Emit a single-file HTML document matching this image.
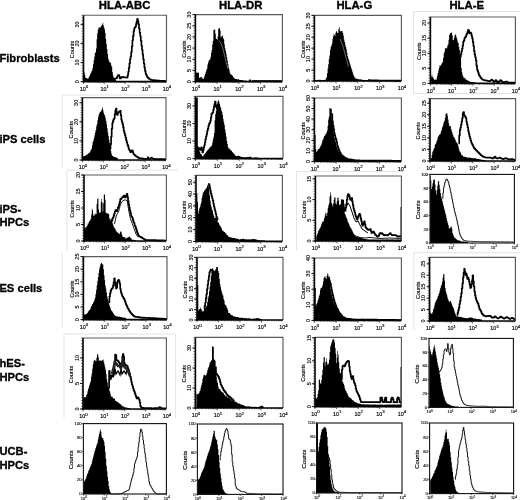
<!DOCTYPE html>
<html><head><meta charset="utf-8"><style>
html,body{margin:0;padding:0;background:#fff;}
svg{display:block;filter:blur(0.3px);font-family:"Liberation Sans",sans-serif;}
</style></head><body>
<svg width="520" height="500" viewBox="0 0 520 500">
<rect width="520" height="500" fill="#fff"/>
<path d="M84,81.6 L84,72.2 L84.6,72.2 L84.6,74.9 L85.2,74.9 L85.2,77.8 L85.8,77.8 L85.8,77.7 L86.4,77.7 L86.4,78.3 L87,78.3 L87,78.5 L87.6,78.5 L87.6,78.7 L88.2,78.7 L88.2,78.2 L88.8,78.2 L88.8,76.7 L89.4,76.7 L89.4,75.7 L90,75.7 L90,74.2 L90.6,74.2 L90.6,72.9 L91.2,72.9 L91.2,71.6 L91.8,71.6 L91.8,70.6 L92.4,70.6 L92.4,68 L93,68 L93,64.3 L93.6,64.3 L93.6,60.6 L94.2,60.6 L94.2,56.7 L94.8,56.7 L94.8,53.1 L95.4,53.1 L95.4,52.2 L96,52.2 L96,48.5 L96.6,48.5 L96.6,39.2 L97.2,39.2 L97.2,33.2 L97.8,33.2 L97.8,29.7 L98.4,29.7 L98.4,27.7 L99,27.7 L99,27.4 L99.6,27.4 L99.6,27.4 L100.2,27.4 L100.2,27.6 L100.8,27.6 L100.8,25.9 L101.4,25.9 L101.4,25.6 L102,25.6 L102,24.4 L102.6,24.4 L102.6,22.8 L103.2,22.8 L103.2,25.3 L103.8,25.3 L103.8,27.6 L104.4,27.6 L104.4,29.6 L105,29.6 L105,33 L105.6,33 L105.6,39.1 L106.2,39.1 L106.2,44 L106.8,44 L106.8,49 L107.4,49 L107.4,54 L108,54 L108,58.5 L108.6,58.5 L108.6,60.4 L109.2,60.4 L109.2,61.9 L109.8,61.9 L109.8,62.6 L110.4,62.6 L110.4,63.1 L111,63.1 L111,65.3 L111.6,65.3 L111.6,67 L112.2,67 L112.2,71.9 L112.8,71.9 L112.8,75.3 L113.4,75.3 L113.4,77.6 L114,77.6 L114,78.9 L114.6,78.9 L114.6,79 L115.2,79 L115.2,79.7 L115.8,79.7 L115.8,80.1 L116,80.1 L116,81.6 Z" fill="#000"/>
<path d="M113.2,78.8 L113.8,78.8 L113.8,78.8 L114.4,78.8 L114.4,78.5 L115,78.5 L115,78.6 L115.6,78.6 L115.6,78.5 L116.2,78.5 L116.2,78.3 L116.8,78.3 L116.8,77.4 L117.4,77.4 L117.4,75.9 L118,75.9 L118,75 L118.6,75 L118.6,75 L119.2,75 L119.2,76.3 L119.8,76.3 L119.8,78.5 L120.4,78.5 L120.4,78.1 L121,78.1 L121,77.7 L121.6,77.7 L121.6,77 L122.2,77 L122.2,77 L122.8,77 L122.8,76.8 L123.4,76.8 L123.4,77.2 L124,77.2 L124,77.3 L124.6,77.3 L124.6,77.5 L125.2,77.5 L125.2,77.5 L125.8,77.5 L125.8,77.3 L126.4,77.3 L126.4,77.4 L127,77.4 L127,77.6 L127.6,77.6 L127.6,75 L128.2,75 L128.2,71.8 L128.8,71.8 L128.8,67.8 L129.4,67.8 L129.4,63.4 L130,63.4 L130,59.1 L130.6,59.1 L130.6,56.2 L131.2,56.2 L131.2,52.1 L131.8,52.1 L131.8,46.4 L132.4,46.4 L132.4,40.3 L133,40.3 L133,35.9 L133.6,35.9 L133.6,31.1 L134.2,31.1 L134.2,28.3 L134.8,28.3 L134.8,27.3 L135.4,27.3 L135.4,26.4 L136,26.4 L136,23.8 L136.6,23.8 L136.6,21.3 L137.2,21.3 L137.2,18.9 L137.8,18.9 L137.8,20.8 L138.4,20.8 L138.4,24.2 L139,24.2 L139,28.4 L139.6,28.4 L139.6,32.6 L140.2,32.6 L140.2,36 L140.8,36 L140.8,40.7 L141.4,40.7 L141.4,45.5 L142,45.5 L142,49.9 L142.6,49.9 L142.6,54.5 L143.2,54.5 L143.2,59.2 L143.8,59.2 L143.8,63.5 L144.4,63.5 L144.4,67.5 L145,67.5 L145,70.9 L145.6,70.9 L145.6,73.6 L146.2,73.6 L146.2,74.9 L146.8,74.9 L146.8,76.3 L147.4,76.3 L147.4,77.3 L148,77.3 L148,77.9 L148.6,77.9 L148.6,78.4 L149.2,78.4 L149.2,78.9 L149.8,78.9 L149.8,79.1 L150.4,79.1 L150.4,79.8 L151,79.8 L151,79.9 L151.6,79.9 L151.6,80 L152.2,80 L152.2,80.1 L152.8,80.1 L152.8,80.1 L153.4,80.1 L153.4,80.2 L154,80.2 L154,80.2 L154.6,80.2 L154.6,80.4 L155.2,80.4 L155.2,80.3 L155.8,80.3 L155.8,80.3 L156.4,80.3 L156.4,80.4 L157,80.4 L157,80.5 L157.6,80.5 L157.6,80.6 L158.2,80.6 L158.2,80.6 L158.8,80.6 L158.8,80.7 L159.4,80.7 L159.4,80.8 L160,80.8 L160,80.8 L160.6,80.8 L160.6,80.8 L161.2,80.8 L161.2,80.8 L161.8,80.8 L161.8,80.9 L162.4,80.9 L162.4,80.9 L163,80.9 L163,80.9 L163.6,80.9 L163.6,80.9 L164.2,80.9 L164.2,80.9 L164.8,80.9 L164.8,81 L165.4,81 L165.4,81 L166,81" fill="none" stroke="#000" stroke-width="1.7" stroke-linejoin="round"/>
<polyline points="83.5,15.2 166.5,15.2 166.5,81.6" fill="none" stroke="#5a5a5a" stroke-width="1.15"/>
<line x1="83.5" y1="15.2" x2="83.5" y2="82.4" stroke="#000" stroke-width="1.6"/>
<line x1="82.7" y1="81.6" x2="166.5" y2="81.6" stroke="#000" stroke-width="1.6"/>
<line x1="81.7" y1="81.6" x2="83.5" y2="81.6" stroke="#222" stroke-width="0.7"/>
<line x1="81.7" y1="78.9" x2="83.5" y2="78.9" stroke="#222" stroke-width="0.7"/>
<line x1="81.7" y1="76.3" x2="83.5" y2="76.3" stroke="#222" stroke-width="0.7"/>
<line x1="81.7" y1="73.6" x2="83.5" y2="73.6" stroke="#222" stroke-width="0.7"/>
<line x1="81.7" y1="71" x2="83.5" y2="71" stroke="#222" stroke-width="0.7"/>
<line x1="81.7" y1="68.3" x2="83.5" y2="68.3" stroke="#222" stroke-width="0.7"/>
<line x1="81.7" y1="65.7" x2="83.5" y2="65.7" stroke="#222" stroke-width="0.7"/>
<line x1="81.7" y1="63" x2="83.5" y2="63" stroke="#222" stroke-width="0.7"/>
<line x1="81.7" y1="60.4" x2="83.5" y2="60.4" stroke="#222" stroke-width="0.7"/>
<line x1="81.7" y1="57.7" x2="83.5" y2="57.7" stroke="#222" stroke-width="0.7"/>
<line x1="81.7" y1="55" x2="83.5" y2="55" stroke="#222" stroke-width="0.7"/>
<line x1="81.7" y1="52.4" x2="83.5" y2="52.4" stroke="#222" stroke-width="0.7"/>
<line x1="81.7" y1="49.7" x2="83.5" y2="49.7" stroke="#222" stroke-width="0.7"/>
<line x1="81.7" y1="47.1" x2="83.5" y2="47.1" stroke="#222" stroke-width="0.7"/>
<line x1="81.7" y1="44.4" x2="83.5" y2="44.4" stroke="#222" stroke-width="0.7"/>
<line x1="81.7" y1="41.8" x2="83.5" y2="41.8" stroke="#222" stroke-width="0.7"/>
<line x1="81.7" y1="39.1" x2="83.5" y2="39.1" stroke="#222" stroke-width="0.7"/>
<line x1="81.7" y1="36.4" x2="83.5" y2="36.4" stroke="#222" stroke-width="0.7"/>
<line x1="81.7" y1="33.8" x2="83.5" y2="33.8" stroke="#222" stroke-width="0.7"/>
<line x1="81.7" y1="31.1" x2="83.5" y2="31.1" stroke="#222" stroke-width="0.7"/>
<line x1="81.7" y1="28.5" x2="83.5" y2="28.5" stroke="#222" stroke-width="0.7"/>
<line x1="81.7" y1="25.8" x2="83.5" y2="25.8" stroke="#222" stroke-width="0.7"/>
<line x1="81.7" y1="23.2" x2="83.5" y2="23.2" stroke="#222" stroke-width="0.7"/>
<line x1="81.7" y1="20.5" x2="83.5" y2="20.5" stroke="#222" stroke-width="0.7"/>
<line x1="81.7" y1="17.9" x2="83.5" y2="17.9" stroke="#222" stroke-width="0.7"/>
<line x1="81.7" y1="15.2" x2="83.5" y2="15.2" stroke="#222" stroke-width="0.7"/>
<line x1="80.5" y1="81.6" x2="83.5" y2="81.6" stroke="#000" stroke-width="0.9"/>
<text x="79.3" y="81.6" transform="rotate(-90 79.3 81.6)" font-size="5.5" text-anchor="middle" stroke="#000" stroke-width="0.12">0</text>
<line x1="80.5" y1="62.5" x2="83.5" y2="62.5" stroke="#000" stroke-width="0.9"/>
<text x="79.3" y="62.5" transform="rotate(-90 79.3 62.5)" font-size="5.5" text-anchor="middle" stroke="#000" stroke-width="0.12">10</text>
<line x1="80.5" y1="43.4" x2="83.5" y2="43.4" stroke="#000" stroke-width="0.9"/>
<text x="79.3" y="43.4" transform="rotate(-90 79.3 43.4)" font-size="5.5" text-anchor="middle" stroke="#000" stroke-width="0.12">20</text>
<line x1="80.5" y1="24.4" x2="83.5" y2="24.4" stroke="#000" stroke-width="0.9"/>
<text x="79.3" y="24.4" transform="rotate(-90 79.3 24.4)" font-size="5.5" text-anchor="middle" stroke="#000" stroke-width="0.12">30</text>
<text x="73.9" y="49.4" transform="rotate(-90 73.9 49.4)" font-size="5.5" text-anchor="middle" stroke="#000" stroke-width="0.12">Counts</text>
<line x1="83.5" y1="81.6" x2="83.5" y2="84" stroke="#222" stroke-width="0.7"/>
<line x1="89.7" y1="81.6" x2="89.7" y2="82.9" stroke="#222" stroke-width="0.7"/>
<line x1="93.4" y1="81.6" x2="93.4" y2="82.9" stroke="#222" stroke-width="0.7"/>
<line x1="96" y1="81.6" x2="96" y2="82.9" stroke="#222" stroke-width="0.7"/>
<line x1="98" y1="81.6" x2="98" y2="82.9" stroke="#222" stroke-width="0.7"/>
<line x1="99.6" y1="81.6" x2="99.6" y2="82.9" stroke="#222" stroke-width="0.7"/>
<line x1="101" y1="81.6" x2="101" y2="82.9" stroke="#222" stroke-width="0.7"/>
<line x1="102.2" y1="81.6" x2="102.2" y2="82.9" stroke="#222" stroke-width="0.7"/>
<line x1="103.3" y1="81.6" x2="103.3" y2="82.9" stroke="#222" stroke-width="0.7"/>
<line x1="104.2" y1="81.6" x2="104.2" y2="84" stroke="#222" stroke-width="0.7"/>
<line x1="110.5" y1="81.6" x2="110.5" y2="82.9" stroke="#222" stroke-width="0.7"/>
<line x1="114.2" y1="81.6" x2="114.2" y2="82.9" stroke="#222" stroke-width="0.7"/>
<line x1="116.7" y1="81.6" x2="116.7" y2="82.9" stroke="#222" stroke-width="0.7"/>
<line x1="118.8" y1="81.6" x2="118.8" y2="82.9" stroke="#222" stroke-width="0.7"/>
<line x1="120.4" y1="81.6" x2="120.4" y2="82.9" stroke="#222" stroke-width="0.7"/>
<line x1="121.8" y1="81.6" x2="121.8" y2="82.9" stroke="#222" stroke-width="0.7"/>
<line x1="123" y1="81.6" x2="123" y2="82.9" stroke="#222" stroke-width="0.7"/>
<line x1="124.1" y1="81.6" x2="124.1" y2="82.9" stroke="#222" stroke-width="0.7"/>
<line x1="125" y1="81.6" x2="125" y2="84" stroke="#222" stroke-width="0.7"/>
<line x1="131.2" y1="81.6" x2="131.2" y2="82.9" stroke="#222" stroke-width="0.7"/>
<line x1="134.9" y1="81.6" x2="134.9" y2="82.9" stroke="#222" stroke-width="0.7"/>
<line x1="137.5" y1="81.6" x2="137.5" y2="82.9" stroke="#222" stroke-width="0.7"/>
<line x1="139.5" y1="81.6" x2="139.5" y2="82.9" stroke="#222" stroke-width="0.7"/>
<line x1="141.1" y1="81.6" x2="141.1" y2="82.9" stroke="#222" stroke-width="0.7"/>
<line x1="142.5" y1="81.6" x2="142.5" y2="82.9" stroke="#222" stroke-width="0.7"/>
<line x1="143.7" y1="81.6" x2="143.7" y2="82.9" stroke="#222" stroke-width="0.7"/>
<line x1="144.8" y1="81.6" x2="144.8" y2="82.9" stroke="#222" stroke-width="0.7"/>
<line x1="145.8" y1="81.6" x2="145.8" y2="84" stroke="#222" stroke-width="0.7"/>
<line x1="152" y1="81.6" x2="152" y2="82.9" stroke="#222" stroke-width="0.7"/>
<line x1="155.7" y1="81.6" x2="155.7" y2="82.9" stroke="#222" stroke-width="0.7"/>
<line x1="158.2" y1="81.6" x2="158.2" y2="82.9" stroke="#222" stroke-width="0.7"/>
<line x1="160.3" y1="81.6" x2="160.3" y2="82.9" stroke="#222" stroke-width="0.7"/>
<line x1="161.9" y1="81.6" x2="161.9" y2="82.9" stroke="#222" stroke-width="0.7"/>
<line x1="163.3" y1="81.6" x2="163.3" y2="82.9" stroke="#222" stroke-width="0.7"/>
<line x1="164.5" y1="81.6" x2="164.5" y2="82.9" stroke="#222" stroke-width="0.7"/>
<line x1="165.6" y1="81.6" x2="165.6" y2="82.9" stroke="#222" stroke-width="0.7"/>
<text x="84.1" y="91" font-size="5.4" text-anchor="middle" stroke="#000" stroke-width="0.15">10<tspan font-size="4.4" dy="-2.6">0</tspan></text>
<text x="104.8" y="91" font-size="5.4" text-anchor="middle" stroke="#000" stroke-width="0.15">10<tspan font-size="4.4" dy="-2.6">1</tspan></text>
<text x="125.6" y="91" font-size="5.4" text-anchor="middle" stroke="#000" stroke-width="0.15">10<tspan font-size="4.4" dy="-2.6">2</tspan></text>
<text x="146.3" y="91" font-size="5.4" text-anchor="middle" stroke="#000" stroke-width="0.15">10<tspan font-size="4.4" dy="-2.6">3</tspan></text>
<text x="167.1" y="91" font-size="5.4" text-anchor="middle" stroke="#000" stroke-width="0.15">10<tspan font-size="4.4" dy="-2.6">4</tspan></text>
<path d="M195.4,81.6 L195.4,72.5 L196,72.5 L196,72.5 L196.6,72.5 L196.6,72.7 L197.2,72.7 L197.2,72.6 L197.8,72.6 L197.8,73 L198.4,73 L198.4,72.5 L199,72.5 L199,77.7 L199.6,77.7 L199.6,77.9 L200.2,77.9 L200.2,77.1 L200.8,77.1 L200.8,76.8 L201.4,76.8 L201.4,77.3 L202,77.3 L202,78.1 L202.6,78.1 L202.6,78.7 L203.2,78.7 L203.2,78.9 L203.8,78.9 L203.8,77.6 L204.4,77.6 L204.4,75.6 L205,75.6 L205,74.1 L205.6,74.1 L205.6,72 L206.2,72 L206.2,70.1 L206.8,70.1 L206.8,68.4 L207.4,68.4 L207.4,64.6 L208,64.6 L208,62.4 L208.6,62.4 L208.6,60.6 L209.2,60.6 L209.2,59.8 L209.8,59.8 L209.8,59.5 L210.4,59.5 L210.4,56.9 L211,56.9 L211,52.8 L211.6,52.8 L211.6,50 L212.2,50 L212.2,44.6 L212.8,44.6 L212.8,40.8 L213.4,40.8 L213.4,30 L214,30 L214,29.8 L214.6,29.8 L214.6,29.5 L215.2,29.5 L215.2,33.8 L215.8,33.8 L215.8,39 L216.4,39 L216.4,38.7 L217,38.7 L217,39.7 L217.6,39.7 L217.6,36.6 L218.2,36.6 L218.2,29 L218.8,29 L218.8,28.2 L219.4,28.2 L219.4,28 L220,28 L220,30.4 L220.6,30.4 L220.6,37.5 L221.2,37.5 L221.2,36.6 L221.8,36.6 L221.8,36 L222.4,36 L222.4,35.4 L223,35.4 L223,37.9 L223.6,37.9 L223.6,39.6 L224.2,39.6 L224.2,44.2 L224.8,44.2 L224.8,48.3 L225.4,48.3 L225.4,50.9 L226,50.9 L226,53.8 L226.6,53.8 L226.6,57.3 L227.2,57.3 L227.2,60.5 L227.8,60.5 L227.8,64.2 L228.4,64.2 L228.4,67.6 L229,67.6 L229,69.3 L229.6,69.3 L229.6,72.4 L230.2,72.4 L230.2,74.1 L230.8,74.1 L230.8,74.8 L231.4,74.8 L231.4,74.8 L232,74.8 L232,75.4 L232.6,75.4 L232.6,76.3 L233.2,76.3 L233.2,77.2 L233.8,77.2 L233.8,77.9 L234.4,77.9 L234.4,78.5 L235,78.5 L235,78.9 L235.6,78.9 L235.6,79 L236.2,79 L236.2,78.9 L236.8,78.9 L236.8,79.2 L237.4,79.2 L237.4,79.5 L238,79.5 L238,79.1 L238.6,79.1 L238.6,79.6 L239.2,79.6 L239.2,79.9 L239.8,79.9 L239.8,79.9 L240.4,79.9 L240.4,80 L241,80 L241,79.9 L241.6,79.9 L241.6,79.9 L242.2,79.9 L242.2,80.3 L242.8,80.3 L242.8,80.2 L243.4,80.2 L243.4,80.6 L244,80.6 L244,80.8 L244.6,80.8 L244.6,80.5 L245.2,80.5 L245.2,80.6 L245.8,80.6 L245.8,80.7 L246.4,80.7 L246.4,80.8 L247,80.8 L247,80.9 L247.6,80.9 L247.6,81 L248.2,81 L248.2,80.9 L248.8,80.9 L248.8,80.2 L249.4,80.2 L249.4,79.2 L250,79.2 L250,79.2 L250.6,79.2 L250.6,80 L251.2,80 L251.2,80.9 L251.8,80.9 L251.8,81.4 L252,81.4 L252,81.6 Z" fill="#000"/>
<path d="M252,81 L252.6,81 L252.6,81 L253.2,81 L253.2,81 L253.8,81 L253.8,81 L254.4,81 L254.4,81 L255,81 L255,81 L255.6,81 L255.6,81 L256.2,81 L256.2,81 L256.8,81 L256.8,81 L257.4,81 L257.4,81 L258,81 L258,81 L258.6,81 L258.6,81 L259.2,81 L259.2,81 L259.8,81 L259.8,81 L260.4,81 L260.4,81 L261,81 L261,81 L261.6,81 L261.6,81 L262.2,81 L262.2,81 L262.8,81 L262.8,81 L263.4,81 L263.4,81 L264,81 L264,81 L264.6,81 L264.6,81 L265.2,81 L265.2,81 L265.8,81 L265.8,81 L266.4,81 L266.4,81 L267,81 L267,81 L267.6,81 L267.6,81 L268.2,81 L268.2,81 L268.8,81 L268.8,81 L269.4,81 L269.4,81 L270,81 L270,81 L270.6,81 L270.6,81 L271.2,81 L271.2,81 L271.8,81 L271.8,81 L272.4,81 L272.4,81 L273,81 L273,81 L273.6,81 L273.6,81 L274.2,81 L274.2,81 L274.8,81 L274.8,81 L275.4,81 L275.4,81 L276,81 L276,81 L276.6,81 L276.6,81 L277.2,81 L277.2,81 L277.8,81 L277.8,81 L278.4,81 L278.4,81 L279,81 L279,81 L279.6,81 L279.6,81 L280.2,81 L280.2,81 L280.8,81 L280.8,81 L281.4,81 L281.4,81 L282,81" fill="none" stroke="#000" stroke-width="1.7" stroke-linejoin="round"/>
<polyline points="218.5,40.5 220.5,42.5 222.3,46.5 224,53 226,61.6 228,69" fill="none" stroke="#888" stroke-width="0.8"/>
<polyline points="195.4,14.6 282.4,14.6 282.4,81.6" fill="none" stroke="#5a5a5a" stroke-width="1.15"/>
<line x1="195.4" y1="14.6" x2="195.4" y2="82.4" stroke="#000" stroke-width="1.6"/>
<line x1="194.6" y1="81.6" x2="282.4" y2="81.6" stroke="#000" stroke-width="1.6"/>
<line x1="193.6" y1="81.6" x2="195.4" y2="81.6" stroke="#222" stroke-width="0.7"/>
<line x1="193.6" y1="78.9" x2="195.4" y2="78.9" stroke="#222" stroke-width="0.7"/>
<line x1="193.6" y1="76.2" x2="195.4" y2="76.2" stroke="#222" stroke-width="0.7"/>
<line x1="193.6" y1="73.6" x2="195.4" y2="73.6" stroke="#222" stroke-width="0.7"/>
<line x1="193.6" y1="70.9" x2="195.4" y2="70.9" stroke="#222" stroke-width="0.7"/>
<line x1="193.6" y1="68.2" x2="195.4" y2="68.2" stroke="#222" stroke-width="0.7"/>
<line x1="193.6" y1="65.5" x2="195.4" y2="65.5" stroke="#222" stroke-width="0.7"/>
<line x1="193.6" y1="62.8" x2="195.4" y2="62.8" stroke="#222" stroke-width="0.7"/>
<line x1="193.6" y1="60.2" x2="195.4" y2="60.2" stroke="#222" stroke-width="0.7"/>
<line x1="193.6" y1="57.5" x2="195.4" y2="57.5" stroke="#222" stroke-width="0.7"/>
<line x1="193.6" y1="54.8" x2="195.4" y2="54.8" stroke="#222" stroke-width="0.7"/>
<line x1="193.6" y1="52.1" x2="195.4" y2="52.1" stroke="#222" stroke-width="0.7"/>
<line x1="193.6" y1="49.4" x2="195.4" y2="49.4" stroke="#222" stroke-width="0.7"/>
<line x1="193.6" y1="46.8" x2="195.4" y2="46.8" stroke="#222" stroke-width="0.7"/>
<line x1="193.6" y1="44.1" x2="195.4" y2="44.1" stroke="#222" stroke-width="0.7"/>
<line x1="193.6" y1="41.4" x2="195.4" y2="41.4" stroke="#222" stroke-width="0.7"/>
<line x1="193.6" y1="38.7" x2="195.4" y2="38.7" stroke="#222" stroke-width="0.7"/>
<line x1="193.6" y1="36" x2="195.4" y2="36" stroke="#222" stroke-width="0.7"/>
<line x1="193.6" y1="33.4" x2="195.4" y2="33.4" stroke="#222" stroke-width="0.7"/>
<line x1="193.6" y1="30.7" x2="195.4" y2="30.7" stroke="#222" stroke-width="0.7"/>
<line x1="193.6" y1="28" x2="195.4" y2="28" stroke="#222" stroke-width="0.7"/>
<line x1="193.6" y1="25.3" x2="195.4" y2="25.3" stroke="#222" stroke-width="0.7"/>
<line x1="193.6" y1="22.6" x2="195.4" y2="22.6" stroke="#222" stroke-width="0.7"/>
<line x1="193.6" y1="20" x2="195.4" y2="20" stroke="#222" stroke-width="0.7"/>
<line x1="193.6" y1="17.3" x2="195.4" y2="17.3" stroke="#222" stroke-width="0.7"/>
<line x1="193.6" y1="14.6" x2="195.4" y2="14.6" stroke="#222" stroke-width="0.7"/>
<line x1="192.4" y1="81.6" x2="195.4" y2="81.6" stroke="#000" stroke-width="0.9"/>
<text x="191.2" y="81.6" transform="rotate(-90 191.2 81.6)" font-size="5.5" text-anchor="middle" stroke="#000" stroke-width="0.12">0</text>
<line x1="192.4" y1="70.4" x2="195.4" y2="70.4" stroke="#000" stroke-width="0.9"/>
<text x="191.2" y="70.4" transform="rotate(-90 191.2 70.4)" font-size="5.5" text-anchor="middle" stroke="#000" stroke-width="0.12">5</text>
<line x1="192.4" y1="59.3" x2="195.4" y2="59.3" stroke="#000" stroke-width="0.9"/>
<text x="191.2" y="59.3" transform="rotate(-90 191.2 59.3)" font-size="5.5" text-anchor="middle" stroke="#000" stroke-width="0.12">10</text>
<line x1="192.4" y1="48.1" x2="195.4" y2="48.1" stroke="#000" stroke-width="0.9"/>
<text x="191.2" y="48.1" transform="rotate(-90 191.2 48.1)" font-size="5.5" text-anchor="middle" stroke="#000" stroke-width="0.12">15</text>
<line x1="192.4" y1="36.9" x2="195.4" y2="36.9" stroke="#000" stroke-width="0.9"/>
<text x="191.2" y="36.9" transform="rotate(-90 191.2 36.9)" font-size="5.5" text-anchor="middle" stroke="#000" stroke-width="0.12">20</text>
<line x1="192.4" y1="25.8" x2="195.4" y2="25.8" stroke="#000" stroke-width="0.9"/>
<text x="191.2" y="25.8" transform="rotate(-90 191.2 25.8)" font-size="5.5" text-anchor="middle" stroke="#000" stroke-width="0.12">25</text>
<line x1="192.4" y1="14.6" x2="195.4" y2="14.6" stroke="#000" stroke-width="0.9"/>
<text x="191.2" y="14.6" transform="rotate(-90 191.2 14.6)" font-size="5.5" text-anchor="middle" stroke="#000" stroke-width="0.12">30</text>
<text x="185.8" y="49.1" transform="rotate(-90 185.8 49.1)" font-size="5.5" text-anchor="middle" stroke="#000" stroke-width="0.12">Counts</text>
<line x1="195.4" y1="81.6" x2="195.4" y2="84" stroke="#222" stroke-width="0.7"/>
<line x1="201.9" y1="81.6" x2="201.9" y2="82.9" stroke="#222" stroke-width="0.7"/>
<line x1="205.8" y1="81.6" x2="205.8" y2="82.9" stroke="#222" stroke-width="0.7"/>
<line x1="208.5" y1="81.6" x2="208.5" y2="82.9" stroke="#222" stroke-width="0.7"/>
<line x1="210.6" y1="81.6" x2="210.6" y2="82.9" stroke="#222" stroke-width="0.7"/>
<line x1="212.3" y1="81.6" x2="212.3" y2="82.9" stroke="#222" stroke-width="0.7"/>
<line x1="213.8" y1="81.6" x2="213.8" y2="82.9" stroke="#222" stroke-width="0.7"/>
<line x1="215" y1="81.6" x2="215" y2="82.9" stroke="#222" stroke-width="0.7"/>
<line x1="216.2" y1="81.6" x2="216.2" y2="82.9" stroke="#222" stroke-width="0.7"/>
<line x1="217.2" y1="81.6" x2="217.2" y2="84" stroke="#222" stroke-width="0.7"/>
<line x1="223.7" y1="81.6" x2="223.7" y2="82.9" stroke="#222" stroke-width="0.7"/>
<line x1="227.5" y1="81.6" x2="227.5" y2="82.9" stroke="#222" stroke-width="0.7"/>
<line x1="230.2" y1="81.6" x2="230.2" y2="82.9" stroke="#222" stroke-width="0.7"/>
<line x1="232.4" y1="81.6" x2="232.4" y2="82.9" stroke="#222" stroke-width="0.7"/>
<line x1="234.1" y1="81.6" x2="234.1" y2="82.9" stroke="#222" stroke-width="0.7"/>
<line x1="235.5" y1="81.6" x2="235.5" y2="82.9" stroke="#222" stroke-width="0.7"/>
<line x1="236.8" y1="81.6" x2="236.8" y2="82.9" stroke="#222" stroke-width="0.7"/>
<line x1="237.9" y1="81.6" x2="237.9" y2="82.9" stroke="#222" stroke-width="0.7"/>
<line x1="238.9" y1="81.6" x2="238.9" y2="84" stroke="#222" stroke-width="0.7"/>
<line x1="245.4" y1="81.6" x2="245.4" y2="82.9" stroke="#222" stroke-width="0.7"/>
<line x1="249.3" y1="81.6" x2="249.3" y2="82.9" stroke="#222" stroke-width="0.7"/>
<line x1="252" y1="81.6" x2="252" y2="82.9" stroke="#222" stroke-width="0.7"/>
<line x1="254.1" y1="81.6" x2="254.1" y2="82.9" stroke="#222" stroke-width="0.7"/>
<line x1="255.8" y1="81.6" x2="255.8" y2="82.9" stroke="#222" stroke-width="0.7"/>
<line x1="257.3" y1="81.6" x2="257.3" y2="82.9" stroke="#222" stroke-width="0.7"/>
<line x1="258.5" y1="81.6" x2="258.5" y2="82.9" stroke="#222" stroke-width="0.7"/>
<line x1="259.7" y1="81.6" x2="259.7" y2="82.9" stroke="#222" stroke-width="0.7"/>
<line x1="260.6" y1="81.6" x2="260.6" y2="84" stroke="#222" stroke-width="0.7"/>
<line x1="267.2" y1="81.6" x2="267.2" y2="82.9" stroke="#222" stroke-width="0.7"/>
<line x1="271" y1="81.6" x2="271" y2="82.9" stroke="#222" stroke-width="0.7"/>
<line x1="273.7" y1="81.6" x2="273.7" y2="82.9" stroke="#222" stroke-width="0.7"/>
<line x1="275.9" y1="81.6" x2="275.9" y2="82.9" stroke="#222" stroke-width="0.7"/>
<line x1="277.6" y1="81.6" x2="277.6" y2="82.9" stroke="#222" stroke-width="0.7"/>
<line x1="279" y1="81.6" x2="279" y2="82.9" stroke="#222" stroke-width="0.7"/>
<line x1="280.3" y1="81.6" x2="280.3" y2="82.9" stroke="#222" stroke-width="0.7"/>
<line x1="281.4" y1="81.6" x2="281.4" y2="82.9" stroke="#222" stroke-width="0.7"/>
<text x="196" y="91" font-size="5.4" text-anchor="middle" stroke="#000" stroke-width="0.15">10<tspan font-size="4.4" dy="-2.6">0</tspan></text>
<text x="217.8" y="91" font-size="5.4" text-anchor="middle" stroke="#000" stroke-width="0.15">10<tspan font-size="4.4" dy="-2.6">1</tspan></text>
<text x="239.5" y="91" font-size="5.4" text-anchor="middle" stroke="#000" stroke-width="0.15">10<tspan font-size="4.4" dy="-2.6">2</tspan></text>
<text x="261.2" y="91" font-size="5.4" text-anchor="middle" stroke="#000" stroke-width="0.15">10<tspan font-size="4.4" dy="-2.6">3</tspan></text>
<text x="283" y="91" font-size="5.4" text-anchor="middle" stroke="#000" stroke-width="0.15">10<tspan font-size="4.4" dy="-2.6">4</tspan></text>
<path d="M314.4,81 L314.4,80.1 L315,80.1 L315,80 L315.6,80 L315.6,79.7 L316.2,79.7 L316.2,80 L316.8,80 L316.8,80.1 L317.4,80.1 L317.4,80 L318,80 L318,79.8 L318.6,79.8 L318.6,79.9 L319.2,79.9 L319.2,79.7 L319.8,79.7 L319.8,79.7 L320.4,79.7 L320.4,80.1 L321,80.1 L321,80 L321.6,80 L321.6,79.9 L322.2,79.9 L322.2,80.1 L322.8,80.1 L322.8,79.9 L323.4,79.9 L323.4,80.1 L324,80.1 L324,80 L324.6,80 L324.6,79.8 L325.2,79.8 L325.2,79.8 L325.8,79.8 L325.8,78.5 L326.4,78.5 L326.4,76.9 L327,76.9 L327,73.3 L327.6,73.3 L327.6,68.6 L328.2,68.6 L328.2,64.2 L328.8,64.2 L328.8,59.1 L329.4,59.1 L329.4,55.6 L330,55.6 L330,50.1 L330.6,50.1 L330.6,47 L331.2,47 L331.2,45.5 L331.8,45.5 L331.8,43.5 L332.4,43.5 L332.4,39.1 L333,39.1 L333,36.6 L333.6,36.6 L333.6,34.1 L334.2,34.1 L334.2,34.8 L334.8,34.8 L334.8,35.9 L335.4,35.9 L335.4,32.7 L336,32.7 L336,30.9 L336.6,30.9 L336.6,31.8 L337.2,31.8 L337.2,32.9 L337.8,32.9 L337.8,33.1 L338.4,33.1 L338.4,28.8 L339,28.8 L339,27 L339.6,27 L339.6,30.2 L340.2,30.2 L340.2,31.4 L340.8,31.4 L340.8,31 L341.4,31 L341.4,31.2 L342,31.2 L342,31.1 L342.6,31.1 L342.6,33.1 L343.2,33.1 L343.2,35.6 L343.8,35.6 L343.8,39.4 L344.4,39.4 L344.4,41.9 L345,41.9 L345,44.5 L345.6,44.5 L345.6,47.1 L346.2,47.1 L346.2,49.2 L346.8,49.2 L346.8,52.7 L347.4,52.7 L347.4,56.3 L348,56.3 L348,58.5 L348.6,58.5 L348.6,59.8 L349.2,59.8 L349.2,62 L349.8,62 L349.8,63.9 L350.4,63.9 L350.4,65.9 L351,65.9 L351,68.1 L351.6,68.1 L351.6,69.8 L352.2,69.8 L352.2,71.8 L352.8,71.8 L352.8,73.7 L353.4,73.7 L353.4,75.6 L354,75.6 L354,76.5 L354.6,76.5 L354.6,77.7 L355.2,77.7 L355.2,78.4 L355.8,78.4 L355.8,78.2 L356.4,78.2 L356.4,78.7 L357,78.7 L357,79.1 L357.6,79.1 L357.6,79.3 L358.2,79.3 L358.2,79.1 L358.8,79.1 L358.8,79.2 L359.4,79.2 L359.4,79.4 L360,79.4 L360,79.3 L360.6,79.3 L360.6,79.4 L361.2,79.4 L361.2,79.4 L361.8,79.4 L361.8,79.8 L362.4,79.8 L362.4,79.9 L363,79.9 L363,80 L363.6,80 L363.6,79.7 L364.2,79.7 L364.2,80 L364.8,80 L364.8,80.1 L365.4,80.1 L365.4,79.9 L366,79.9 L366,80 L366.6,80 L366.6,80.1 L367.2,80.1 L367.2,80.1 L367.8,80.1 L367.8,80.2 L368,80.2 L368,81 Z" fill="#000"/>
<path d="M368,80.2 L368.6,80.2 L368.6,80.2 L369.2,80.2 L369.2,80.2 L369.8,80.2 L369.8,80.3 L370.4,80.3 L370.4,80.3 L371,80.3 L371,80.3 L371.6,80.3 L371.6,80.3 L372.2,80.3 L372.2,80.3 L372.8,80.3 L372.8,80.3 L373.4,80.3 L373.4,80.3 L374,80.3 L374,80.4 L374.6,80.4 L374.6,80.4 L375.2,80.4 L375.2,80.4 L375.8,80.4 L375.8,80.4 L376.4,80.4 L376.4,80.4 L377,80.4 L377,80.4 L377.6,80.4 L377.6,80.4 L378.2,80.4 L378.2,80.5 L378.8,80.5 L378.8,80.5 L379.4,80.5 L379.4,80.5 L380,80.5 L380,80.5 L380.6,80.5 L380.6,80.5 L381.2,80.5 L381.2,80.5 L381.8,80.5 L381.8,80.5 L382.4,80.5 L382.4,80.5 L383,80.5 L383,80.5 L383.6,80.5 L383.6,80.5 L384.2,80.5 L384.2,80.5 L384.8,80.5 L384.8,80.5 L385.4,80.5 L385.4,80.5 L386,80.5 L386,80.5 L386.6,80.5 L386.6,80.5 L387.2,80.5 L387.2,80.5 L387.8,80.5 L387.8,80.5 L388.4,80.5 L388.4,80.5 L389,80.5 L389,80.5 L389.6,80.5 L389.6,80.5 L390.2,80.5 L390.2,80.5 L390.8,80.5 L390.8,80.6 L391.4,80.6 L391.4,80.6 L392,80.6 L392,80.6 L392.6,80.6 L392.6,80.6 L393.2,80.6 L393.2,80.6 L393.8,80.6 L393.8,80.6 L394.4,80.6 L394.4,80.6 L395,80.6 L395,80.6 L395.6,80.6 L395.6,80.6 L396.2,80.6 L396.2,80.6 L396.8,80.6 L396.8,80.6 L397.4,80.6 L397.4,80.6 L398,80.6 L398,80.6 L398.6,80.6 L398.6,80.6 L399.2,80.6 L399.2,80.6 L399.8,80.6 L399.8,80.6 L400.4,80.6 L400.4,80.6 L401,80.6" fill="none" stroke="#000" stroke-width="1.7" stroke-linejoin="round"/>
<polyline points="340,39 342.5,44.5 344.5,52 346.5,59.5 348.5,66.5" fill="none" stroke="#888" stroke-width="0.8"/>
<polyline points="314.4,15.4 401.4,15.4 401.4,81" fill="none" stroke="#5a5a5a" stroke-width="1.15"/>
<line x1="314.4" y1="15.4" x2="314.4" y2="81.8" stroke="#000" stroke-width="1.6"/>
<line x1="313.6" y1="81" x2="401.4" y2="81" stroke="#000" stroke-width="1.6"/>
<line x1="312.6" y1="81" x2="314.4" y2="81" stroke="#222" stroke-width="0.7"/>
<line x1="312.6" y1="78.4" x2="314.4" y2="78.4" stroke="#222" stroke-width="0.7"/>
<line x1="312.6" y1="75.8" x2="314.4" y2="75.8" stroke="#222" stroke-width="0.7"/>
<line x1="312.6" y1="73.1" x2="314.4" y2="73.1" stroke="#222" stroke-width="0.7"/>
<line x1="312.6" y1="70.5" x2="314.4" y2="70.5" stroke="#222" stroke-width="0.7"/>
<line x1="312.6" y1="67.9" x2="314.4" y2="67.9" stroke="#222" stroke-width="0.7"/>
<line x1="312.6" y1="65.3" x2="314.4" y2="65.3" stroke="#222" stroke-width="0.7"/>
<line x1="312.6" y1="62.6" x2="314.4" y2="62.6" stroke="#222" stroke-width="0.7"/>
<line x1="312.6" y1="60" x2="314.4" y2="60" stroke="#222" stroke-width="0.7"/>
<line x1="312.6" y1="57.4" x2="314.4" y2="57.4" stroke="#222" stroke-width="0.7"/>
<line x1="312.6" y1="54.8" x2="314.4" y2="54.8" stroke="#222" stroke-width="0.7"/>
<line x1="312.6" y1="52.1" x2="314.4" y2="52.1" stroke="#222" stroke-width="0.7"/>
<line x1="312.6" y1="49.5" x2="314.4" y2="49.5" stroke="#222" stroke-width="0.7"/>
<line x1="312.6" y1="46.9" x2="314.4" y2="46.9" stroke="#222" stroke-width="0.7"/>
<line x1="312.6" y1="44.3" x2="314.4" y2="44.3" stroke="#222" stroke-width="0.7"/>
<line x1="312.6" y1="41.6" x2="314.4" y2="41.6" stroke="#222" stroke-width="0.7"/>
<line x1="312.6" y1="39" x2="314.4" y2="39" stroke="#222" stroke-width="0.7"/>
<line x1="312.6" y1="36.4" x2="314.4" y2="36.4" stroke="#222" stroke-width="0.7"/>
<line x1="312.6" y1="33.8" x2="314.4" y2="33.8" stroke="#222" stroke-width="0.7"/>
<line x1="312.6" y1="31.1" x2="314.4" y2="31.1" stroke="#222" stroke-width="0.7"/>
<line x1="312.6" y1="28.5" x2="314.4" y2="28.5" stroke="#222" stroke-width="0.7"/>
<line x1="312.6" y1="25.9" x2="314.4" y2="25.9" stroke="#222" stroke-width="0.7"/>
<line x1="312.6" y1="23.3" x2="314.4" y2="23.3" stroke="#222" stroke-width="0.7"/>
<line x1="312.6" y1="20.6" x2="314.4" y2="20.6" stroke="#222" stroke-width="0.7"/>
<line x1="312.6" y1="18" x2="314.4" y2="18" stroke="#222" stroke-width="0.7"/>
<line x1="312.6" y1="15.4" x2="314.4" y2="15.4" stroke="#222" stroke-width="0.7"/>
<line x1="311.4" y1="81" x2="314.4" y2="81" stroke="#000" stroke-width="0.9"/>
<text x="310.2" y="81" transform="rotate(-90 310.2 81)" font-size="5.5" text-anchor="middle" stroke="#000" stroke-width="0.12">0</text>
<line x1="311.4" y1="70.1" x2="314.4" y2="70.1" stroke="#000" stroke-width="0.9"/>
<text x="310.2" y="70.1" transform="rotate(-90 310.2 70.1)" font-size="5.5" text-anchor="middle" stroke="#000" stroke-width="0.12">5</text>
<line x1="311.4" y1="59.1" x2="314.4" y2="59.1" stroke="#000" stroke-width="0.9"/>
<text x="310.2" y="59.1" transform="rotate(-90 310.2 59.1)" font-size="5.5" text-anchor="middle" stroke="#000" stroke-width="0.12">10</text>
<line x1="311.4" y1="48.2" x2="314.4" y2="48.2" stroke="#000" stroke-width="0.9"/>
<text x="310.2" y="48.2" transform="rotate(-90 310.2 48.2)" font-size="5.5" text-anchor="middle" stroke="#000" stroke-width="0.12">15</text>
<line x1="311.4" y1="37.3" x2="314.4" y2="37.3" stroke="#000" stroke-width="0.9"/>
<text x="310.2" y="37.3" transform="rotate(-90 310.2 37.3)" font-size="5.5" text-anchor="middle" stroke="#000" stroke-width="0.12">20</text>
<line x1="311.4" y1="26.3" x2="314.4" y2="26.3" stroke="#000" stroke-width="0.9"/>
<text x="310.2" y="26.3" transform="rotate(-90 310.2 26.3)" font-size="5.5" text-anchor="middle" stroke="#000" stroke-width="0.12">25</text>
<line x1="311.4" y1="15.4" x2="314.4" y2="15.4" stroke="#000" stroke-width="0.9"/>
<text x="310.2" y="15.4" transform="rotate(-90 310.2 15.4)" font-size="5.5" text-anchor="middle" stroke="#000" stroke-width="0.12">30</text>
<text x="304.8" y="49.2" transform="rotate(-90 304.8 49.2)" font-size="5.5" text-anchor="middle" stroke="#000" stroke-width="0.12">Counts</text>
<line x1="314.4" y1="81" x2="314.4" y2="83.4" stroke="#222" stroke-width="0.7"/>
<line x1="320.9" y1="81" x2="320.9" y2="82.3" stroke="#222" stroke-width="0.7"/>
<line x1="324.8" y1="81" x2="324.8" y2="82.3" stroke="#222" stroke-width="0.7"/>
<line x1="327.5" y1="81" x2="327.5" y2="82.3" stroke="#222" stroke-width="0.7"/>
<line x1="329.6" y1="81" x2="329.6" y2="82.3" stroke="#222" stroke-width="0.7"/>
<line x1="331.3" y1="81" x2="331.3" y2="82.3" stroke="#222" stroke-width="0.7"/>
<line x1="332.8" y1="81" x2="332.8" y2="82.3" stroke="#222" stroke-width="0.7"/>
<line x1="334" y1="81" x2="334" y2="82.3" stroke="#222" stroke-width="0.7"/>
<line x1="335.2" y1="81" x2="335.2" y2="82.3" stroke="#222" stroke-width="0.7"/>
<line x1="336.1" y1="81" x2="336.1" y2="83.4" stroke="#222" stroke-width="0.7"/>
<line x1="342.7" y1="81" x2="342.7" y2="82.3" stroke="#222" stroke-width="0.7"/>
<line x1="346.5" y1="81" x2="346.5" y2="82.3" stroke="#222" stroke-width="0.7"/>
<line x1="349.2" y1="81" x2="349.2" y2="82.3" stroke="#222" stroke-width="0.7"/>
<line x1="351.4" y1="81" x2="351.4" y2="82.3" stroke="#222" stroke-width="0.7"/>
<line x1="353.1" y1="81" x2="353.1" y2="82.3" stroke="#222" stroke-width="0.7"/>
<line x1="354.5" y1="81" x2="354.5" y2="82.3" stroke="#222" stroke-width="0.7"/>
<line x1="355.8" y1="81" x2="355.8" y2="82.3" stroke="#222" stroke-width="0.7"/>
<line x1="356.9" y1="81" x2="356.9" y2="82.3" stroke="#222" stroke-width="0.7"/>
<line x1="357.9" y1="81" x2="357.9" y2="83.4" stroke="#222" stroke-width="0.7"/>
<line x1="364.4" y1="81" x2="364.4" y2="82.3" stroke="#222" stroke-width="0.7"/>
<line x1="368.3" y1="81" x2="368.3" y2="82.3" stroke="#222" stroke-width="0.7"/>
<line x1="371" y1="81" x2="371" y2="82.3" stroke="#222" stroke-width="0.7"/>
<line x1="373.1" y1="81" x2="373.1" y2="82.3" stroke="#222" stroke-width="0.7"/>
<line x1="374.8" y1="81" x2="374.8" y2="82.3" stroke="#222" stroke-width="0.7"/>
<line x1="376.3" y1="81" x2="376.3" y2="82.3" stroke="#222" stroke-width="0.7"/>
<line x1="377.5" y1="81" x2="377.5" y2="82.3" stroke="#222" stroke-width="0.7"/>
<line x1="378.7" y1="81" x2="378.7" y2="82.3" stroke="#222" stroke-width="0.7"/>
<line x1="379.6" y1="81" x2="379.6" y2="83.4" stroke="#222" stroke-width="0.7"/>
<line x1="386.2" y1="81" x2="386.2" y2="82.3" stroke="#222" stroke-width="0.7"/>
<line x1="390" y1="81" x2="390" y2="82.3" stroke="#222" stroke-width="0.7"/>
<line x1="392.7" y1="81" x2="392.7" y2="82.3" stroke="#222" stroke-width="0.7"/>
<line x1="394.9" y1="81" x2="394.9" y2="82.3" stroke="#222" stroke-width="0.7"/>
<line x1="396.6" y1="81" x2="396.6" y2="82.3" stroke="#222" stroke-width="0.7"/>
<line x1="398" y1="81" x2="398" y2="82.3" stroke="#222" stroke-width="0.7"/>
<line x1="399.3" y1="81" x2="399.3" y2="82.3" stroke="#222" stroke-width="0.7"/>
<line x1="400.4" y1="81" x2="400.4" y2="82.3" stroke="#222" stroke-width="0.7"/>
<text x="315" y="90.4" font-size="5.4" text-anchor="middle" stroke="#000" stroke-width="0.15">10<tspan font-size="4.4" dy="-2.6">0</tspan></text>
<text x="336.8" y="90.4" font-size="5.4" text-anchor="middle" stroke="#000" stroke-width="0.15">10<tspan font-size="4.4" dy="-2.6">1</tspan></text>
<text x="358.5" y="90.4" font-size="5.4" text-anchor="middle" stroke="#000" stroke-width="0.15">10<tspan font-size="4.4" dy="-2.6">2</tspan></text>
<text x="380.2" y="90.4" font-size="5.4" text-anchor="middle" stroke="#000" stroke-width="0.15">10<tspan font-size="4.4" dy="-2.6">3</tspan></text>
<text x="402" y="90.4" font-size="5.4" text-anchor="middle" stroke="#000" stroke-width="0.15">10<tspan font-size="4.4" dy="-2.6">4</tspan></text>
<path d="M430.5,83.4 L430.5,77.5 L431.1,77.5 L431.1,76.7 L431.7,76.7 L431.7,75 L432.3,75 L432.3,77.1 L432.9,77.1 L432.9,77.6 L433.5,77.6 L433.5,78.9 L434.1,78.9 L434.1,79.7 L434.7,79.7 L434.7,79.8 L435.3,79.8 L435.3,79.5 L435.9,79.5 L435.9,80 L436.5,80 L436.5,78.2 L437.1,78.2 L437.1,75.6 L437.7,75.6 L437.7,73 L438.3,73 L438.3,70.3 L438.9,70.3 L438.9,67.9 L439.5,67.9 L439.5,65.3 L440.1,65.3 L440.1,65.8 L440.7,65.8 L440.7,65.2 L441.3,65.2 L441.3,63.7 L441.9,63.7 L441.9,63.1 L442.5,63.1 L442.5,61.7 L443.1,61.7 L443.1,58 L443.7,58 L443.7,53.6 L444.3,53.6 L444.3,51.5 L444.9,51.5 L444.9,48.1 L445.5,48.1 L445.5,48.8 L446.1,48.8 L446.1,47.7 L446.7,47.7 L446.7,48.3 L447.3,48.3 L447.3,45.6 L447.9,45.6 L447.9,44.6 L448.5,44.6 L448.5,39.7 L449.1,39.7 L449.1,35 L449.7,35 L449.7,33.6 L450.3,33.6 L450.3,32.9 L450.9,32.9 L450.9,32.8 L451.5,32.8 L451.5,32.6 L452.1,32.6 L452.1,35.2 L452.7,35.2 L452.7,40.1 L453.3,40.1 L453.3,40.2 L453.9,40.2 L453.9,38.1 L454.5,38.1 L454.5,35.2 L455.1,35.2 L455.1,34.2 L455.7,34.2 L455.7,35.5 L456.3,35.5 L456.3,37.6 L456.9,37.6 L456.9,39.4 L457.5,39.4 L457.5,42.2 L458.1,42.2 L458.1,43.3 L458.7,43.3 L458.7,46.9 L459.3,46.9 L459.3,50 L459.9,50 L459.9,55.8 L460.5,55.8 L460.5,58.7 L461.1,58.7 L461.1,68.1 L461.7,68.1 L461.7,72 L462.3,72 L462.3,75.1 L462.9,75.1 L462.9,76.4 L463.5,76.4 L463.5,77.8 L464.1,77.8 L464.1,77.8 L464.7,77.8 L464.7,78.3 L465.3,78.3 L465.3,79.3 L465.9,79.3 L465.9,79.6 L466.5,79.6 L466.5,80 L467.1,80 L467.1,80.3 L467.7,80.3 L467.7,80.5 L468.3,80.5 L468.3,80.9 L468.9,80.9 L468.9,81.3 L469.5,81.3 L469.5,81.6 L470.1,81.6 L470.1,82.1 L470.7,82.1 L470.7,81.9 L471.3,81.9 L471.3,82.1 L471.9,82.1 L471.9,82 L472.5,82 L472.5,82.2 L473.1,82.2 L473.1,82.1 L473.7,82.1 L473.7,82.3 L474.3,82.3 L474.3,82.4 L474.9,82.4 L474.9,82.5 L475.5,82.5 L475.5,82.6 L476,82.6 L476,83.4 Z" fill="#000"/>
<path d="M459.6,58.4 L460.2,58.4 L460.2,56.6 L460.8,56.6 L460.8,54.1 L461.4,54.1 L461.4,51.3 L462,51.3 L462,48.7 L462.6,48.7 L462.6,45.6 L463.2,45.6 L463.2,41.7 L463.8,41.7 L463.8,40.4 L464.4,40.4 L464.4,38.3 L465,38.3 L465,37.2 L465.6,37.2 L465.6,36.4 L466.2,36.4 L466.2,34.8 L466.8,34.8 L466.8,33.7 L467.4,33.7 L467.4,31.8 L468,31.8 L468,29.9 L468.6,29.9 L468.6,30.6 L469.2,30.6 L469.2,33.1 L469.8,33.1 L469.8,33.2 L470.4,33.2 L470.4,32.6 L471,32.6 L471,33.7 L471.6,33.7 L471.6,36 L472.2,36 L472.2,38.6 L472.8,38.6 L472.8,42.2 L473.4,42.2 L473.4,46 L474,46 L474,50.9 L474.6,50.9 L474.6,54.4 L475.2,54.4 L475.2,57.2 L475.8,57.2 L475.8,60.3 L476.4,60.3 L476.4,65.4 L477,65.4 L477,69.4 L477.6,69.4 L477.6,71.2 L478.2,71.2 L478.2,72.9 L478.8,72.9 L478.8,74.9 L479.4,74.9 L479.4,75.8 L480,75.8 L480,76.8 L480.6,76.8 L480.6,77.6 L481.2,77.6 L481.2,78.6 L481.8,78.6 L481.8,78.9 L482.4,78.9 L482.4,79.5 L483,79.5 L483,79.8 L483.6,79.8 L483.6,80 L484.2,80 L484.2,80 L484.8,80 L484.8,80.5 L485.4,80.5 L485.4,80.4 L486,80.4 L486,80.5 L486.6,80.5 L486.6,80.5 L487.2,80.5 L487.2,80.8 L487.8,80.8 L487.8,80.9 L488.4,80.9 L488.4,81 L489,81 L489,81 L489.6,81 L489.6,81.2 L490.2,81.2 L490.2,80.7 L490.8,80.7 L490.8,80.2 L491.4,80.2 L491.4,79.7 L492,79.7 L492,79.9 L492.6,79.9 L492.6,80.5 L493.2,80.5 L493.2,81.3 L493.8,81.3 L493.8,81.9 L494.4,81.9 L494.4,81.3 L495,81.3 L495,80.8 L495.6,80.8 L495.6,80.2 L496.2,80.2 L496.2,80.8 L496.8,80.8 L496.8,81.4 L497.4,81.4 L497.4,82.2 L498,82.2 L498,82.3 L498.6,82.3 L498.6,81.7 L499.2,81.7 L499.2,81.2 L499.8,81.2 L499.8,81 L500.4,81 L500.4,80.2 L501,80.2 L501,80.5 L501.6,80.5 L501.6,81.2 L502.2,81.2 L502.2,81.8 L502.8,81.8 L502.8,82.5 L503.4,82.5 L503.4,82.4 L504,82.4 L504,82.2 L504.6,82.2 L504.6,82 L505.2,82 L505.2,81.8 L505.8,81.8 L505.8,81.7 L506.4,81.7 L506.4,81.6 L507,81.6 L507,81.9 L507.6,81.9 L507.6,82.1 L508.2,82.1 L508.2,82.3 L508.8,82.3 L508.8,82.5 L509.4,82.5 L509.4,82.5 L510,82.5 L510,82.6 L510.6,82.6 L510.6,82.6 L511.2,82.6 L511.2,82.6 L511.8,82.6 L511.8,82.6 L512.4,82.6 L512.4,82.7 L513,82.7 L513,82.7 L513.6,82.7 L513.6,82.7 L514.2,82.7 L514.2,82.7 L514.8,82.7 L514.8,82.7 L515,82.7" fill="none" stroke="#000" stroke-width="1.7" stroke-linejoin="round"/>
<polyline points="430.4,17 515.4,17 515.4,83.4" fill="none" stroke="#5a5a5a" stroke-width="1.15"/>
<line x1="430.4" y1="17" x2="430.4" y2="84.2" stroke="#000" stroke-width="1.6"/>
<line x1="429.6" y1="83.4" x2="515.4" y2="83.4" stroke="#000" stroke-width="1.6"/>
<line x1="428.6" y1="83.4" x2="430.4" y2="83.4" stroke="#222" stroke-width="0.7"/>
<line x1="428.6" y1="80.7" x2="430.4" y2="80.7" stroke="#222" stroke-width="0.7"/>
<line x1="428.6" y1="78.1" x2="430.4" y2="78.1" stroke="#222" stroke-width="0.7"/>
<line x1="428.6" y1="75.4" x2="430.4" y2="75.4" stroke="#222" stroke-width="0.7"/>
<line x1="428.6" y1="72.8" x2="430.4" y2="72.8" stroke="#222" stroke-width="0.7"/>
<line x1="428.6" y1="70.1" x2="430.4" y2="70.1" stroke="#222" stroke-width="0.7"/>
<line x1="428.6" y1="67.5" x2="430.4" y2="67.5" stroke="#222" stroke-width="0.7"/>
<line x1="428.6" y1="64.8" x2="430.4" y2="64.8" stroke="#222" stroke-width="0.7"/>
<line x1="428.6" y1="62.2" x2="430.4" y2="62.2" stroke="#222" stroke-width="0.7"/>
<line x1="428.6" y1="59.5" x2="430.4" y2="59.5" stroke="#222" stroke-width="0.7"/>
<line x1="428.6" y1="56.8" x2="430.4" y2="56.8" stroke="#222" stroke-width="0.7"/>
<line x1="428.6" y1="54.2" x2="430.4" y2="54.2" stroke="#222" stroke-width="0.7"/>
<line x1="428.6" y1="51.5" x2="430.4" y2="51.5" stroke="#222" stroke-width="0.7"/>
<line x1="428.6" y1="48.9" x2="430.4" y2="48.9" stroke="#222" stroke-width="0.7"/>
<line x1="428.6" y1="46.2" x2="430.4" y2="46.2" stroke="#222" stroke-width="0.7"/>
<line x1="428.6" y1="43.6" x2="430.4" y2="43.6" stroke="#222" stroke-width="0.7"/>
<line x1="428.6" y1="40.9" x2="430.4" y2="40.9" stroke="#222" stroke-width="0.7"/>
<line x1="428.6" y1="38.2" x2="430.4" y2="38.2" stroke="#222" stroke-width="0.7"/>
<line x1="428.6" y1="35.6" x2="430.4" y2="35.6" stroke="#222" stroke-width="0.7"/>
<line x1="428.6" y1="32.9" x2="430.4" y2="32.9" stroke="#222" stroke-width="0.7"/>
<line x1="428.6" y1="30.3" x2="430.4" y2="30.3" stroke="#222" stroke-width="0.7"/>
<line x1="428.6" y1="27.6" x2="430.4" y2="27.6" stroke="#222" stroke-width="0.7"/>
<line x1="428.6" y1="25" x2="430.4" y2="25" stroke="#222" stroke-width="0.7"/>
<line x1="428.6" y1="22.3" x2="430.4" y2="22.3" stroke="#222" stroke-width="0.7"/>
<line x1="428.6" y1="19.7" x2="430.4" y2="19.7" stroke="#222" stroke-width="0.7"/>
<line x1="428.6" y1="17" x2="430.4" y2="17" stroke="#222" stroke-width="0.7"/>
<line x1="427.4" y1="83.4" x2="430.4" y2="83.4" stroke="#000" stroke-width="0.9"/>
<text x="426.2" y="83.4" transform="rotate(-90 426.2 83.4)" font-size="5.5" text-anchor="middle" stroke="#000" stroke-width="0.12">0</text>
<line x1="427.4" y1="68.3" x2="430.4" y2="68.3" stroke="#000" stroke-width="0.9"/>
<text x="426.2" y="68.3" transform="rotate(-90 426.2 68.3)" font-size="5.5" text-anchor="middle" stroke="#000" stroke-width="0.12">5</text>
<line x1="427.4" y1="53.2" x2="430.4" y2="53.2" stroke="#000" stroke-width="0.9"/>
<text x="426.2" y="53.2" transform="rotate(-90 426.2 53.2)" font-size="5.5" text-anchor="middle" stroke="#000" stroke-width="0.12">10</text>
<line x1="427.4" y1="38.1" x2="430.4" y2="38.1" stroke="#000" stroke-width="0.9"/>
<text x="426.2" y="38.1" transform="rotate(-90 426.2 38.1)" font-size="5.5" text-anchor="middle" stroke="#000" stroke-width="0.12">15</text>
<line x1="427.4" y1="23" x2="430.4" y2="23" stroke="#000" stroke-width="0.9"/>
<text x="426.2" y="23" transform="rotate(-90 426.2 23)" font-size="5.5" text-anchor="middle" stroke="#000" stroke-width="0.12">20</text>
<text x="420.8" y="51.2" transform="rotate(-90 420.8 51.2)" font-size="5.5" text-anchor="middle" stroke="#000" stroke-width="0.12">Counts</text>
<line x1="430.4" y1="83.4" x2="430.4" y2="85.8" stroke="#222" stroke-width="0.7"/>
<line x1="436.8" y1="83.4" x2="436.8" y2="84.7" stroke="#222" stroke-width="0.7"/>
<line x1="440.5" y1="83.4" x2="440.5" y2="84.7" stroke="#222" stroke-width="0.7"/>
<line x1="443.2" y1="83.4" x2="443.2" y2="84.7" stroke="#222" stroke-width="0.7"/>
<line x1="445.3" y1="83.4" x2="445.3" y2="84.7" stroke="#222" stroke-width="0.7"/>
<line x1="446.9" y1="83.4" x2="446.9" y2="84.7" stroke="#222" stroke-width="0.7"/>
<line x1="448.4" y1="83.4" x2="448.4" y2="84.7" stroke="#222" stroke-width="0.7"/>
<line x1="449.6" y1="83.4" x2="449.6" y2="84.7" stroke="#222" stroke-width="0.7"/>
<line x1="450.7" y1="83.4" x2="450.7" y2="84.7" stroke="#222" stroke-width="0.7"/>
<line x1="451.6" y1="83.4" x2="451.6" y2="85.8" stroke="#222" stroke-width="0.7"/>
<line x1="458" y1="83.4" x2="458" y2="84.7" stroke="#222" stroke-width="0.7"/>
<line x1="461.8" y1="83.4" x2="461.8" y2="84.7" stroke="#222" stroke-width="0.7"/>
<line x1="464.4" y1="83.4" x2="464.4" y2="84.7" stroke="#222" stroke-width="0.7"/>
<line x1="466.5" y1="83.4" x2="466.5" y2="84.7" stroke="#222" stroke-width="0.7"/>
<line x1="468.2" y1="83.4" x2="468.2" y2="84.7" stroke="#222" stroke-width="0.7"/>
<line x1="469.6" y1="83.4" x2="469.6" y2="84.7" stroke="#222" stroke-width="0.7"/>
<line x1="470.8" y1="83.4" x2="470.8" y2="84.7" stroke="#222" stroke-width="0.7"/>
<line x1="471.9" y1="83.4" x2="471.9" y2="84.7" stroke="#222" stroke-width="0.7"/>
<line x1="472.9" y1="83.4" x2="472.9" y2="85.8" stroke="#222" stroke-width="0.7"/>
<line x1="479.3" y1="83.4" x2="479.3" y2="84.7" stroke="#222" stroke-width="0.7"/>
<line x1="483" y1="83.4" x2="483" y2="84.7" stroke="#222" stroke-width="0.7"/>
<line x1="485.7" y1="83.4" x2="485.7" y2="84.7" stroke="#222" stroke-width="0.7"/>
<line x1="487.8" y1="83.4" x2="487.8" y2="84.7" stroke="#222" stroke-width="0.7"/>
<line x1="489.4" y1="83.4" x2="489.4" y2="84.7" stroke="#222" stroke-width="0.7"/>
<line x1="490.9" y1="83.4" x2="490.9" y2="84.7" stroke="#222" stroke-width="0.7"/>
<line x1="492.1" y1="83.4" x2="492.1" y2="84.7" stroke="#222" stroke-width="0.7"/>
<line x1="493.2" y1="83.4" x2="493.2" y2="84.7" stroke="#222" stroke-width="0.7"/>
<line x1="494.1" y1="83.4" x2="494.1" y2="85.8" stroke="#222" stroke-width="0.7"/>
<line x1="500.5" y1="83.4" x2="500.5" y2="84.7" stroke="#222" stroke-width="0.7"/>
<line x1="504.3" y1="83.4" x2="504.3" y2="84.7" stroke="#222" stroke-width="0.7"/>
<line x1="506.9" y1="83.4" x2="506.9" y2="84.7" stroke="#222" stroke-width="0.7"/>
<line x1="509" y1="83.4" x2="509" y2="84.7" stroke="#222" stroke-width="0.7"/>
<line x1="510.7" y1="83.4" x2="510.7" y2="84.7" stroke="#222" stroke-width="0.7"/>
<line x1="512.1" y1="83.4" x2="512.1" y2="84.7" stroke="#222" stroke-width="0.7"/>
<line x1="513.3" y1="83.4" x2="513.3" y2="84.7" stroke="#222" stroke-width="0.7"/>
<line x1="514.4" y1="83.4" x2="514.4" y2="84.7" stroke="#222" stroke-width="0.7"/>
<text x="431" y="92.8" font-size="5.4" text-anchor="middle" stroke="#000" stroke-width="0.15">10<tspan font-size="4.4" dy="-2.6">0</tspan></text>
<text x="452.2" y="92.8" font-size="5.4" text-anchor="middle" stroke="#000" stroke-width="0.15">10<tspan font-size="4.4" dy="-2.6">1</tspan></text>
<text x="473.5" y="92.8" font-size="5.4" text-anchor="middle" stroke="#000" stroke-width="0.15">10<tspan font-size="4.4" dy="-2.6">2</tspan></text>
<text x="494.8" y="92.8" font-size="5.4" text-anchor="middle" stroke="#000" stroke-width="0.15">10<tspan font-size="4.4" dy="-2.6">3</tspan></text>
<text x="516" y="92.8" font-size="5.4" text-anchor="middle" stroke="#000" stroke-width="0.15">10<tspan font-size="4.4" dy="-2.6">4</tspan></text>
<path d="M83,160 L83,156.4 L83.6,156.4 L83.6,156.1 L84.2,156.1 L84.2,156.1 L84.8,156.1 L84.8,155.8 L85.4,155.8 L85.4,155.6 L86,155.6 L86,155.1 L86.6,155.1 L86.6,154.7 L87.2,154.7 L87.2,154.3 L87.8,154.3 L87.8,153.8 L88.4,153.8 L88.4,153 L89,153 L89,153.1 L89.6,153.1 L89.6,152 L90.2,152 L90.2,150.9 L90.8,150.9 L90.8,149.7 L91.4,149.7 L91.4,148.6 L92,148.6 L92,145.5 L92.6,145.5 L92.6,142 L93.2,142 L93.2,140.4 L93.8,140.4 L93.8,137.9 L94.4,137.9 L94.4,135.2 L95,135.2 L95,132.6 L95.6,132.6 L95.6,129.9 L96.2,129.9 L96.2,126.3 L96.8,126.3 L96.8,124.1 L97.4,124.1 L97.4,120.3 L98,120.3 L98,117.2 L98.6,117.2 L98.6,114.6 L99.2,114.6 L99.2,113.3 L99.8,113.3 L99.8,111.8 L100.4,111.8 L100.4,111.7 L101,111.7 L101,111.1 L101.6,111.1 L101.6,108.9 L102.2,108.9 L102.2,107.2 L102.8,107.2 L102.8,109.9 L103.4,109.9 L103.4,112.8 L104,112.8 L104,114.6 L104.6,114.6 L104.6,115.6 L105.2,115.6 L105.2,118 L105.8,118 L105.8,120.7 L106.4,120.7 L106.4,124.3 L107,124.3 L107,128.2 L107.6,128.2 L107.6,132.6 L108.2,132.6 L108.2,135.7 L108.8,135.7 L108.8,139.8 L109.4,139.8 L109.4,143.1 L110,143.1 L110,147.2 L110.6,147.2 L110.6,150.7 L111.2,150.7 L111.2,153.6 L111.8,153.6 L111.8,155.4 L112.4,155.4 L112.4,155.9 L113,155.9 L113,156.2 L113.6,156.2 L113.6,156.9 L114.2,156.9 L114.2,157.1 L114.8,157.1 L114.8,157.3 L115.4,157.3 L115.4,157.3 L116,157.3 L116,157.8 L116.6,157.8 L116.6,157.6 L117.2,157.6 L117.2,158.2 L117.8,158.2 L117.8,158.3 L118,158.3 L118,160 Z" fill="#000"/>
<path d="M109.9,148.8 L110.5,148.8 L110.5,144.2 L111.1,144.2 L111.1,136.5 L111.7,136.5 L111.7,128.5 L112.3,128.5 L112.3,123 L112.9,123 L112.9,120.9 L113.5,120.9 L113.5,119.2 L114.1,119.2 L114.1,118.3 L114.7,118.3 L114.7,114.4 L115.3,114.4 L115.3,110.7 L115.9,110.7 L115.9,108.7 L116.5,108.7 L116.5,112.1 L117.1,112.1 L117.1,114.9 L117.7,114.9 L117.7,113 L118.3,113 L118.3,112.4 L118.9,112.4 L118.9,111.6 L119.5,111.6 L119.5,111.5 L120.1,111.5 L120.1,110.8 L120.7,110.8 L120.7,115.2 L121.3,115.2 L121.3,119.8 L121.9,119.8 L121.9,122 L122.5,122 L122.5,124.2 L123.1,124.2 L123.1,127.2 L123.7,127.2 L123.7,130.8 L124.3,130.8 L124.3,133 L124.9,133 L124.9,135.2 L125.5,135.2 L125.5,137.5 L126.1,137.5 L126.1,140.2 L126.7,140.2 L126.7,142.4 L127.3,142.4 L127.3,144.7 L127.9,144.7 L127.9,145.9 L128.5,145.9 L128.5,148.5 L129.1,148.5 L129.1,149.8 L129.7,149.8 L129.7,150.4 L130.3,150.4 L130.3,152.2 L130.9,152.2 L130.9,151.7 L131.5,151.7 L131.5,150.6 L132.1,150.6 L132.1,150.3 L132.7,150.3 L132.7,152.1 L133.3,152.1 L133.3,153.6 L133.9,153.6 L133.9,154.6 L134.5,154.6 L134.5,154.9 L135.1,154.9 L135.1,155.4 L135.7,155.4 L135.7,156.1 L136.3,156.1 L136.3,156.4 L136.9,156.4 L136.9,156.7 L137.5,156.7 L137.5,157.1 L138.1,157.1 L138.1,157.7 L138.7,157.7 L138.7,157.9 L139.3,157.9 L139.3,158.4 L139.9,158.4 L139.9,158.2 L140.5,158.2 L140.5,158.3 L141.1,158.3 L141.1,158.4 L141.7,158.4 L141.7,158.4 L142.3,158.4 L142.3,158.5 L142.9,158.5 L142.9,158.7 L143.5,158.7 L143.5,158.8 L144.1,158.8 L144.1,158.8 L144.7,158.8 L144.7,158.8 L145.3,158.8 L145.3,158.9 L145.9,158.9 L145.9,159 L146.5,159 L146.5,158.9 L147.1,158.9 L147.1,158.5 L147.7,158.5 L147.7,157.4 L148.3,157.4 L148.3,158.5 L148.9,158.5 L148.9,158.8 L149.5,158.8 L149.5,158.7 L150.1,158.7 L150.1,158.4 L150.7,158.4 L150.7,158 L151.3,158 L151.3,157.6 L151.9,157.6 L151.9,158 L152.5,158 L152.5,158.6 L153.1,158.6 L153.1,159 L153.7,159 L153.7,158.9 L154.3,158.9 L154.3,158.9 L154.9,158.9 L154.9,159.1 L155.5,159.1 L155.5,159.2 L156.1,159.2 L156.1,159 L156.7,159 L156.7,159 L157.3,159 L157.3,159 L157.9,159 L157.9,159.1 L158.5,159.1 L158.5,159.1 L159.1,159.1 L159.1,159.1 L159.7,159.1 L159.7,159.1 L160.3,159.1 L160.3,159.1 L160.9,159.1 L160.9,159.2 L161.5,159.2 L161.5,159.2 L162.1,159.2 L162.1,159.2 L162.7,159.2 L162.7,159.2 L163.3,159.2 L163.3,159.2 L163.9,159.2 L163.9,159.2 L164.5,159.2 L164.5,159.3 L165.1,159.3 L165.1,159.3 L165.7,159.3 L165.7,159.3 L166,159.3" fill="none" stroke="#000" stroke-width="1.7" stroke-linejoin="round"/>
<polyline points="82.4,97.6 166,97.6 166,160" fill="none" stroke="#5a5a5a" stroke-width="1.15"/>
<line x1="82.4" y1="97.6" x2="82.4" y2="160.8" stroke="#000" stroke-width="1.6"/>
<line x1="81.6" y1="160" x2="166" y2="160" stroke="#000" stroke-width="1.6"/>
<line x1="80.6" y1="160" x2="82.4" y2="160" stroke="#222" stroke-width="0.7"/>
<line x1="80.6" y1="157.5" x2="82.4" y2="157.5" stroke="#222" stroke-width="0.7"/>
<line x1="80.6" y1="155" x2="82.4" y2="155" stroke="#222" stroke-width="0.7"/>
<line x1="80.6" y1="152.5" x2="82.4" y2="152.5" stroke="#222" stroke-width="0.7"/>
<line x1="80.6" y1="150" x2="82.4" y2="150" stroke="#222" stroke-width="0.7"/>
<line x1="80.6" y1="147.5" x2="82.4" y2="147.5" stroke="#222" stroke-width="0.7"/>
<line x1="80.6" y1="145" x2="82.4" y2="145" stroke="#222" stroke-width="0.7"/>
<line x1="80.6" y1="142.5" x2="82.4" y2="142.5" stroke="#222" stroke-width="0.7"/>
<line x1="80.6" y1="140" x2="82.4" y2="140" stroke="#222" stroke-width="0.7"/>
<line x1="80.6" y1="137.5" x2="82.4" y2="137.5" stroke="#222" stroke-width="0.7"/>
<line x1="80.6" y1="135" x2="82.4" y2="135" stroke="#222" stroke-width="0.7"/>
<line x1="80.6" y1="132.5" x2="82.4" y2="132.5" stroke="#222" stroke-width="0.7"/>
<line x1="80.6" y1="130" x2="82.4" y2="130" stroke="#222" stroke-width="0.7"/>
<line x1="80.6" y1="127.6" x2="82.4" y2="127.6" stroke="#222" stroke-width="0.7"/>
<line x1="80.6" y1="125.1" x2="82.4" y2="125.1" stroke="#222" stroke-width="0.7"/>
<line x1="80.6" y1="122.6" x2="82.4" y2="122.6" stroke="#222" stroke-width="0.7"/>
<line x1="80.6" y1="120.1" x2="82.4" y2="120.1" stroke="#222" stroke-width="0.7"/>
<line x1="80.6" y1="117.6" x2="82.4" y2="117.6" stroke="#222" stroke-width="0.7"/>
<line x1="80.6" y1="115.1" x2="82.4" y2="115.1" stroke="#222" stroke-width="0.7"/>
<line x1="80.6" y1="112.6" x2="82.4" y2="112.6" stroke="#222" stroke-width="0.7"/>
<line x1="80.6" y1="110.1" x2="82.4" y2="110.1" stroke="#222" stroke-width="0.7"/>
<line x1="80.6" y1="107.6" x2="82.4" y2="107.6" stroke="#222" stroke-width="0.7"/>
<line x1="80.6" y1="105.1" x2="82.4" y2="105.1" stroke="#222" stroke-width="0.7"/>
<line x1="80.6" y1="102.6" x2="82.4" y2="102.6" stroke="#222" stroke-width="0.7"/>
<line x1="80.6" y1="100.1" x2="82.4" y2="100.1" stroke="#222" stroke-width="0.7"/>
<line x1="80.6" y1="97.6" x2="82.4" y2="97.6" stroke="#222" stroke-width="0.7"/>
<line x1="79.4" y1="160" x2="82.4" y2="160" stroke="#000" stroke-width="0.9"/>
<text x="78.2" y="160" transform="rotate(-90 78.2 160)" font-size="5.5" text-anchor="middle" stroke="#000" stroke-width="0.12">0</text>
<line x1="79.4" y1="140.9" x2="82.4" y2="140.9" stroke="#000" stroke-width="0.9"/>
<text x="78.2" y="140.9" transform="rotate(-90 78.2 140.9)" font-size="5.5" text-anchor="middle" stroke="#000" stroke-width="0.12">10</text>
<line x1="79.4" y1="121.8" x2="82.4" y2="121.8" stroke="#000" stroke-width="0.9"/>
<text x="78.2" y="121.8" transform="rotate(-90 78.2 121.8)" font-size="5.5" text-anchor="middle" stroke="#000" stroke-width="0.12">20</text>
<line x1="79.4" y1="102.8" x2="82.4" y2="102.8" stroke="#000" stroke-width="0.9"/>
<text x="78.2" y="102.8" transform="rotate(-90 78.2 102.8)" font-size="5.5" text-anchor="middle" stroke="#000" stroke-width="0.12">30</text>
<text x="72.8" y="129.8" transform="rotate(-90 72.8 129.8)" font-size="5.5" text-anchor="middle" stroke="#000" stroke-width="0.12">Counts</text>
<line x1="82.4" y1="160" x2="82.4" y2="162.4" stroke="#222" stroke-width="0.7"/>
<line x1="88.7" y1="160" x2="88.7" y2="161.3" stroke="#222" stroke-width="0.7"/>
<line x1="92.4" y1="160" x2="92.4" y2="161.3" stroke="#222" stroke-width="0.7"/>
<line x1="95" y1="160" x2="95" y2="161.3" stroke="#222" stroke-width="0.7"/>
<line x1="97" y1="160" x2="97" y2="161.3" stroke="#222" stroke-width="0.7"/>
<line x1="98.7" y1="160" x2="98.7" y2="161.3" stroke="#222" stroke-width="0.7"/>
<line x1="100.1" y1="160" x2="100.1" y2="161.3" stroke="#222" stroke-width="0.7"/>
<line x1="101.3" y1="160" x2="101.3" y2="161.3" stroke="#222" stroke-width="0.7"/>
<line x1="102.3" y1="160" x2="102.3" y2="161.3" stroke="#222" stroke-width="0.7"/>
<line x1="103.3" y1="160" x2="103.3" y2="162.4" stroke="#222" stroke-width="0.7"/>
<line x1="109.6" y1="160" x2="109.6" y2="161.3" stroke="#222" stroke-width="0.7"/>
<line x1="113.3" y1="160" x2="113.3" y2="161.3" stroke="#222" stroke-width="0.7"/>
<line x1="115.9" y1="160" x2="115.9" y2="161.3" stroke="#222" stroke-width="0.7"/>
<line x1="117.9" y1="160" x2="117.9" y2="161.3" stroke="#222" stroke-width="0.7"/>
<line x1="119.6" y1="160" x2="119.6" y2="161.3" stroke="#222" stroke-width="0.7"/>
<line x1="121" y1="160" x2="121" y2="161.3" stroke="#222" stroke-width="0.7"/>
<line x1="122.2" y1="160" x2="122.2" y2="161.3" stroke="#222" stroke-width="0.7"/>
<line x1="123.2" y1="160" x2="123.2" y2="161.3" stroke="#222" stroke-width="0.7"/>
<line x1="124.2" y1="160" x2="124.2" y2="162.4" stroke="#222" stroke-width="0.7"/>
<line x1="130.5" y1="160" x2="130.5" y2="161.3" stroke="#222" stroke-width="0.7"/>
<line x1="134.2" y1="160" x2="134.2" y2="161.3" stroke="#222" stroke-width="0.7"/>
<line x1="136.8" y1="160" x2="136.8" y2="161.3" stroke="#222" stroke-width="0.7"/>
<line x1="138.8" y1="160" x2="138.8" y2="161.3" stroke="#222" stroke-width="0.7"/>
<line x1="140.5" y1="160" x2="140.5" y2="161.3" stroke="#222" stroke-width="0.7"/>
<line x1="141.9" y1="160" x2="141.9" y2="161.3" stroke="#222" stroke-width="0.7"/>
<line x1="143.1" y1="160" x2="143.1" y2="161.3" stroke="#222" stroke-width="0.7"/>
<line x1="144.1" y1="160" x2="144.1" y2="161.3" stroke="#222" stroke-width="0.7"/>
<line x1="145.1" y1="160" x2="145.1" y2="162.4" stroke="#222" stroke-width="0.7"/>
<line x1="151.4" y1="160" x2="151.4" y2="161.3" stroke="#222" stroke-width="0.7"/>
<line x1="155.1" y1="160" x2="155.1" y2="161.3" stroke="#222" stroke-width="0.7"/>
<line x1="157.7" y1="160" x2="157.7" y2="161.3" stroke="#222" stroke-width="0.7"/>
<line x1="159.7" y1="160" x2="159.7" y2="161.3" stroke="#222" stroke-width="0.7"/>
<line x1="161.4" y1="160" x2="161.4" y2="161.3" stroke="#222" stroke-width="0.7"/>
<line x1="162.8" y1="160" x2="162.8" y2="161.3" stroke="#222" stroke-width="0.7"/>
<line x1="164" y1="160" x2="164" y2="161.3" stroke="#222" stroke-width="0.7"/>
<line x1="165" y1="160" x2="165" y2="161.3" stroke="#222" stroke-width="0.7"/>
<text x="83" y="169.4" font-size="5.4" text-anchor="middle" stroke="#000" stroke-width="0.15">10<tspan font-size="4.4" dy="-2.6">0</tspan></text>
<text x="103.9" y="169.4" font-size="5.4" text-anchor="middle" stroke="#000" stroke-width="0.15">10<tspan font-size="4.4" dy="-2.6">1</tspan></text>
<text x="124.8" y="169.4" font-size="5.4" text-anchor="middle" stroke="#000" stroke-width="0.15">10<tspan font-size="4.4" dy="-2.6">2</tspan></text>
<text x="145.7" y="169.4" font-size="5.4" text-anchor="middle" stroke="#000" stroke-width="0.15">10<tspan font-size="4.4" dy="-2.6">3</tspan></text>
<text x="166.6" y="169.4" font-size="5.4" text-anchor="middle" stroke="#000" stroke-width="0.15">10<tspan font-size="4.4" dy="-2.6">4</tspan></text>
<path d="M195.4,158.6 L195.4,97.2 L196,97.2 L196,97.8 L196.6,97.8 L196.6,97.3 L197.2,97.3 L197.2,97.6 L197.8,97.6 L197.8,146.3 L198.4,146.3 L198.4,149.1 L199,149.1 L199,150.6 L199.6,150.6 L199.6,151.8 L200.2,151.8 L200.2,153.5 L200.8,153.5 L200.8,154.1 L201.4,154.1 L201.4,154.8 L202,154.8 L202,156 L202.6,156 L202.6,156.4 L203.2,156.4 L203.2,155.5 L203.8,155.5 L203.8,154.6 L204.4,154.6 L204.4,154 L205,154 L205,153.3 L205.6,153.3 L205.6,152.6 L206.2,152.6 L206.2,151.5 L206.8,151.5 L206.8,150.8 L207.4,150.8 L207.4,149.9 L208,149.9 L208,149.4 L208.6,149.4 L208.6,149 L209.2,149 L209.2,148 L209.8,148 L209.8,147.1 L210.4,147.1 L210.4,146.7 L211,146.7 L211,146.5 L211.6,146.5 L211.6,144.9 L212.2,144.9 L212.2,142.4 L212.8,142.4 L212.8,139.5 L213.4,139.5 L213.4,136.8 L214,136.8 L214,133.1 L214.6,133.1 L214.6,120.3 L215.2,120.3 L215.2,114.2 L215.8,114.2 L215.8,110.8 L216.4,110.8 L216.4,107.5 L217,107.5 L217,103.5 L217.6,103.5 L217.6,100.9 L218.2,100.9 L218.2,100 L218.8,100 L218.8,101.7 L219.4,101.7 L219.4,104.1 L220,104.1 L220,106.3 L220.6,106.3 L220.6,108.1 L221.2,108.1 L221.2,110.5 L221.8,110.5 L221.8,112 L222.4,112 L222.4,115 L223,115 L223,118.9 L223.6,118.9 L223.6,122.3 L224.2,122.3 L224.2,125.1 L224.8,125.1 L224.8,129.4 L225.4,129.4 L225.4,132.7 L226,132.7 L226,136.8 L226.6,136.8 L226.6,141 L227.2,141 L227.2,143.9 L227.8,143.9 L227.8,146.9 L228.4,146.9 L228.4,148.6 L229,148.6 L229,148.5 L229.6,148.5 L229.6,149.2 L230.2,149.2 L230.2,149.8 L230.8,149.8 L230.8,150.6 L231.4,150.6 L231.4,151.1 L232,151.1 L232,151.9 L232.6,151.9 L232.6,152.5 L233.2,152.5 L233.2,153.2 L233.8,153.2 L233.8,154.1 L234.4,154.1 L234.4,154.6 L235,154.6 L235,155.4 L235.6,155.4 L235.6,155.9 L236.2,155.9 L236.2,156.3 L236.8,156.3 L236.8,155.8 L237.4,155.8 L237.4,156.1 L238,156.1 L238,155.8 L238.6,155.8 L238.6,155.7 L239.2,155.7 L239.2,155.9 L239.8,155.9 L239.8,156.3 L240.4,156.3 L240.4,156.8 L241,156.8 L241,157 L241.6,157 L241.6,156.8 L242.2,156.8 L242.2,156.9 L242.8,156.9 L242.8,157.2 L243.4,157.2 L243.4,157.3 L244,157.3 L244,157.3 L244.6,157.3 L244.6,157.3 L245.2,157.3 L245.2,157.4 L245.8,157.4 L245.8,157.1 L246.4,157.1 L246.4,157.1 L247,157.1 L247,157.1 L247.6,157.1 L247.6,157.2 L248.2,157.2 L248.2,156.9 L248.8,156.9 L248.8,156.9 L249.4,156.9 L249.4,156.6 L250,156.6 L250,156.6 L250.6,156.6 L250.6,156.9 L251.2,156.9 L251.2,157.5 L251.8,157.5 L251.8,157.7 L252.4,157.7 L252.4,157.8 L253,157.8 L253,157.9 L253.6,157.9 L253.6,157.8 L254.2,157.8 L254.2,157.6 L254.8,157.6 L254.8,157.4 L255.4,157.4 L255.4,157.2 L256,157.2 L256,157.4 L256.6,157.4 L256.6,157.6 L257.2,157.6 L257.2,157.6 L257.8,157.6 L257.8,157.8 L258.4,157.8 L258.4,157.9 L259,157.9 L259,158.1 L259.6,158.1 L259.6,158.2 L260,158.2 L260,158.6 Z" fill="#000"/>
<path d="M198.2,147.7 L198.8,147.7 L198.8,148.4 L199.4,148.4 L199.4,149.5 L200,149.5 L200,149.8 L200.6,149.8 L200.6,148.1 L201.2,148.1 L201.2,147.4 L201.8,147.4 L201.8,150 L202.4,150 L202.4,152.4 L203,152.4 L203,150.2 L203.6,150.2 L203.6,147.5 L204.2,147.5 L204.2,145.2 L204.8,145.2 L204.8,142.3 L205.4,142.3 L205.4,139.3 L206,139.3 L206,136.3 L206.6,136.3 L206.6,134 L207.2,134 L207.2,130.7 L207.8,130.7 L207.8,128.5 L208.4,128.5 L208.4,125.7 L209,125.7 L209,123.7 L209.6,123.7 L209.6,122.9 L210.2,122.9 L210.2,120.9 L210.8,120.9 L210.8,117.6 L211.4,117.6 L211.4,113.9 L212,113.9 L212,113.1 L212.6,113.1 L212.6,112.5 L213.2,112.5 L213.2,109.7 L213.8,109.7 L213.8,106.9 L214.4,106.9 L214.4,104.1 L215,104.1 L215,101.5 L215.6,101.5 L215.6,105.1 L216.2,105.1 L216.2,106.9 L216.8,106.9 L216.8,108.3 L217,108.3" fill="none" stroke="#000" stroke-width="1.7" stroke-linejoin="round"/>
<polyline points="195.4,96.4 283,96.4 283,158.6" fill="none" stroke="#5a5a5a" stroke-width="1.15"/>
<line x1="195.4" y1="96.4" x2="195.4" y2="159.4" stroke="#000" stroke-width="1.6"/>
<line x1="194.6" y1="158.6" x2="283" y2="158.6" stroke="#000" stroke-width="1.6"/>
<line x1="193.6" y1="158.6" x2="195.4" y2="158.6" stroke="#222" stroke-width="0.7"/>
<line x1="193.6" y1="156.1" x2="195.4" y2="156.1" stroke="#222" stroke-width="0.7"/>
<line x1="193.6" y1="153.6" x2="195.4" y2="153.6" stroke="#222" stroke-width="0.7"/>
<line x1="193.6" y1="151.1" x2="195.4" y2="151.1" stroke="#222" stroke-width="0.7"/>
<line x1="193.6" y1="148.6" x2="195.4" y2="148.6" stroke="#222" stroke-width="0.7"/>
<line x1="193.6" y1="146.2" x2="195.4" y2="146.2" stroke="#222" stroke-width="0.7"/>
<line x1="193.6" y1="143.7" x2="195.4" y2="143.7" stroke="#222" stroke-width="0.7"/>
<line x1="193.6" y1="141.2" x2="195.4" y2="141.2" stroke="#222" stroke-width="0.7"/>
<line x1="193.6" y1="138.7" x2="195.4" y2="138.7" stroke="#222" stroke-width="0.7"/>
<line x1="193.6" y1="136.2" x2="195.4" y2="136.2" stroke="#222" stroke-width="0.7"/>
<line x1="193.6" y1="133.7" x2="195.4" y2="133.7" stroke="#222" stroke-width="0.7"/>
<line x1="193.6" y1="131.2" x2="195.4" y2="131.2" stroke="#222" stroke-width="0.7"/>
<line x1="193.6" y1="128.7" x2="195.4" y2="128.7" stroke="#222" stroke-width="0.7"/>
<line x1="193.6" y1="126.3" x2="195.4" y2="126.3" stroke="#222" stroke-width="0.7"/>
<line x1="193.6" y1="123.8" x2="195.4" y2="123.8" stroke="#222" stroke-width="0.7"/>
<line x1="193.6" y1="121.3" x2="195.4" y2="121.3" stroke="#222" stroke-width="0.7"/>
<line x1="193.6" y1="118.8" x2="195.4" y2="118.8" stroke="#222" stroke-width="0.7"/>
<line x1="193.6" y1="116.3" x2="195.4" y2="116.3" stroke="#222" stroke-width="0.7"/>
<line x1="193.6" y1="113.8" x2="195.4" y2="113.8" stroke="#222" stroke-width="0.7"/>
<line x1="193.6" y1="111.3" x2="195.4" y2="111.3" stroke="#222" stroke-width="0.7"/>
<line x1="193.6" y1="108.8" x2="195.4" y2="108.8" stroke="#222" stroke-width="0.7"/>
<line x1="193.6" y1="106.4" x2="195.4" y2="106.4" stroke="#222" stroke-width="0.7"/>
<line x1="193.6" y1="103.9" x2="195.4" y2="103.9" stroke="#222" stroke-width="0.7"/>
<line x1="193.6" y1="101.4" x2="195.4" y2="101.4" stroke="#222" stroke-width="0.7"/>
<line x1="193.6" y1="98.9" x2="195.4" y2="98.9" stroke="#222" stroke-width="0.7"/>
<line x1="193.6" y1="96.4" x2="195.4" y2="96.4" stroke="#222" stroke-width="0.7"/>
<line x1="192.4" y1="158.6" x2="195.4" y2="158.6" stroke="#000" stroke-width="0.9"/>
<text x="191.2" y="158.6" transform="rotate(-90 191.2 158.6)" font-size="5.5" text-anchor="middle" stroke="#000" stroke-width="0.12">0</text>
<line x1="192.4" y1="141" x2="195.4" y2="141" stroke="#000" stroke-width="0.9"/>
<text x="191.2" y="141" transform="rotate(-90 191.2 141)" font-size="5.5" text-anchor="middle" stroke="#000" stroke-width="0.12">10</text>
<line x1="192.4" y1="123.5" x2="195.4" y2="123.5" stroke="#000" stroke-width="0.9"/>
<text x="191.2" y="123.5" transform="rotate(-90 191.2 123.5)" font-size="5.5" text-anchor="middle" stroke="#000" stroke-width="0.12">20</text>
<line x1="192.4" y1="105.9" x2="195.4" y2="105.9" stroke="#000" stroke-width="0.9"/>
<text x="191.2" y="105.9" transform="rotate(-90 191.2 105.9)" font-size="5.5" text-anchor="middle" stroke="#000" stroke-width="0.12">30</text>
<text x="185.8" y="128.5" transform="rotate(-90 185.8 128.5)" font-size="5.5" text-anchor="middle" stroke="#000" stroke-width="0.12">Counts</text>
<line x1="195.4" y1="158.6" x2="195.4" y2="161" stroke="#222" stroke-width="0.7"/>
<line x1="202" y1="158.6" x2="202" y2="159.9" stroke="#222" stroke-width="0.7"/>
<line x1="205.8" y1="158.6" x2="205.8" y2="159.9" stroke="#222" stroke-width="0.7"/>
<line x1="208.6" y1="158.6" x2="208.6" y2="159.9" stroke="#222" stroke-width="0.7"/>
<line x1="210.7" y1="158.6" x2="210.7" y2="159.9" stroke="#222" stroke-width="0.7"/>
<line x1="212.4" y1="158.6" x2="212.4" y2="159.9" stroke="#222" stroke-width="0.7"/>
<line x1="213.9" y1="158.6" x2="213.9" y2="159.9" stroke="#222" stroke-width="0.7"/>
<line x1="215.2" y1="158.6" x2="215.2" y2="159.9" stroke="#222" stroke-width="0.7"/>
<line x1="216.3" y1="158.6" x2="216.3" y2="159.9" stroke="#222" stroke-width="0.7"/>
<line x1="217.3" y1="158.6" x2="217.3" y2="161" stroke="#222" stroke-width="0.7"/>
<line x1="223.9" y1="158.6" x2="223.9" y2="159.9" stroke="#222" stroke-width="0.7"/>
<line x1="227.7" y1="158.6" x2="227.7" y2="159.9" stroke="#222" stroke-width="0.7"/>
<line x1="230.5" y1="158.6" x2="230.5" y2="159.9" stroke="#222" stroke-width="0.7"/>
<line x1="232.6" y1="158.6" x2="232.6" y2="159.9" stroke="#222" stroke-width="0.7"/>
<line x1="234.3" y1="158.6" x2="234.3" y2="159.9" stroke="#222" stroke-width="0.7"/>
<line x1="235.8" y1="158.6" x2="235.8" y2="159.9" stroke="#222" stroke-width="0.7"/>
<line x1="237.1" y1="158.6" x2="237.1" y2="159.9" stroke="#222" stroke-width="0.7"/>
<line x1="238.2" y1="158.6" x2="238.2" y2="159.9" stroke="#222" stroke-width="0.7"/>
<line x1="239.2" y1="158.6" x2="239.2" y2="161" stroke="#222" stroke-width="0.7"/>
<line x1="245.8" y1="158.6" x2="245.8" y2="159.9" stroke="#222" stroke-width="0.7"/>
<line x1="249.6" y1="158.6" x2="249.6" y2="159.9" stroke="#222" stroke-width="0.7"/>
<line x1="252.4" y1="158.6" x2="252.4" y2="159.9" stroke="#222" stroke-width="0.7"/>
<line x1="254.5" y1="158.6" x2="254.5" y2="159.9" stroke="#222" stroke-width="0.7"/>
<line x1="256.2" y1="158.6" x2="256.2" y2="159.9" stroke="#222" stroke-width="0.7"/>
<line x1="257.7" y1="158.6" x2="257.7" y2="159.9" stroke="#222" stroke-width="0.7"/>
<line x1="259" y1="158.6" x2="259" y2="159.9" stroke="#222" stroke-width="0.7"/>
<line x1="260.1" y1="158.6" x2="260.1" y2="159.9" stroke="#222" stroke-width="0.7"/>
<line x1="261.1" y1="158.6" x2="261.1" y2="161" stroke="#222" stroke-width="0.7"/>
<line x1="267.7" y1="158.6" x2="267.7" y2="159.9" stroke="#222" stroke-width="0.7"/>
<line x1="271.5" y1="158.6" x2="271.5" y2="159.9" stroke="#222" stroke-width="0.7"/>
<line x1="274.3" y1="158.6" x2="274.3" y2="159.9" stroke="#222" stroke-width="0.7"/>
<line x1="276.4" y1="158.6" x2="276.4" y2="159.9" stroke="#222" stroke-width="0.7"/>
<line x1="278.1" y1="158.6" x2="278.1" y2="159.9" stroke="#222" stroke-width="0.7"/>
<line x1="279.6" y1="158.6" x2="279.6" y2="159.9" stroke="#222" stroke-width="0.7"/>
<line x1="280.9" y1="158.6" x2="280.9" y2="159.9" stroke="#222" stroke-width="0.7"/>
<line x1="282" y1="158.6" x2="282" y2="159.9" stroke="#222" stroke-width="0.7"/>
<text x="196" y="168" font-size="5.4" text-anchor="middle" stroke="#000" stroke-width="0.15">10<tspan font-size="4.4" dy="-2.6">0</tspan></text>
<text x="217.9" y="168" font-size="5.4" text-anchor="middle" stroke="#000" stroke-width="0.15">10<tspan font-size="4.4" dy="-2.6">1</tspan></text>
<text x="239.8" y="168" font-size="5.4" text-anchor="middle" stroke="#000" stroke-width="0.15">10<tspan font-size="4.4" dy="-2.6">2</tspan></text>
<text x="261.7" y="168" font-size="5.4" text-anchor="middle" stroke="#000" stroke-width="0.15">10<tspan font-size="4.4" dy="-2.6">3</tspan></text>
<text x="283.6" y="168" font-size="5.4" text-anchor="middle" stroke="#000" stroke-width="0.15">10<tspan font-size="4.4" dy="-2.6">4</tspan></text>
<path d="M314.4,161.4 L314.4,134.8 L315,134.8 L315,134.7 L315.6,134.7 L315.6,149.1 L316.2,149.1 L316.2,152 L316.8,152 L316.8,151.3 L317.4,151.3 L317.4,150.1 L318,150.1 L318,149.2 L318.6,149.2 L318.6,148.9 L319.2,148.9 L319.2,148.3 L319.8,148.3 L319.8,147 L320.4,147 L320.4,145.7 L321,145.7 L321,145 L321.6,145 L321.6,143.1 L322.2,143.1 L322.2,140.6 L322.8,140.6 L322.8,139.8 L323.4,139.8 L323.4,137.8 L324,137.8 L324,136.3 L324.6,136.3 L324.6,135.5 L325.2,135.5 L325.2,134.6 L325.8,134.6 L325.8,133.7 L326.4,133.7 L326.4,132.2 L327,132.2 L327,130.4 L327.6,130.4 L327.6,125.7 L328.2,125.7 L328.2,119.5 L328.8,119.5 L328.8,116.7 L329.4,116.7 L329.4,108.1 L330,108.1 L330,108.3 L330.6,108.3 L330.6,108.8 L331.2,108.8 L331.2,108.8 L331.8,108.8 L331.8,119.2 L332.4,119.2 L332.4,124 L333,124 L333,128.8 L333.6,128.8 L333.6,133.3 L334.2,133.3 L334.2,137.9 L334.8,137.9 L334.8,139.4 L335.4,139.4 L335.4,142 L336,142 L336,145.4 L336.6,145.4 L336.6,147.1 L337.2,147.1 L337.2,149 L337.8,149 L337.8,150.6 L338.4,150.6 L338.4,151.7 L339,151.7 L339,151.9 L339.6,151.9 L339.6,152.7 L340.2,152.7 L340.2,153.6 L340.8,153.6 L340.8,155 L341.4,155 L341.4,155.1 L342,155.1 L342,156.1 L342.6,156.1 L342.6,156.8 L343.2,156.8 L343.2,157 L343.8,157 L343.8,157.2 L344.4,157.2 L344.4,157.9 L345,157.9 L345,158 L345.6,158 L345.6,158.1 L346.2,158.1 L346.2,158.6 L346.8,158.6 L346.8,158.7 L347.4,158.7 L347.4,158.9 L348,158.9 L348,158.9 L348.6,158.9 L348.6,159.3 L349.2,159.3 L349.2,159.5 L349.8,159.5 L349.8,159.5 L350.4,159.5 L350.4,159.8 L351,159.8 L351,159.5 L351.6,159.5 L351.6,159.7 L352.2,159.7 L352.2,159.9 L352.8,159.9 L352.8,160.2 L353.4,160.2 L353.4,160.2 L354,160.2 L354,160 L354.6,160 L354.6,160 L355.2,160 L355.2,160.2 L355.8,160.2 L355.8,160.2 L356.4,160.2 L356.4,160.4 L357,160.4 L357,160.2 L357.6,160.2 L357.6,160.5 L358.2,160.5 L358.2,160.5 L358.8,160.5 L358.8,160.4 L359.4,160.4 L359.4,160.5 L360,160.5 L360,161.4 Z" fill="#000"/>
<path d="M331.7,114 L332.3,114 L332.3,121.3 L332.9,121.3 L332.9,125.4 L333.5,125.4 L333.5,129.2 L334.1,129.2 L334.1,132.8 L334.7,132.8 L334.7,135.4 L335.3,135.4 L335.3,137.8 L335.9,137.8 L335.9,139.4 L336.5,139.4 L336.5,142.1 L337.1,142.1 L337.1,145.4 L337.7,145.4 L337.7,147.1 L338.3,147.1 L338.3,148.7 L338.9,148.7 L338.9,150.4 L339.5,150.4 L339.5,152.1 L340.1,152.1 L340.1,152.9 L340.7,152.9 L340.7,154.1 L341.3,154.1 L341.3,154.9 L341.9,154.9 L341.9,155.5 L342.5,155.5 L342.5,155.8 L343.1,155.8 L343.1,156.3 L343.7,156.3 L343.7,156.9 L344.3,156.9 L344.3,157.4 L344.9,157.4 L344.9,157.7 L345.5,157.7 L345.5,157.9 L346.1,157.9 L346.1,158.2 L346.7,158.2 L346.7,158.5 L347.3,158.5 L347.3,158.9 L347.9,158.9 L347.9,159.1 L348.5,159.1 L348.5,159.3 L349.1,159.3 L349.1,159.4 L349.7,159.4 L349.7,159.5 L350.3,159.5 L350.3,159.4 L350.9,159.4 L350.9,159.7 L351.5,159.7 L351.5,159.7 L352.1,159.7 L352.1,159.9 L352.7,159.9 L352.7,159.9 L353.3,159.9 L353.3,160.1 L353.9,160.1 L353.9,160.1 L354.5,160.1 L354.5,160.2 L355.1,160.2 L355.1,160.3 L355.7,160.3 L355.7,160.3 L356.3,160.3 L356.3,160.5 L356.9,160.5 L356.9,160.4 L357.5,160.4 L357.5,160.4 L358.1,160.4 L358.1,160.4 L358.7,160.4 L358.7,160.4 L359.3,160.4 L359.3,160.4 L359.9,160.4 L359.9,160.5 L360.5,160.5 L360.5,160.5 L361.1,160.5 L361.1,160.5 L361.7,160.5 L361.7,160.5 L362.3,160.5 L362.3,160.5 L362.9,160.5 L362.9,160.5 L363.5,160.5 L363.5,160.6 L364.1,160.6 L364.1,160.6 L364.7,160.6 L364.7,160.6 L365.3,160.6 L365.3,160.6 L365.9,160.6 L365.9,160.6 L366.5,160.6 L366.5,160.6 L367.1,160.6 L367.1,160.6 L367.7,160.6 L367.7,160.6 L368.3,160.6 L368.3,160.6 L368.9,160.6 L368.9,160.6 L369.5,160.6 L369.5,160.6 L370.1,160.6 L370.1,160.6 L370.7,160.6 L370.7,160.6 L371.3,160.6 L371.3,160.6 L371.9,160.6 L371.9,160.6 L372.5,160.6 L372.5,160.6 L373.1,160.6 L373.1,160.6 L373.7,160.6 L373.7,160.7 L374.3,160.7 L374.3,160.7 L374.9,160.7 L374.9,160.7 L375.5,160.7 L375.5,160.7 L376.1,160.7 L376.1,160.7 L376.7,160.7 L376.7,160.7 L377.3,160.7 L377.3,160.7 L377.9,160.7 L377.9,160.7 L378.5,160.7 L378.5,160.7 L379.1,160.7 L379.1,160.7 L379.7,160.7 L379.7,160.7 L380.3,160.7 L380.3,160.7 L380.9,160.7 L380.9,160.7 L381.5,160.7 L381.5,160.7 L382.1,160.7 L382.1,160.7 L382.7,160.7 L382.7,160.7 L383.3,160.7 L383.3,160.7 L383.9,160.7 L383.9,160.7 L384.5,160.7 L384.5,160.7 L385.1,160.7 L385.1,160.7 L385.7,160.7 L385.7,160.7 L386.3,160.7 L386.3,160.7 L386.9,160.7 L386.9,160.7 L387.5,160.7 L387.5,160.7 L388.1,160.7 L388.1,160.7 L388.7,160.7 L388.7,160.7 L389.3,160.7 L389.3,160.7 L389.9,160.7 L389.9,160.7 L390.5,160.7 L390.5,160.7 L391.1,160.7 L391.1,160.7 L391.7,160.7 L391.7,160.8 L392.3,160.8 L392.3,160.8 L392.9,160.8 L392.9,160.8 L393.5,160.8 L393.5,160.8 L394.1,160.8 L394.1,160.8 L394.7,160.8 L394.7,160.8 L395.3,160.8 L395.3,160.8 L395.9,160.8 L395.9,160.8 L396.5,160.8 L396.5,160.8 L397.1,160.8 L397.1,160.8 L397.7,160.8 L397.7,160.8 L398.3,160.8 L398.3,160.8 L398.9,160.8 L398.9,160.8 L399.5,160.8 L399.5,160.8 L400.1,160.8 L400.1,160.8 L400.7,160.8 L400.7,160.8 L401,160.8" fill="none" stroke="#000" stroke-width="1.7" stroke-linejoin="round"/>
<polyline points="314.4,98 401.4,98 401.4,161.4" fill="none" stroke="#5a5a5a" stroke-width="1.15"/>
<line x1="314.4" y1="98" x2="314.4" y2="162.2" stroke="#000" stroke-width="1.6"/>
<line x1="313.6" y1="161.4" x2="401.4" y2="161.4" stroke="#000" stroke-width="1.6"/>
<line x1="312.6" y1="161.4" x2="314.4" y2="161.4" stroke="#222" stroke-width="0.7"/>
<line x1="312.6" y1="158.9" x2="314.4" y2="158.9" stroke="#222" stroke-width="0.7"/>
<line x1="312.6" y1="156.3" x2="314.4" y2="156.3" stroke="#222" stroke-width="0.7"/>
<line x1="312.6" y1="153.8" x2="314.4" y2="153.8" stroke="#222" stroke-width="0.7"/>
<line x1="312.6" y1="151.3" x2="314.4" y2="151.3" stroke="#222" stroke-width="0.7"/>
<line x1="312.6" y1="148.7" x2="314.4" y2="148.7" stroke="#222" stroke-width="0.7"/>
<line x1="312.6" y1="146.2" x2="314.4" y2="146.2" stroke="#222" stroke-width="0.7"/>
<line x1="312.6" y1="143.6" x2="314.4" y2="143.6" stroke="#222" stroke-width="0.7"/>
<line x1="312.6" y1="141.1" x2="314.4" y2="141.1" stroke="#222" stroke-width="0.7"/>
<line x1="312.6" y1="138.6" x2="314.4" y2="138.6" stroke="#222" stroke-width="0.7"/>
<line x1="312.6" y1="136" x2="314.4" y2="136" stroke="#222" stroke-width="0.7"/>
<line x1="312.6" y1="133.5" x2="314.4" y2="133.5" stroke="#222" stroke-width="0.7"/>
<line x1="312.6" y1="131" x2="314.4" y2="131" stroke="#222" stroke-width="0.7"/>
<line x1="312.6" y1="128.4" x2="314.4" y2="128.4" stroke="#222" stroke-width="0.7"/>
<line x1="312.6" y1="125.9" x2="314.4" y2="125.9" stroke="#222" stroke-width="0.7"/>
<line x1="312.6" y1="123.4" x2="314.4" y2="123.4" stroke="#222" stroke-width="0.7"/>
<line x1="312.6" y1="120.8" x2="314.4" y2="120.8" stroke="#222" stroke-width="0.7"/>
<line x1="312.6" y1="118.3" x2="314.4" y2="118.3" stroke="#222" stroke-width="0.7"/>
<line x1="312.6" y1="115.8" x2="314.4" y2="115.8" stroke="#222" stroke-width="0.7"/>
<line x1="312.6" y1="113.2" x2="314.4" y2="113.2" stroke="#222" stroke-width="0.7"/>
<line x1="312.6" y1="110.7" x2="314.4" y2="110.7" stroke="#222" stroke-width="0.7"/>
<line x1="312.6" y1="108.1" x2="314.4" y2="108.1" stroke="#222" stroke-width="0.7"/>
<line x1="312.6" y1="105.6" x2="314.4" y2="105.6" stroke="#222" stroke-width="0.7"/>
<line x1="312.6" y1="103.1" x2="314.4" y2="103.1" stroke="#222" stroke-width="0.7"/>
<line x1="312.6" y1="100.5" x2="314.4" y2="100.5" stroke="#222" stroke-width="0.7"/>
<line x1="312.6" y1="98" x2="314.4" y2="98" stroke="#222" stroke-width="0.7"/>
<line x1="311.4" y1="161.4" x2="314.4" y2="161.4" stroke="#000" stroke-width="0.9"/>
<text x="310.2" y="161.4" transform="rotate(-90 310.2 161.4)" font-size="5.5" text-anchor="middle" stroke="#000" stroke-width="0.12">0</text>
<line x1="311.4" y1="150.8" x2="314.4" y2="150.8" stroke="#000" stroke-width="0.9"/>
<text x="310.2" y="150.8" transform="rotate(-90 310.2 150.8)" font-size="5.5" text-anchor="middle" stroke="#000" stroke-width="0.12">10</text>
<line x1="311.4" y1="140.3" x2="314.4" y2="140.3" stroke="#000" stroke-width="0.9"/>
<text x="310.2" y="140.3" transform="rotate(-90 310.2 140.3)" font-size="5.5" text-anchor="middle" stroke="#000" stroke-width="0.12">20</text>
<line x1="311.4" y1="129.7" x2="314.4" y2="129.7" stroke="#000" stroke-width="0.9"/>
<text x="310.2" y="129.7" transform="rotate(-90 310.2 129.7)" font-size="5.5" text-anchor="middle" stroke="#000" stroke-width="0.12">30</text>
<line x1="311.4" y1="119.1" x2="314.4" y2="119.1" stroke="#000" stroke-width="0.9"/>
<text x="310.2" y="119.1" transform="rotate(-90 310.2 119.1)" font-size="5.5" text-anchor="middle" stroke="#000" stroke-width="0.12">40</text>
<line x1="311.4" y1="108.6" x2="314.4" y2="108.6" stroke="#000" stroke-width="0.9"/>
<text x="310.2" y="108.6" transform="rotate(-90 310.2 108.6)" font-size="5.5" text-anchor="middle" stroke="#000" stroke-width="0.12">50</text>
<line x1="311.4" y1="98" x2="314.4" y2="98" stroke="#000" stroke-width="0.9"/>
<text x="310.2" y="98" transform="rotate(-90 310.2 98)" font-size="5.5" text-anchor="middle" stroke="#000" stroke-width="0.12">60</text>
<text x="304.8" y="130.7" transform="rotate(-90 304.8 130.7)" font-size="5.5" text-anchor="middle" stroke="#000" stroke-width="0.12">Counts</text>
<line x1="314.4" y1="161.4" x2="314.4" y2="163.8" stroke="#222" stroke-width="0.7"/>
<line x1="320.9" y1="161.4" x2="320.9" y2="162.7" stroke="#222" stroke-width="0.7"/>
<line x1="324.8" y1="161.4" x2="324.8" y2="162.7" stroke="#222" stroke-width="0.7"/>
<line x1="327.5" y1="161.4" x2="327.5" y2="162.7" stroke="#222" stroke-width="0.7"/>
<line x1="329.6" y1="161.4" x2="329.6" y2="162.7" stroke="#222" stroke-width="0.7"/>
<line x1="331.3" y1="161.4" x2="331.3" y2="162.7" stroke="#222" stroke-width="0.7"/>
<line x1="332.8" y1="161.4" x2="332.8" y2="162.7" stroke="#222" stroke-width="0.7"/>
<line x1="334" y1="161.4" x2="334" y2="162.7" stroke="#222" stroke-width="0.7"/>
<line x1="335.2" y1="161.4" x2="335.2" y2="162.7" stroke="#222" stroke-width="0.7"/>
<line x1="336.1" y1="161.4" x2="336.1" y2="163.8" stroke="#222" stroke-width="0.7"/>
<line x1="342.7" y1="161.4" x2="342.7" y2="162.7" stroke="#222" stroke-width="0.7"/>
<line x1="346.5" y1="161.4" x2="346.5" y2="162.7" stroke="#222" stroke-width="0.7"/>
<line x1="349.2" y1="161.4" x2="349.2" y2="162.7" stroke="#222" stroke-width="0.7"/>
<line x1="351.4" y1="161.4" x2="351.4" y2="162.7" stroke="#222" stroke-width="0.7"/>
<line x1="353.1" y1="161.4" x2="353.1" y2="162.7" stroke="#222" stroke-width="0.7"/>
<line x1="354.5" y1="161.4" x2="354.5" y2="162.7" stroke="#222" stroke-width="0.7"/>
<line x1="355.8" y1="161.4" x2="355.8" y2="162.7" stroke="#222" stroke-width="0.7"/>
<line x1="356.9" y1="161.4" x2="356.9" y2="162.7" stroke="#222" stroke-width="0.7"/>
<line x1="357.9" y1="161.4" x2="357.9" y2="163.8" stroke="#222" stroke-width="0.7"/>
<line x1="364.4" y1="161.4" x2="364.4" y2="162.7" stroke="#222" stroke-width="0.7"/>
<line x1="368.3" y1="161.4" x2="368.3" y2="162.7" stroke="#222" stroke-width="0.7"/>
<line x1="371" y1="161.4" x2="371" y2="162.7" stroke="#222" stroke-width="0.7"/>
<line x1="373.1" y1="161.4" x2="373.1" y2="162.7" stroke="#222" stroke-width="0.7"/>
<line x1="374.8" y1="161.4" x2="374.8" y2="162.7" stroke="#222" stroke-width="0.7"/>
<line x1="376.3" y1="161.4" x2="376.3" y2="162.7" stroke="#222" stroke-width="0.7"/>
<line x1="377.5" y1="161.4" x2="377.5" y2="162.7" stroke="#222" stroke-width="0.7"/>
<line x1="378.7" y1="161.4" x2="378.7" y2="162.7" stroke="#222" stroke-width="0.7"/>
<line x1="379.6" y1="161.4" x2="379.6" y2="163.8" stroke="#222" stroke-width="0.7"/>
<line x1="386.2" y1="161.4" x2="386.2" y2="162.7" stroke="#222" stroke-width="0.7"/>
<line x1="390" y1="161.4" x2="390" y2="162.7" stroke="#222" stroke-width="0.7"/>
<line x1="392.7" y1="161.4" x2="392.7" y2="162.7" stroke="#222" stroke-width="0.7"/>
<line x1="394.9" y1="161.4" x2="394.9" y2="162.7" stroke="#222" stroke-width="0.7"/>
<line x1="396.6" y1="161.4" x2="396.6" y2="162.7" stroke="#222" stroke-width="0.7"/>
<line x1="398" y1="161.4" x2="398" y2="162.7" stroke="#222" stroke-width="0.7"/>
<line x1="399.3" y1="161.4" x2="399.3" y2="162.7" stroke="#222" stroke-width="0.7"/>
<line x1="400.4" y1="161.4" x2="400.4" y2="162.7" stroke="#222" stroke-width="0.7"/>
<text x="315" y="170.8" font-size="5.4" text-anchor="middle" stroke="#000" stroke-width="0.15">10<tspan font-size="4.4" dy="-2.6">0</tspan></text>
<text x="336.8" y="170.8" font-size="5.4" text-anchor="middle" stroke="#000" stroke-width="0.15">10<tspan font-size="4.4" dy="-2.6">1</tspan></text>
<text x="358.5" y="170.8" font-size="5.4" text-anchor="middle" stroke="#000" stroke-width="0.15">10<tspan font-size="4.4" dy="-2.6">2</tspan></text>
<text x="380.2" y="170.8" font-size="5.4" text-anchor="middle" stroke="#000" stroke-width="0.15">10<tspan font-size="4.4" dy="-2.6">3</tspan></text>
<text x="402" y="170.8" font-size="5.4" text-anchor="middle" stroke="#000" stroke-width="0.15">10<tspan font-size="4.4" dy="-2.6">4</tspan></text>
<path d="M430.5,161 L430.5,158.7 L431.1,158.7 L431.1,158.1 L431.7,158.1 L431.7,154.9 L432.3,154.9 L432.3,151.7 L432.9,151.7 L432.9,150.8 L433.5,150.8 L433.5,149 L434.1,149 L434.1,147.9 L434.7,147.9 L434.7,145.1 L435.3,145.1 L435.3,143.9 L435.9,143.9 L435.9,142.7 L436.5,142.7 L436.5,141.1 L437.1,141.1 L437.1,139.6 L437.7,139.6 L437.7,136.9 L438.3,136.9 L438.3,136 L438.9,136 L438.9,135 L439.5,135 L439.5,134.3 L440.1,134.3 L440.1,134.1 L440.7,134.1 L440.7,131.7 L441.3,131.7 L441.3,130.2 L441.9,130.2 L441.9,127.5 L442.5,127.5 L442.5,126.2 L443.1,126.2 L443.1,123.8 L443.7,123.8 L443.7,121.8 L444.3,121.8 L444.3,120.7 L444.9,120.7 L444.9,117.7 L445.5,117.7 L445.5,113.9 L446.1,113.9 L446.1,113.4 L446.7,113.4 L446.7,113 L447.3,113 L447.3,115.5 L447.9,115.5 L447.9,119.4 L448.5,119.4 L448.5,123.2 L449.1,123.2 L449.1,126 L449.7,126 L449.7,125.7 L450.3,125.7 L450.3,126.3 L450.9,126.3 L450.9,129.1 L451.5,129.1 L451.5,131.2 L452.1,131.2 L452.1,132.8 L452.7,132.8 L452.7,135.1 L453.3,135.1 L453.3,136.8 L453.9,136.8 L453.9,137.3 L454.5,137.3 L454.5,138.6 L455.1,138.6 L455.1,139.7 L455.7,139.7 L455.7,141.6 L456.3,141.6 L456.3,142.5 L456.9,142.5 L456.9,143.1 L457.5,143.1 L457.5,144.3 L458.1,144.3 L458.1,146.4 L458.7,146.4 L458.7,149.1 L459.3,149.1 L459.3,151.3 L459.9,151.3 L459.9,151.8 L460.5,151.8 L460.5,153 L461.1,153 L461.1,154.7 L461.7,154.7 L461.7,155 L462.3,155 L462.3,155.5 L462.9,155.5 L462.9,156.2 L463.5,156.2 L463.5,156.9 L464.1,156.9 L464.1,156.6 L464.7,156.6 L464.7,156.9 L465.3,156.9 L465.3,156.9 L465.9,156.9 L465.9,157.1 L466.5,157.1 L466.5,157.5 L467.1,157.5 L467.1,157.7 L467.7,157.7 L467.7,157.4 L468.3,157.4 L468.3,157.5 L468.9,157.5 L468.9,157.8 L469.5,157.8 L469.5,157.6 L470.1,157.6 L470.1,157.5 L470.7,157.5 L470.7,158.1 L471.3,158.1 L471.3,157.9 L471.9,157.9 L471.9,158.2 L472.5,158.2 L472.5,158 L473.1,158 L473.1,158.4 L473.7,158.4 L473.7,158.2 L474.3,158.2 L474.3,158.1 L474.9,158.1 L474.9,158.1 L475.5,158.1 L475.5,158.5 L476.1,158.5 L476.1,158.7 L476.7,158.7 L476.7,159 L477.3,159 L477.3,158.7 L477.9,158.7 L477.9,159 L478.5,159 L478.5,159 L479.1,159 L479.1,159.2 L479.7,159.2 L479.7,159.2 L480.3,159.2 L480.3,159.4 L480.9,159.4 L480.9,159.6 L481.5,159.6 L481.5,159.9 L482.1,159.9 L482.1,159.6 L482.7,159.6 L482.7,159.9 L483.3,159.9 L483.3,160.1 L483.9,160.1 L483.9,160 L484.5,160 L484.5,160.1 L485.1,160.1 L485.1,160.2 L485.7,160.2 L485.7,160.3 L486,160.3 L486,161 Z" fill="#000"/>
<path d="M458.6,143.3 L459.2,143.3 L459.2,135.4 L459.8,135.4 L459.8,129.9 L460.4,129.9 L460.4,127.5 L461,127.5 L461,124.6 L461.6,124.6 L461.6,121.3 L462.2,121.3 L462.2,118 L462.8,118 L462.8,113 L463.4,113 L463.4,112 L464,112 L464,115 L464.6,115 L464.6,115.8 L465.2,115.8 L465.2,116.9 L465.8,116.9 L465.8,118.2 L466.4,118.2 L466.4,121.8 L467,121.8 L467,124.5 L467.6,124.5 L467.6,127.6 L468.2,127.6 L468.2,130.9 L468.8,130.9 L468.8,133.8 L469.4,133.8 L469.4,136.3 L470,136.3 L470,138.4 L470.6,138.4 L470.6,140.5 L471.2,140.5 L471.2,142.6 L471.8,142.6 L471.8,143.8 L472.4,143.8 L472.4,144.8 L473,144.8 L473,146.1 L473.6,146.1 L473.6,147.6 L474.2,147.6 L474.2,148.6 L474.8,148.6 L474.8,148.6 L475.4,148.6 L475.4,149.6 L476,149.6 L476,150.4 L476.6,150.4 L476.6,150.5 L477.2,150.5 L477.2,151.6 L477.8,151.6 L477.8,151.8 L478.4,151.8 L478.4,152.7 L479,152.7 L479,153.2 L479.6,153.2 L479.6,153.9 L480.2,153.9 L480.2,154.3 L480.8,154.3 L480.8,155 L481.4,155 L481.4,155.5 L482,155.5 L482,155.9 L482.6,155.9 L482.6,156.4 L483.2,156.4 L483.2,156.7 L483.8,156.7 L483.8,157 L484.4,157 L484.4,157 L485,157 L485,157.4 L485.6,157.4 L485.6,157.5 L486.2,157.5 L486.2,157.5 L486.8,157.5 L486.8,157.7 L487.4,157.7 L487.4,157.7 L488,157.7 L488,157.6 L488.6,157.6 L488.6,157.5 L489.2,157.5 L489.2,157.6 L489.8,157.6 L489.8,157.5 L490.4,157.5 L490.4,157.7 L491,157.7 L491,158 L491.6,158 L491.6,158.1 L492.2,158.1 L492.2,158.4 L492.8,158.4 L492.8,158.5 L493.4,158.5 L493.4,157.7 L494,157.7 L494,157.3 L494.6,157.3 L494.6,156.5 L495.2,156.5 L495.2,157.2 L495.8,157.2 L495.8,157.8 L496.4,157.8 L496.4,158.3 L497,158.3 L497,158.3 L497.6,158.3 L497.6,158.3 L498.2,158.3 L498.2,158 L498.8,158 L498.8,158 L499.4,158 L499.4,157.5 L500,157.5 L500,157.8 L500.6,157.8 L500.6,158.2 L501.2,158.2 L501.2,158.4 L501.8,158.4 L501.8,158.7 L502.4,158.7 L502.4,158.8 L503,158.8 L503,159.1 L503.6,159.1 L503.6,158.8 L504.2,158.8 L504.2,158.7 L504.8,158.7 L504.8,158.5 L505.4,158.5 L505.4,158.1 L506,158.1 L506,158.3 L506.6,158.3 L506.6,158.6 L507.2,158.6 L507.2,158.7 L507.8,158.7 L507.8,159.1 L508.4,159.1 L508.4,159.5 L509,159.5 L509,159.4 L509.6,159.4 L509.6,159.5 L510.2,159.5 L510.2,159.2 L510.8,159.2 L510.8,159.3 L511.4,159.3 L511.4,159 L512,159 L512,159.1 L512.6,159.1 L512.6,159.4 L513.2,159.4 L513.2,159.4 L513.8,159.4 L513.8,159.6 L514.4,159.6 L514.4,159.8 L515,159.8 L515,159.9 L515.5,159.9" fill="none" stroke="#000" stroke-width="1.7" stroke-linejoin="round"/>
<polyline points="430,98.6 515.6,98.6 515.6,161" fill="none" stroke="#5a5a5a" stroke-width="1.15"/>
<line x1="430" y1="98.6" x2="430" y2="161.8" stroke="#000" stroke-width="1.6"/>
<line x1="429.2" y1="161" x2="515.6" y2="161" stroke="#000" stroke-width="1.6"/>
<line x1="428.2" y1="161" x2="430" y2="161" stroke="#222" stroke-width="0.7"/>
<line x1="428.2" y1="158.5" x2="430" y2="158.5" stroke="#222" stroke-width="0.7"/>
<line x1="428.2" y1="156" x2="430" y2="156" stroke="#222" stroke-width="0.7"/>
<line x1="428.2" y1="153.5" x2="430" y2="153.5" stroke="#222" stroke-width="0.7"/>
<line x1="428.2" y1="151" x2="430" y2="151" stroke="#222" stroke-width="0.7"/>
<line x1="428.2" y1="148.5" x2="430" y2="148.5" stroke="#222" stroke-width="0.7"/>
<line x1="428.2" y1="146" x2="430" y2="146" stroke="#222" stroke-width="0.7"/>
<line x1="428.2" y1="143.5" x2="430" y2="143.5" stroke="#222" stroke-width="0.7"/>
<line x1="428.2" y1="141" x2="430" y2="141" stroke="#222" stroke-width="0.7"/>
<line x1="428.2" y1="138.5" x2="430" y2="138.5" stroke="#222" stroke-width="0.7"/>
<line x1="428.2" y1="136" x2="430" y2="136" stroke="#222" stroke-width="0.7"/>
<line x1="428.2" y1="133.5" x2="430" y2="133.5" stroke="#222" stroke-width="0.7"/>
<line x1="428.2" y1="131" x2="430" y2="131" stroke="#222" stroke-width="0.7"/>
<line x1="428.2" y1="128.6" x2="430" y2="128.6" stroke="#222" stroke-width="0.7"/>
<line x1="428.2" y1="126.1" x2="430" y2="126.1" stroke="#222" stroke-width="0.7"/>
<line x1="428.2" y1="123.6" x2="430" y2="123.6" stroke="#222" stroke-width="0.7"/>
<line x1="428.2" y1="121.1" x2="430" y2="121.1" stroke="#222" stroke-width="0.7"/>
<line x1="428.2" y1="118.6" x2="430" y2="118.6" stroke="#222" stroke-width="0.7"/>
<line x1="428.2" y1="116.1" x2="430" y2="116.1" stroke="#222" stroke-width="0.7"/>
<line x1="428.2" y1="113.6" x2="430" y2="113.6" stroke="#222" stroke-width="0.7"/>
<line x1="428.2" y1="111.1" x2="430" y2="111.1" stroke="#222" stroke-width="0.7"/>
<line x1="428.2" y1="108.6" x2="430" y2="108.6" stroke="#222" stroke-width="0.7"/>
<line x1="428.2" y1="106.1" x2="430" y2="106.1" stroke="#222" stroke-width="0.7"/>
<line x1="428.2" y1="103.6" x2="430" y2="103.6" stroke="#222" stroke-width="0.7"/>
<line x1="428.2" y1="101.1" x2="430" y2="101.1" stroke="#222" stroke-width="0.7"/>
<line x1="428.2" y1="98.6" x2="430" y2="98.6" stroke="#222" stroke-width="0.7"/>
<line x1="427" y1="161" x2="430" y2="161" stroke="#000" stroke-width="0.9"/>
<text x="425.8" y="161" transform="rotate(-90 425.8 161)" font-size="5.5" text-anchor="middle" stroke="#000" stroke-width="0.12">0</text>
<line x1="427" y1="149.4" x2="430" y2="149.4" stroke="#000" stroke-width="0.9"/>
<text x="425.8" y="149.4" transform="rotate(-90 425.8 149.4)" font-size="5.5" text-anchor="middle" stroke="#000" stroke-width="0.12">5</text>
<line x1="427" y1="137.9" x2="430" y2="137.9" stroke="#000" stroke-width="0.9"/>
<text x="425.8" y="137.9" transform="rotate(-90 425.8 137.9)" font-size="5.5" text-anchor="middle" stroke="#000" stroke-width="0.12">10</text>
<line x1="427" y1="126.3" x2="430" y2="126.3" stroke="#000" stroke-width="0.9"/>
<text x="425.8" y="126.3" transform="rotate(-90 425.8 126.3)" font-size="5.5" text-anchor="middle" stroke="#000" stroke-width="0.12">15</text>
<line x1="427" y1="114.8" x2="430" y2="114.8" stroke="#000" stroke-width="0.9"/>
<text x="425.8" y="114.8" transform="rotate(-90 425.8 114.8)" font-size="5.5" text-anchor="middle" stroke="#000" stroke-width="0.12">20</text>
<line x1="427" y1="103.2" x2="430" y2="103.2" stroke="#000" stroke-width="0.9"/>
<text x="425.8" y="103.2" transform="rotate(-90 425.8 103.2)" font-size="5.5" text-anchor="middle" stroke="#000" stroke-width="0.12">25</text>
<text x="420.4" y="130.8" transform="rotate(-90 420.4 130.8)" font-size="5.5" text-anchor="middle" stroke="#000" stroke-width="0.12">Counts</text>
<line x1="430" y1="161" x2="430" y2="163.4" stroke="#222" stroke-width="0.7"/>
<line x1="436.4" y1="161" x2="436.4" y2="162.3" stroke="#222" stroke-width="0.7"/>
<line x1="440.2" y1="161" x2="440.2" y2="162.3" stroke="#222" stroke-width="0.7"/>
<line x1="442.9" y1="161" x2="442.9" y2="162.3" stroke="#222" stroke-width="0.7"/>
<line x1="445" y1="161" x2="445" y2="162.3" stroke="#222" stroke-width="0.7"/>
<line x1="446.7" y1="161" x2="446.7" y2="162.3" stroke="#222" stroke-width="0.7"/>
<line x1="448.1" y1="161" x2="448.1" y2="162.3" stroke="#222" stroke-width="0.7"/>
<line x1="449.3" y1="161" x2="449.3" y2="162.3" stroke="#222" stroke-width="0.7"/>
<line x1="450.4" y1="161" x2="450.4" y2="162.3" stroke="#222" stroke-width="0.7"/>
<line x1="451.4" y1="161" x2="451.4" y2="163.4" stroke="#222" stroke-width="0.7"/>
<line x1="457.8" y1="161" x2="457.8" y2="162.3" stroke="#222" stroke-width="0.7"/>
<line x1="461.6" y1="161" x2="461.6" y2="162.3" stroke="#222" stroke-width="0.7"/>
<line x1="464.3" y1="161" x2="464.3" y2="162.3" stroke="#222" stroke-width="0.7"/>
<line x1="466.4" y1="161" x2="466.4" y2="162.3" stroke="#222" stroke-width="0.7"/>
<line x1="468.1" y1="161" x2="468.1" y2="162.3" stroke="#222" stroke-width="0.7"/>
<line x1="469.5" y1="161" x2="469.5" y2="162.3" stroke="#222" stroke-width="0.7"/>
<line x1="470.7" y1="161" x2="470.7" y2="162.3" stroke="#222" stroke-width="0.7"/>
<line x1="471.8" y1="161" x2="471.8" y2="162.3" stroke="#222" stroke-width="0.7"/>
<line x1="472.8" y1="161" x2="472.8" y2="163.4" stroke="#222" stroke-width="0.7"/>
<line x1="479.2" y1="161" x2="479.2" y2="162.3" stroke="#222" stroke-width="0.7"/>
<line x1="483" y1="161" x2="483" y2="162.3" stroke="#222" stroke-width="0.7"/>
<line x1="485.7" y1="161" x2="485.7" y2="162.3" stroke="#222" stroke-width="0.7"/>
<line x1="487.8" y1="161" x2="487.8" y2="162.3" stroke="#222" stroke-width="0.7"/>
<line x1="489.5" y1="161" x2="489.5" y2="162.3" stroke="#222" stroke-width="0.7"/>
<line x1="490.9" y1="161" x2="490.9" y2="162.3" stroke="#222" stroke-width="0.7"/>
<line x1="492.1" y1="161" x2="492.1" y2="162.3" stroke="#222" stroke-width="0.7"/>
<line x1="493.2" y1="161" x2="493.2" y2="162.3" stroke="#222" stroke-width="0.7"/>
<line x1="494.2" y1="161" x2="494.2" y2="163.4" stroke="#222" stroke-width="0.7"/>
<line x1="500.6" y1="161" x2="500.6" y2="162.3" stroke="#222" stroke-width="0.7"/>
<line x1="504.4" y1="161" x2="504.4" y2="162.3" stroke="#222" stroke-width="0.7"/>
<line x1="507.1" y1="161" x2="507.1" y2="162.3" stroke="#222" stroke-width="0.7"/>
<line x1="509.2" y1="161" x2="509.2" y2="162.3" stroke="#222" stroke-width="0.7"/>
<line x1="510.9" y1="161" x2="510.9" y2="162.3" stroke="#222" stroke-width="0.7"/>
<line x1="512.3" y1="161" x2="512.3" y2="162.3" stroke="#222" stroke-width="0.7"/>
<line x1="513.5" y1="161" x2="513.5" y2="162.3" stroke="#222" stroke-width="0.7"/>
<line x1="514.6" y1="161" x2="514.6" y2="162.3" stroke="#222" stroke-width="0.7"/>
<text x="430.6" y="170.4" font-size="5.4" text-anchor="middle" stroke="#000" stroke-width="0.15">10<tspan font-size="4.4" dy="-2.6">0</tspan></text>
<text x="452" y="170.4" font-size="5.4" text-anchor="middle" stroke="#000" stroke-width="0.15">10<tspan font-size="4.4" dy="-2.6">1</tspan></text>
<text x="473.4" y="170.4" font-size="5.4" text-anchor="middle" stroke="#000" stroke-width="0.15">10<tspan font-size="4.4" dy="-2.6">2</tspan></text>
<text x="494.8" y="170.4" font-size="5.4" text-anchor="middle" stroke="#000" stroke-width="0.15">10<tspan font-size="4.4" dy="-2.6">3</tspan></text>
<text x="516.2" y="170.4" font-size="5.4" text-anchor="middle" stroke="#000" stroke-width="0.15">10<tspan font-size="4.4" dy="-2.6">4</tspan></text>
<path d="M84,241 L84,229.2 L84.6,229.2 L84.6,228.4 L85.2,228.4 L85.2,227.3 L85.8,227.3 L85.8,227.7 L86.4,227.7 L86.4,226.1 L87,226.1 L87,225.7 L87.6,225.7 L87.6,223.4 L88.2,223.4 L88.2,223.6 L88.8,223.6 L88.8,221.4 L89.4,221.4 L89.4,221 L90,221 L90,220.1 L90.6,220.1 L90.6,218.4 L91.2,218.4 L91.2,214.8 L91.8,214.8 L91.8,208.7 L92.4,208.7 L92.4,210.4 L93,210.4 L93,215.9 L93.6,215.9 L93.6,214.1 L94.2,214.1 L94.2,215.5 L94.8,215.5 L94.8,214.4 L95.4,214.4 L95.4,213.5 L96,213.5 L96,213.9 L96.6,213.9 L96.6,204.1 L97.2,204.1 L97.2,199.1 L97.8,199.1 L97.8,198.3 L98.4,198.3 L98.4,209.5 L99,209.5 L99,212.8 L99.6,212.8 L99.6,212.5 L100.2,212.5 L100.2,212.2 L100.8,212.2 L100.8,202.2 L101.4,202.2 L101.4,199 L102,199 L102,202.2 L102.6,202.2 L102.6,211.6 L103.2,211.6 L103.2,203.3 L103.8,203.3 L103.8,195 L104.4,195 L104.4,194.2 L105,194.2 L105,199.8 L105.6,199.8 L105.6,212.9 L106.2,212.9 L106.2,212.7 L106.8,212.7 L106.8,213.2 L107.4,213.2 L107.4,213.5 L108,213.5 L108,213.8 L108.6,213.8 L108.6,214.3 L109.2,214.3 L109.2,218.3 L109.8,218.3 L109.8,220.7 L110.4,220.7 L110.4,218.9 L111,218.9 L111,218.6 L111.6,218.6 L111.6,220.8 L112.2,220.8 L112.2,222.8 L112.8,222.8 L112.8,224.6 L113.4,224.6 L113.4,226.5 L114,226.5 L114,227.2 L114.6,227.2 L114.6,228.7 L115.2,228.7 L115.2,229.3 L115.8,229.3 L115.8,230.9 L116.4,230.9 L116.4,231.7 L117,231.7 L117,231.7 L117.6,231.7 L117.6,233 L118.2,233 L118.2,233.3 L118.8,233.3 L118.8,233.5 L119.4,233.5 L119.4,233.9 L120,233.9 L120,232.1 L120.6,232.1 L120.6,231.1 L121.2,231.1 L121.2,232.7 L121.8,232.7 L121.8,235.1 L122.4,235.1 L122.4,236.7 L123,236.7 L123,237 L123.6,237 L123.6,237 L124.2,237 L124.2,237.3 L124.8,237.3 L124.8,237.5 L125.4,237.5 L125.4,238.5 L126,238.5 L126,238.4 L126.6,238.4 L126.6,237.8 L127.2,237.8 L127.2,237.7 L127.8,237.7 L127.8,237.1 L128.4,237.1 L128.4,237.2 L129,237.2 L129,236.7 L129.6,236.7 L129.6,236.4 L130.2,236.4 L130.2,237.9 L130.8,237.9 L130.8,238.1 L131.4,238.1 L131.4,239.4 L132,239.4 L132,239.7 L132.6,239.7 L132.6,239.7 L133.2,239.7 L133.2,239.7 L133.8,239.7 L133.8,240 L134.4,240 L134.4,240.2 L135,240.2 L135,240.3 L135.6,240.3 L135.6,240.5 L136,240.5 L136,241 Z" fill="#000"/>
<path d="M110,225.3 L110.6,225.3 L110.6,222.1 L111.2,222.1 L111.2,221.3 L111.8,221.3 L111.8,220.6 L112.4,220.6 L112.4,218.5 L113,218.5 L113,217.4 L113.6,217.4 L113.6,215.7 L114.2,215.7 L114.2,213.5 L114.8,213.5 L114.8,211.5 L115.4,211.5 L115.4,210.2 L116,210.2 L116,210.5 L116.6,210.5 L116.6,211.2 L117.2,211.2 L117.2,209.6 L117.8,209.6 L117.8,207.5 L118.4,207.5 L118.4,206.4 L119,206.4 L119,204.1 L119.6,204.1 L119.6,201.9 L120.2,201.9 L120.2,199.2 L120.8,199.2 L120.8,199 L121.4,199 L121.4,198.1 L122,198.1 L122,197.4 L122.6,197.4 L122.6,197.3 L123.2,197.3 L123.2,196.4 L123.8,196.4 L123.8,195.5 L124.4,195.5 L124.4,196 L125,196 L125,197.5 L125.6,197.5 L125.6,196.5 L126.2,196.5 L126.2,195.1 L126.8,195.1 L126.8,193.9 L127.4,193.9 L127.4,196.9 L128,196.9 L128,201.1 L128.6,201.1 L128.6,204.6 L129.2,204.6 L129.2,207.6 L129.8,207.6 L129.8,210.5 L130.4,210.5 L130.4,212.9 L131,212.9 L131,215.8 L131.6,215.8 L131.6,216.7 L132.2,216.7 L132.2,217.7 L132.8,217.7 L132.8,219.9 L133.4,219.9 L133.4,222.1 L134,222.1 L134,223 L134.6,223 L134.6,225.6 L135.2,225.6 L135.2,226.4 L135.8,226.4 L135.8,228.4 L136.4,228.4 L136.4,230.2 L137,230.2 L137,232.2 L137.6,232.2 L137.6,233.8 L138.2,233.8 L138.2,235.1 L138.8,235.1 L138.8,236.1 L139.4,236.1 L139.4,236.7 L140,236.7 L140,236.7 L140.6,236.7 L140.6,236.9 L141.2,236.9 L141.2,237.6 L141.8,237.6 L141.8,237.7 L142.4,237.7 L142.4,238.1 L143,238.1 L143,238.5 L143.6,238.5 L143.6,239 L144.2,239 L144.2,239.1 L144.8,239.1 L144.8,239.7 L145.4,239.7 L145.4,240 L146,240 L146,240 L146.6,240 L146.6,240 L147.2,240 L147.2,240 L147.8,240 L147.8,240.1 L148.4,240.1 L148.4,240.1 L149,240.1 L149,240.1 L149.6,240.1 L149.6,240.1 L150.2,240.1 L150.2,240.1 L150.8,240.1 L150.8,240.1 L151.4,240.1 L151.4,240.1 L152,240.1 L152,240.2 L152.6,240.2 L152.6,240.2 L153.2,240.2 L153.2,240.2 L153.8,240.2 L153.8,240.2 L154.4,240.2 L154.4,240.2 L155,240.2 L155,240.2 L155.6,240.2 L155.6,240.2 L156.2,240.2 L156.2,240.3 L156.8,240.3 L156.8,240.3 L157.4,240.3 L157.4,240.3 L158,240.3 L158,240.3 L158.6,240.3 L158.6,240.3 L159.2,240.3 L159.2,240.3 L159.8,240.3 L159.8,240.4 L160.4,240.4 L160.4,240.4 L161,240.4 L161,240.4 L161.6,240.4 L161.6,240.4 L162.2,240.4 L162.2,240.4 L162.8,240.4 L162.8,240.4 L163.4,240.4 L163.4,240.4 L164,240.4 L164,240.5 L164.6,240.5 L164.6,240.5 L165.2,240.5 L165.2,240.5 L165.8,240.5 L165.8,240.5 L166,240.5" fill="none" stroke="#000" stroke-width="1.7" stroke-linejoin="round"/>
<polyline points="114.5,224 116.5,215 118.5,212 120.5,204 122,201.5 124,200 126,200 127.3,201 128,206 129,212 130.5,219 132.3,223.5 134,228.5 136,234 138,237" fill="none" stroke="#000" stroke-width="0.9"/>
<polyline points="84,175 166.4,175 166.4,241" fill="none" stroke="#5a5a5a" stroke-width="1.15"/>
<line x1="84" y1="175" x2="84" y2="241.8" stroke="#000" stroke-width="1.6"/>
<line x1="83.2" y1="241" x2="166.4" y2="241" stroke="#000" stroke-width="1.6"/>
<line x1="82.2" y1="241" x2="84" y2="241" stroke="#222" stroke-width="0.7"/>
<line x1="82.2" y1="238.4" x2="84" y2="238.4" stroke="#222" stroke-width="0.7"/>
<line x1="82.2" y1="235.7" x2="84" y2="235.7" stroke="#222" stroke-width="0.7"/>
<line x1="82.2" y1="233.1" x2="84" y2="233.1" stroke="#222" stroke-width="0.7"/>
<line x1="82.2" y1="230.4" x2="84" y2="230.4" stroke="#222" stroke-width="0.7"/>
<line x1="82.2" y1="227.8" x2="84" y2="227.8" stroke="#222" stroke-width="0.7"/>
<line x1="82.2" y1="225.2" x2="84" y2="225.2" stroke="#222" stroke-width="0.7"/>
<line x1="82.2" y1="222.5" x2="84" y2="222.5" stroke="#222" stroke-width="0.7"/>
<line x1="82.2" y1="219.9" x2="84" y2="219.9" stroke="#222" stroke-width="0.7"/>
<line x1="82.2" y1="217.2" x2="84" y2="217.2" stroke="#222" stroke-width="0.7"/>
<line x1="82.2" y1="214.6" x2="84" y2="214.6" stroke="#222" stroke-width="0.7"/>
<line x1="82.2" y1="212" x2="84" y2="212" stroke="#222" stroke-width="0.7"/>
<line x1="82.2" y1="209.3" x2="84" y2="209.3" stroke="#222" stroke-width="0.7"/>
<line x1="82.2" y1="206.7" x2="84" y2="206.7" stroke="#222" stroke-width="0.7"/>
<line x1="82.2" y1="204" x2="84" y2="204" stroke="#222" stroke-width="0.7"/>
<line x1="82.2" y1="201.4" x2="84" y2="201.4" stroke="#222" stroke-width="0.7"/>
<line x1="82.2" y1="198.8" x2="84" y2="198.8" stroke="#222" stroke-width="0.7"/>
<line x1="82.2" y1="196.1" x2="84" y2="196.1" stroke="#222" stroke-width="0.7"/>
<line x1="82.2" y1="193.5" x2="84" y2="193.5" stroke="#222" stroke-width="0.7"/>
<line x1="82.2" y1="190.8" x2="84" y2="190.8" stroke="#222" stroke-width="0.7"/>
<line x1="82.2" y1="188.2" x2="84" y2="188.2" stroke="#222" stroke-width="0.7"/>
<line x1="82.2" y1="185.6" x2="84" y2="185.6" stroke="#222" stroke-width="0.7"/>
<line x1="82.2" y1="182.9" x2="84" y2="182.9" stroke="#222" stroke-width="0.7"/>
<line x1="82.2" y1="180.3" x2="84" y2="180.3" stroke="#222" stroke-width="0.7"/>
<line x1="82.2" y1="177.6" x2="84" y2="177.6" stroke="#222" stroke-width="0.7"/>
<line x1="82.2" y1="175" x2="84" y2="175" stroke="#222" stroke-width="0.7"/>
<line x1="81" y1="241" x2="84" y2="241" stroke="#000" stroke-width="0.9"/>
<text x="79.8" y="241" transform="rotate(-90 79.8 241)" font-size="5.5" text-anchor="middle" stroke="#000" stroke-width="0.12">0</text>
<line x1="81" y1="224.5" x2="84" y2="224.5" stroke="#000" stroke-width="0.9"/>
<text x="79.8" y="224.5" transform="rotate(-90 79.8 224.5)" font-size="5.5" text-anchor="middle" stroke="#000" stroke-width="0.12">5</text>
<line x1="81" y1="208" x2="84" y2="208" stroke="#000" stroke-width="0.9"/>
<text x="79.8" y="208" transform="rotate(-90 79.8 208)" font-size="5.5" text-anchor="middle" stroke="#000" stroke-width="0.12">10</text>
<line x1="81" y1="191.5" x2="84" y2="191.5" stroke="#000" stroke-width="0.9"/>
<text x="79.8" y="191.5" transform="rotate(-90 79.8 191.5)" font-size="5.5" text-anchor="middle" stroke="#000" stroke-width="0.12">15</text>
<line x1="81" y1="175" x2="84" y2="175" stroke="#000" stroke-width="0.9"/>
<text x="79.8" y="175" transform="rotate(-90 79.8 175)" font-size="5.5" text-anchor="middle" stroke="#000" stroke-width="0.12">20</text>
<text x="74.4" y="209" transform="rotate(-90 74.4 209)" font-size="5.5" text-anchor="middle" stroke="#000" stroke-width="0.12">Counts</text>
<line x1="84" y1="241" x2="84" y2="243.4" stroke="#222" stroke-width="0.7"/>
<line x1="90.2" y1="241" x2="90.2" y2="242.3" stroke="#222" stroke-width="0.7"/>
<line x1="93.8" y1="241" x2="93.8" y2="242.3" stroke="#222" stroke-width="0.7"/>
<line x1="96.4" y1="241" x2="96.4" y2="242.3" stroke="#222" stroke-width="0.7"/>
<line x1="98.4" y1="241" x2="98.4" y2="242.3" stroke="#222" stroke-width="0.7"/>
<line x1="100" y1="241" x2="100" y2="242.3" stroke="#222" stroke-width="0.7"/>
<line x1="101.4" y1="241" x2="101.4" y2="242.3" stroke="#222" stroke-width="0.7"/>
<line x1="102.6" y1="241" x2="102.6" y2="242.3" stroke="#222" stroke-width="0.7"/>
<line x1="103.7" y1="241" x2="103.7" y2="242.3" stroke="#222" stroke-width="0.7"/>
<line x1="104.6" y1="241" x2="104.6" y2="243.4" stroke="#222" stroke-width="0.7"/>
<line x1="110.8" y1="241" x2="110.8" y2="242.3" stroke="#222" stroke-width="0.7"/>
<line x1="114.4" y1="241" x2="114.4" y2="242.3" stroke="#222" stroke-width="0.7"/>
<line x1="117" y1="241" x2="117" y2="242.3" stroke="#222" stroke-width="0.7"/>
<line x1="119" y1="241" x2="119" y2="242.3" stroke="#222" stroke-width="0.7"/>
<line x1="120.6" y1="241" x2="120.6" y2="242.3" stroke="#222" stroke-width="0.7"/>
<line x1="122" y1="241" x2="122" y2="242.3" stroke="#222" stroke-width="0.7"/>
<line x1="123.2" y1="241" x2="123.2" y2="242.3" stroke="#222" stroke-width="0.7"/>
<line x1="124.3" y1="241" x2="124.3" y2="242.3" stroke="#222" stroke-width="0.7"/>
<line x1="125.2" y1="241" x2="125.2" y2="243.4" stroke="#222" stroke-width="0.7"/>
<line x1="131.4" y1="241" x2="131.4" y2="242.3" stroke="#222" stroke-width="0.7"/>
<line x1="135" y1="241" x2="135" y2="242.3" stroke="#222" stroke-width="0.7"/>
<line x1="137.6" y1="241" x2="137.6" y2="242.3" stroke="#222" stroke-width="0.7"/>
<line x1="139.6" y1="241" x2="139.6" y2="242.3" stroke="#222" stroke-width="0.7"/>
<line x1="141.2" y1="241" x2="141.2" y2="242.3" stroke="#222" stroke-width="0.7"/>
<line x1="142.6" y1="241" x2="142.6" y2="242.3" stroke="#222" stroke-width="0.7"/>
<line x1="143.8" y1="241" x2="143.8" y2="242.3" stroke="#222" stroke-width="0.7"/>
<line x1="144.9" y1="241" x2="144.9" y2="242.3" stroke="#222" stroke-width="0.7"/>
<line x1="145.8" y1="241" x2="145.8" y2="243.4" stroke="#222" stroke-width="0.7"/>
<line x1="152" y1="241" x2="152" y2="242.3" stroke="#222" stroke-width="0.7"/>
<line x1="155.6" y1="241" x2="155.6" y2="242.3" stroke="#222" stroke-width="0.7"/>
<line x1="158.2" y1="241" x2="158.2" y2="242.3" stroke="#222" stroke-width="0.7"/>
<line x1="160.2" y1="241" x2="160.2" y2="242.3" stroke="#222" stroke-width="0.7"/>
<line x1="161.8" y1="241" x2="161.8" y2="242.3" stroke="#222" stroke-width="0.7"/>
<line x1="163.2" y1="241" x2="163.2" y2="242.3" stroke="#222" stroke-width="0.7"/>
<line x1="164.4" y1="241" x2="164.4" y2="242.3" stroke="#222" stroke-width="0.7"/>
<line x1="165.5" y1="241" x2="165.5" y2="242.3" stroke="#222" stroke-width="0.7"/>
<text x="84.6" y="250.4" font-size="5.4" text-anchor="middle" stroke="#000" stroke-width="0.15">10<tspan font-size="4.4" dy="-2.6">0</tspan></text>
<text x="105.2" y="250.4" font-size="5.4" text-anchor="middle" stroke="#000" stroke-width="0.15">10<tspan font-size="4.4" dy="-2.6">1</tspan></text>
<text x="125.8" y="250.4" font-size="5.4" text-anchor="middle" stroke="#000" stroke-width="0.15">10<tspan font-size="4.4" dy="-2.6">2</tspan></text>
<text x="146.4" y="250.4" font-size="5.4" text-anchor="middle" stroke="#000" stroke-width="0.15">10<tspan font-size="4.4" dy="-2.6">3</tspan></text>
<text x="167" y="250.4" font-size="5.4" text-anchor="middle" stroke="#000" stroke-width="0.15">10<tspan font-size="4.4" dy="-2.6">4</tspan></text>
<path d="M196.2,241.4 L196.2,193.7 L196.8,193.7 L196.8,193.2 L197.4,193.2 L197.4,202.1 L198,202.1 L198,213.4 L198.6,213.4 L198.6,210.6 L199.2,210.6 L199.2,208.3 L199.8,208.3 L199.8,206.9 L200.4,206.9 L200.4,204.2 L201,204.2 L201,202.2 L201.6,202.2 L201.6,198.2 L202.2,198.2 L202.2,195.2 L202.8,195.2 L202.8,192.5 L203.4,192.5 L203.4,192.2 L204,192.2 L204,190.8 L204.6,190.8 L204.6,190 L205.2,190 L205.2,189.2 L205.8,189.2 L205.8,188.3 L206.4,188.3 L206.4,187.7 L207,187.7 L207,186.1 L207.6,186.1 L207.6,184.6 L208.2,184.6 L208.2,183.2 L208.8,183.2 L208.8,188.6 L209.4,188.6 L209.4,195.4 L210,195.4 L210,200.6 L210.6,200.6 L210.6,204.6 L211.2,204.6 L211.2,207 L211.8,207 L211.8,209.5 L212.4,209.5 L212.4,210.7 L213,210.7 L213,213.7 L213.6,213.7 L213.6,215.8 L214.2,215.8 L214.2,217.8 L214.8,217.8 L214.8,217.4 L215.4,217.4 L215.4,218.1 L216,218.1 L216,218.6 L216.6,218.6 L216.6,219.3 L217.2,219.3 L217.2,221.2 L217.8,221.2 L217.8,222.2 L218.4,222.2 L218.4,223.1 L219,223.1 L219,224.6 L219.6,224.6 L219.6,225.5 L220.2,225.5 L220.2,226.3 L220.8,226.3 L220.8,227.2 L221.4,227.2 L221.4,228.4 L222,228.4 L222,230.5 L222.6,230.5 L222.6,230.5 L223.2,230.5 L223.2,231.2 L223.8,231.2 L223.8,231.9 L224.4,231.9 L224.4,232.1 L225,232.1 L225,232.9 L225.6,232.9 L225.6,233.6 L226.2,233.6 L226.2,234.6 L226.8,234.6 L226.8,234.9 L227.4,234.9 L227.4,235.4 L228,235.4 L228,236.4 L228.6,236.4 L228.6,236.4 L229.2,236.4 L229.2,237.1 L229.8,237.1 L229.8,237.4 L230.4,237.4 L230.4,237.2 L231,237.2 L231,237.5 L231.6,237.5 L231.6,237.7 L232.2,237.7 L232.2,238 L232.8,238 L232.8,237.8 L233.4,237.8 L233.4,238.1 L234,238.1 L234,238.1 L234.6,238.1 L234.6,238.1 L235.2,238.1 L235.2,238.6 L235.8,238.6 L235.8,238.3 L236.4,238.3 L236.4,238.9 L237,238.9 L237,238.7 L237.6,238.7 L237.6,238.7 L238.2,238.7 L238.2,239 L238.8,239 L238.8,239.4 L239.4,239.4 L239.4,239.6 L240,239.6 L240,239 L240.6,239 L240.6,239.2 L241.2,239.2 L241.2,239.1 L241.8,239.1 L241.8,239.2 L242.4,239.2 L242.4,238.8 L243,238.8 L243,238.8 L243.6,238.8 L243.6,238.8 L244.2,238.8 L244.2,239.2 L244.8,239.2 L244.8,239 L245.4,239 L245.4,239.4 L246,239.4 L246,239.2 L246.6,239.2 L246.6,239.3 L247.2,239.3 L247.2,239.6 L247.8,239.6 L247.8,239.6 L248.4,239.6 L248.4,239.3 L249,239.3 L249,239.5 L249.6,239.5 L249.6,239.2 L250.2,239.2 L250.2,239.5 L250.8,239.5 L250.8,239.3 L251.4,239.3 L251.4,239.3 L252,239.3 L252,239.2 L252.6,239.2 L252.6,239 L253.2,239 L253.2,238.9 L253.8,238.9 L253.8,238.9 L254.4,238.9 L254.4,239.3 L255,239.3 L255,239.1 L255.6,239.1 L255.6,239.7 L256.2,239.7 L256.2,239.4 L256.8,239.4 L256.8,239.7 L257.4,239.7 L257.4,239.9 L258,239.9 L258,240.3 L258.6,240.3 L258.6,240.1 L259.2,240.1 L259.2,240.1 L259.8,240.1 L259.8,240.4 L260.4,240.4 L260.4,240.2 L261,240.2 L261,240.3 L261.6,240.3 L261.6,240.4 L262.2,240.4 L262.2,240.5 L262.8,240.5 L262.8,240.5 L263.4,240.5 L263.4,240.4 L264,240.4 L264,240.4 L264.6,240.4 L264.6,240.5 L265,240.5 L265,241.4 Z" fill="#000"/>
<path d="M208.5,183.9 L209.1,183.9 L209.1,185 L209.7,185 L209.7,187.9 L210.3,187.9 L210.3,190.8 L210.9,190.8 L210.9,193.7 L211.5,193.7 L211.5,195.9 L212.1,195.9 L212.1,198.3 L212.7,198.3 L212.7,200.6 L213.3,200.6 L213.3,203.6 L213.9,203.6 L213.9,206.6 L214.5,206.6 L214.5,209.1 L215.1,209.1 L215.1,211.3 L215.7,211.3 L215.7,214 L216.3,214 L216.3,216.7 L216.9,216.7 L216.9,218.3 L217.5,218.3 L217.5,219.9 L217.8,219.9" fill="none" stroke="#000" stroke-width="1.7" stroke-linejoin="round"/>
<polyline points="196,175.4 282.4,175.4 282.4,241.4" fill="none" stroke="#5a5a5a" stroke-width="1.15"/>
<line x1="196" y1="175.4" x2="196" y2="242.2" stroke="#000" stroke-width="1.6"/>
<line x1="195.2" y1="241.4" x2="282.4" y2="241.4" stroke="#000" stroke-width="1.6"/>
<line x1="194.2" y1="241.4" x2="196" y2="241.4" stroke="#222" stroke-width="0.7"/>
<line x1="194.2" y1="238.8" x2="196" y2="238.8" stroke="#222" stroke-width="0.7"/>
<line x1="194.2" y1="236.1" x2="196" y2="236.1" stroke="#222" stroke-width="0.7"/>
<line x1="194.2" y1="233.5" x2="196" y2="233.5" stroke="#222" stroke-width="0.7"/>
<line x1="194.2" y1="230.8" x2="196" y2="230.8" stroke="#222" stroke-width="0.7"/>
<line x1="194.2" y1="228.2" x2="196" y2="228.2" stroke="#222" stroke-width="0.7"/>
<line x1="194.2" y1="225.6" x2="196" y2="225.6" stroke="#222" stroke-width="0.7"/>
<line x1="194.2" y1="222.9" x2="196" y2="222.9" stroke="#222" stroke-width="0.7"/>
<line x1="194.2" y1="220.3" x2="196" y2="220.3" stroke="#222" stroke-width="0.7"/>
<line x1="194.2" y1="217.6" x2="196" y2="217.6" stroke="#222" stroke-width="0.7"/>
<line x1="194.2" y1="215" x2="196" y2="215" stroke="#222" stroke-width="0.7"/>
<line x1="194.2" y1="212.4" x2="196" y2="212.4" stroke="#222" stroke-width="0.7"/>
<line x1="194.2" y1="209.7" x2="196" y2="209.7" stroke="#222" stroke-width="0.7"/>
<line x1="194.2" y1="207.1" x2="196" y2="207.1" stroke="#222" stroke-width="0.7"/>
<line x1="194.2" y1="204.4" x2="196" y2="204.4" stroke="#222" stroke-width="0.7"/>
<line x1="194.2" y1="201.8" x2="196" y2="201.8" stroke="#222" stroke-width="0.7"/>
<line x1="194.2" y1="199.2" x2="196" y2="199.2" stroke="#222" stroke-width="0.7"/>
<line x1="194.2" y1="196.5" x2="196" y2="196.5" stroke="#222" stroke-width="0.7"/>
<line x1="194.2" y1="193.9" x2="196" y2="193.9" stroke="#222" stroke-width="0.7"/>
<line x1="194.2" y1="191.2" x2="196" y2="191.2" stroke="#222" stroke-width="0.7"/>
<line x1="194.2" y1="188.6" x2="196" y2="188.6" stroke="#222" stroke-width="0.7"/>
<line x1="194.2" y1="186" x2="196" y2="186" stroke="#222" stroke-width="0.7"/>
<line x1="194.2" y1="183.3" x2="196" y2="183.3" stroke="#222" stroke-width="0.7"/>
<line x1="194.2" y1="180.7" x2="196" y2="180.7" stroke="#222" stroke-width="0.7"/>
<line x1="194.2" y1="178" x2="196" y2="178" stroke="#222" stroke-width="0.7"/>
<line x1="194.2" y1="175.4" x2="196" y2="175.4" stroke="#222" stroke-width="0.7"/>
<line x1="193" y1="241.4" x2="196" y2="241.4" stroke="#000" stroke-width="0.9"/>
<text x="191.8" y="241.4" transform="rotate(-90 191.8 241.4)" font-size="5.5" text-anchor="middle" stroke="#000" stroke-width="0.12">0</text>
<line x1="193" y1="229.6" x2="196" y2="229.6" stroke="#000" stroke-width="0.9"/>
<text x="191.8" y="229.6" transform="rotate(-90 191.8 229.6)" font-size="5.5" text-anchor="middle" stroke="#000" stroke-width="0.12">10</text>
<line x1="193" y1="217.7" x2="196" y2="217.7" stroke="#000" stroke-width="0.9"/>
<text x="191.8" y="217.7" transform="rotate(-90 191.8 217.7)" font-size="5.5" text-anchor="middle" stroke="#000" stroke-width="0.12">20</text>
<line x1="193" y1="205.9" x2="196" y2="205.9" stroke="#000" stroke-width="0.9"/>
<text x="191.8" y="205.9" transform="rotate(-90 191.8 205.9)" font-size="5.5" text-anchor="middle" stroke="#000" stroke-width="0.12">30</text>
<line x1="193" y1="194.1" x2="196" y2="194.1" stroke="#000" stroke-width="0.9"/>
<text x="191.8" y="194.1" transform="rotate(-90 191.8 194.1)" font-size="5.5" text-anchor="middle" stroke="#000" stroke-width="0.12">40</text>
<line x1="193" y1="182.3" x2="196" y2="182.3" stroke="#000" stroke-width="0.9"/>
<text x="191.8" y="182.3" transform="rotate(-90 191.8 182.3)" font-size="5.5" text-anchor="middle" stroke="#000" stroke-width="0.12">50</text>
<text x="186.4" y="209.4" transform="rotate(-90 186.4 209.4)" font-size="5.5" text-anchor="middle" stroke="#000" stroke-width="0.12">Counts</text>
<line x1="196" y1="241.4" x2="196" y2="243.8" stroke="#222" stroke-width="0.7"/>
<line x1="202.5" y1="241.4" x2="202.5" y2="242.7" stroke="#222" stroke-width="0.7"/>
<line x1="206.3" y1="241.4" x2="206.3" y2="242.7" stroke="#222" stroke-width="0.7"/>
<line x1="209" y1="241.4" x2="209" y2="242.7" stroke="#222" stroke-width="0.7"/>
<line x1="211.1" y1="241.4" x2="211.1" y2="242.7" stroke="#222" stroke-width="0.7"/>
<line x1="212.8" y1="241.4" x2="212.8" y2="242.7" stroke="#222" stroke-width="0.7"/>
<line x1="214.3" y1="241.4" x2="214.3" y2="242.7" stroke="#222" stroke-width="0.7"/>
<line x1="215.5" y1="241.4" x2="215.5" y2="242.7" stroke="#222" stroke-width="0.7"/>
<line x1="216.6" y1="241.4" x2="216.6" y2="242.7" stroke="#222" stroke-width="0.7"/>
<line x1="217.6" y1="241.4" x2="217.6" y2="243.8" stroke="#222" stroke-width="0.7"/>
<line x1="224.1" y1="241.4" x2="224.1" y2="242.7" stroke="#222" stroke-width="0.7"/>
<line x1="227.9" y1="241.4" x2="227.9" y2="242.7" stroke="#222" stroke-width="0.7"/>
<line x1="230.6" y1="241.4" x2="230.6" y2="242.7" stroke="#222" stroke-width="0.7"/>
<line x1="232.7" y1="241.4" x2="232.7" y2="242.7" stroke="#222" stroke-width="0.7"/>
<line x1="234.4" y1="241.4" x2="234.4" y2="242.7" stroke="#222" stroke-width="0.7"/>
<line x1="235.9" y1="241.4" x2="235.9" y2="242.7" stroke="#222" stroke-width="0.7"/>
<line x1="237.1" y1="241.4" x2="237.1" y2="242.7" stroke="#222" stroke-width="0.7"/>
<line x1="238.2" y1="241.4" x2="238.2" y2="242.7" stroke="#222" stroke-width="0.7"/>
<line x1="239.2" y1="241.4" x2="239.2" y2="243.8" stroke="#222" stroke-width="0.7"/>
<line x1="245.7" y1="241.4" x2="245.7" y2="242.7" stroke="#222" stroke-width="0.7"/>
<line x1="249.5" y1="241.4" x2="249.5" y2="242.7" stroke="#222" stroke-width="0.7"/>
<line x1="252.2" y1="241.4" x2="252.2" y2="242.7" stroke="#222" stroke-width="0.7"/>
<line x1="254.3" y1="241.4" x2="254.3" y2="242.7" stroke="#222" stroke-width="0.7"/>
<line x1="256" y1="241.4" x2="256" y2="242.7" stroke="#222" stroke-width="0.7"/>
<line x1="257.5" y1="241.4" x2="257.5" y2="242.7" stroke="#222" stroke-width="0.7"/>
<line x1="258.7" y1="241.4" x2="258.7" y2="242.7" stroke="#222" stroke-width="0.7"/>
<line x1="259.8" y1="241.4" x2="259.8" y2="242.7" stroke="#222" stroke-width="0.7"/>
<line x1="260.8" y1="241.4" x2="260.8" y2="243.8" stroke="#222" stroke-width="0.7"/>
<line x1="267.3" y1="241.4" x2="267.3" y2="242.7" stroke="#222" stroke-width="0.7"/>
<line x1="271.1" y1="241.4" x2="271.1" y2="242.7" stroke="#222" stroke-width="0.7"/>
<line x1="273.8" y1="241.4" x2="273.8" y2="242.7" stroke="#222" stroke-width="0.7"/>
<line x1="275.9" y1="241.4" x2="275.9" y2="242.7" stroke="#222" stroke-width="0.7"/>
<line x1="277.6" y1="241.4" x2="277.6" y2="242.7" stroke="#222" stroke-width="0.7"/>
<line x1="279.1" y1="241.4" x2="279.1" y2="242.7" stroke="#222" stroke-width="0.7"/>
<line x1="280.3" y1="241.4" x2="280.3" y2="242.7" stroke="#222" stroke-width="0.7"/>
<line x1="281.4" y1="241.4" x2="281.4" y2="242.7" stroke="#222" stroke-width="0.7"/>
<text x="196.6" y="250.8" font-size="5.4" text-anchor="middle" stroke="#000" stroke-width="0.15">10<tspan font-size="4.4" dy="-2.6">0</tspan></text>
<text x="218.2" y="250.8" font-size="5.4" text-anchor="middle" stroke="#000" stroke-width="0.15">10<tspan font-size="4.4" dy="-2.6">1</tspan></text>
<text x="239.8" y="250.8" font-size="5.4" text-anchor="middle" stroke="#000" stroke-width="0.15">10<tspan font-size="4.4" dy="-2.6">2</tspan></text>
<text x="261.4" y="250.8" font-size="5.4" text-anchor="middle" stroke="#000" stroke-width="0.15">10<tspan font-size="4.4" dy="-2.6">3</tspan></text>
<text x="283" y="250.8" font-size="5.4" text-anchor="middle" stroke="#000" stroke-width="0.15">10<tspan font-size="4.4" dy="-2.6">4</tspan></text>
<path d="M316.3,241 L316.3,235.9 L316.9,235.9 L316.9,234.6 L317.5,234.6 L317.5,233.2 L318.1,233.2 L318.1,231 L318.7,231 L318.7,229.9 L319.3,229.9 L319.3,228.8 L319.9,228.8 L319.9,227.7 L320.5,227.7 L320.5,226.4 L321.1,226.4 L321.1,224.4 L321.7,224.4 L321.7,223 L322.3,223 L322.3,221.6 L322.9,221.6 L322.9,221.7 L323.5,221.7 L323.5,220.6 L324.1,220.6 L324.1,218.1 L324.7,218.1 L324.7,215.5 L325.3,215.5 L325.3,212.7 L325.9,212.7 L325.9,213.6 L326.5,213.6 L326.5,216.1 L327.1,216.1 L327.1,212.6 L327.7,212.6 L327.7,208.2 L328.3,208.2 L328.3,205.2 L328.9,205.2 L328.9,203.2 L329.5,203.2 L329.5,196.8 L330.1,196.8 L330.1,192.3 L330.7,192.3 L330.7,195.2 L331.3,195.2 L331.3,202.8 L331.9,202.8 L331.9,204.2 L332.5,204.2 L332.5,206.4 L333.1,206.4 L333.1,203.4 L333.7,203.4 L333.7,199.8 L334.3,199.8 L334.3,197.3 L334.9,197.3 L334.9,197.5 L335.5,197.5 L335.5,203.4 L336.1,203.4 L336.1,204.4 L336.7,204.4 L336.7,201.5 L337.3,201.5 L337.3,197.8 L337.9,197.8 L337.9,197.6 L338.5,197.6 L338.5,200.4 L339.1,200.4 L339.1,205.1 L339.7,205.1 L339.7,204.8 L340.3,204.8 L340.3,203.9 L340.9,203.9 L340.9,199.8 L341.5,199.8 L341.5,198.9 L342.1,198.9 L342.1,201.5 L342.7,201.5 L342.7,207.7 L343.3,207.7 L343.3,209.5 L343.9,209.5 L343.9,211.5 L344.5,211.5 L344.5,213.4 L345.1,213.4 L345.1,214.8 L345.7,214.8 L345.7,216.4 L346.3,216.4 L346.3,218 L346.9,218 L346.9,219.6 L347.5,219.6 L347.5,221.8 L348.1,221.8 L348.1,222.6 L348.7,222.6 L348.7,224.1 L349.3,224.1 L349.3,225.7 L349.9,225.7 L349.9,226.9 L350.5,226.9 L350.5,228 L351.1,228 L351.1,228.7 L351.7,228.7 L351.7,230.1 L352.3,230.1 L352.3,231.4 L352.9,231.4 L352.9,232.7 L353.5,232.7 L353.5,233.7 L354.1,233.7 L354.1,234.9 L354.7,234.9 L354.7,235.9 L355.3,235.9 L355.3,236.2 L355.9,236.2 L355.9,237 L356.5,237 L356.5,237.1 L357.1,237.1 L357.1,237 L357.7,237 L357.7,237.1 L358.3,237.1 L358.3,237.5 L358.9,237.5 L358.9,237 L359.5,237 L359.5,237.4 L360.1,237.4 L360.1,237.4 L360.7,237.4 L360.7,238 L361.3,238 L361.3,238.2 L361.9,238.2 L361.9,238.2 L362.5,238.2 L362.5,238.2 L363.1,238.2 L363.1,238.7 L363.7,238.7 L363.7,238.8 L364.3,238.8 L364.3,239 L364.9,239 L364.9,239 L365.5,239 L365.5,239.1 L366.1,239.1 L366.1,239.3 L366.7,239.3 L366.7,239.3 L367.3,239.3 L367.3,239.3 L367.9,239.3 L367.9,239.6 L368.5,239.6 L368.5,239.3 L369.1,239.3 L369.1,239.5 L369.7,239.5 L369.7,239.4 L370.3,239.4 L370.3,239.6 L370.9,239.6 L370.9,239.3 L371.5,239.3 L371.5,239.7 L372.1,239.7 L372.1,239.4 L372.7,239.4 L372.7,239.3 L373.3,239.3 L373.3,239.4 L373.9,239.4 L373.9,239.5 L374.5,239.5 L374.5,239.4 L375.1,239.4 L375.1,239.5 L375.7,239.5 L375.7,239.5 L376.3,239.5 L376.3,239.6 L376.9,239.6 L376.9,239.5 L377.5,239.5 L377.5,239.4 L378.1,239.4 L378.1,239.4 L378.7,239.4 L378.7,239.6 L379.3,239.6 L379.3,239.7 L379.9,239.7 L379.9,239.5 L380.5,239.5 L380.5,239.4 L381.1,239.4 L381.1,239.6 L381.7,239.6 L381.7,239.4 L382.3,239.4 L382.3,239.4 L382.9,239.4 L382.9,239.3 L383.5,239.3 L383.5,239.6 L384.1,239.6 L384.1,239.6 L384.7,239.6 L384.7,239.5 L385.3,239.5 L385.3,239.4 L385.9,239.4 L385.9,239.5 L386.5,239.5 L386.5,239.3 L387.1,239.3 L387.1,239.6 L387.7,239.6 L387.7,239.3 L388.3,239.3 L388.3,239.5 L388.9,239.5 L388.9,239.5 L389.5,239.5 L389.5,239.5 L390.1,239.5 L390.1,239.4 L390.7,239.4 L390.7,239.3 L391.3,239.3 L391.3,239.4 L391.9,239.4 L391.9,239.3 L392.5,239.3 L392.5,239.6 L393.1,239.6 L393.1,239.4 L393.7,239.4 L393.7,239.6 L394.3,239.6 L394.3,239.4 L394.9,239.4 L394.9,239.4 L395.5,239.4 L395.5,239.4 L396.1,239.4 L396.1,239.5 L396.7,239.5 L396.7,239.4 L397.3,239.4 L397.3,239.3 L397.9,239.3 L397.9,239.6 L398.5,239.6 L398.5,239.4 L399.1,239.4 L399.1,239.4 L399.7,239.4 L399.7,239.5 L400.3,239.5 L400.3,239.6 L400.9,239.6 L400.9,239.5 L401,239.5 L401,241 Z" fill="#000"/>
<path d="M341.4,208.5 L342,208.5 L342,200.7 L342.6,200.7 L342.6,200.4 L343.2,200.4 L343.2,204.7 L343.8,204.7 L343.8,209.5 L344.4,209.5 L344.4,209.5 L345,209.5 L345,210.7 L345.6,210.7 L345.6,207.3 L346.2,207.3 L346.2,203.9 L346.8,203.9 L346.8,199.4 L347.4,199.4 L347.4,195.7 L348,195.7 L348,194 L348.6,194 L348.6,194.8 L349.2,194.8 L349.2,196.2 L349.8,196.2 L349.8,198.7 L350.4,198.7 L350.4,199.9 L351,199.9 L351,199 L351.6,199 L351.6,198.2 L352.2,198.2 L352.2,201.7 L352.8,201.7 L352.8,205.1 L353.4,205.1 L353.4,208.3 L354,208.3 L354,210.4 L354.6,210.4 L354.6,212.4 L355.2,212.4 L355.2,214.8 L355.8,214.8 L355.8,216.5 L356.4,216.5 L356.4,217.9 L357,217.9 L357,219.6 L357.6,219.6 L357.6,217.6 L358.2,217.6 L358.2,215.9 L358.8,215.9 L358.8,214.7 L359.4,214.7 L359.4,213.8 L360,213.8 L360,215.3 L360.6,215.3 L360.6,218.4 L361.2,218.4 L361.2,220.9 L361.8,220.9 L361.8,224.3 L362.4,224.3 L362.4,225.7 L363,225.7 L363,224.3 L363.6,224.3 L363.6,222.6 L364.2,222.6 L364.2,221.3 L364.8,221.3 L364.8,224.1 L365.4,224.1 L365.4,227 L366,227 L366,227.9 L366.6,227.9 L366.6,228.5 L367.2,228.5 L367.2,229.3 L367.8,229.3 L367.8,229.6 L368.4,229.6 L368.4,230 L369,230 L369,229.4 L369.6,229.4 L369.6,229.3 L370.2,229.3 L370.2,229.2 L370.8,229.2 L370.8,231.1 L371.4,231.1 L371.4,233 L372,233 L372,232.1 L372.6,232.1 L372.6,232.2 L373.2,232.2 L373.2,231.6 L373.8,231.6 L373.8,232.4 L374.4,232.4 L374.4,233.6 L375,233.6 L375,234.6 L375.6,234.6 L375.6,234.9 L376.2,234.9 L376.2,235.5 L376.8,235.5 L376.8,236.4 L377.4,236.4 L377.4,236.6 L378,236.6 L378,236.5 L378.6,236.5 L378.6,235.4 L379.2,235.4 L379.2,233.9 L379.8,233.9 L379.8,233.2 L380.4,233.2 L380.4,233.2 L381,233.2 L381,233.4 L381.6,233.4 L381.6,233 L382.2,233 L382.2,233.9 L382.8,233.9 L382.8,234.2 L383.4,234.2 L383.4,234.8 L384,234.8 L384,235.3 L384.6,235.3 L384.6,234.9 L385.2,234.9 L385.2,235.2 L385.8,235.2 L385.8,235.1 L386.4,235.1 L386.4,235 L387,235 L387,235.3 L387.6,235.3 L387.6,235 L388.2,235 L388.2,234.6 L388.8,234.6 L388.8,234 L389.4,234 L389.4,233.6 L390,233.6 L390,233.2 L390.6,233.2 L390.6,234 L391.2,234 L391.2,234.6 L391.8,234.6 L391.8,235.1 L392.4,235.1 L392.4,235.2 L393,235.2 L393,235 L393.6,235 L393.6,235.2 L394.2,235.2 L394.2,235 L394.8,235 L394.8,235.1 L395.4,235.1 L395.4,235 L396,235 L396,235.3 L396.6,235.3 L396.6,236 L397.2,236 L397.2,236.3 L397.8,236.3 L397.8,236.7 L398.4,236.7 L398.4,236.4 L399,236.4 L399,236.3 L399.6,236.3 L399.6,236.2 L400.2,236.2 L400.2,236.2 L400.8,236.2 L400.8,236.2 L401,236.2" fill="none" stroke="#000" stroke-width="1.7" stroke-linejoin="round"/>
<line x1="401.2" y1="207" x2="401.2" y2="241" stroke="#000" stroke-width="1.4"/>
<polyline points="343,214 346,208 348,203 350,206 352,212 354,218 356,222 358,221 360,225 362,229 365,231 368,233" fill="none" stroke="#000" stroke-width="1.0"/>
<polyline points="352,234 356,236 360,237.5 365,238 370,237.5 380,238.5 390,238 401,238.5" fill="none" stroke="#000" stroke-width="0.9"/>
<polyline points="315.4,176 401.4,176 401.4,241" fill="none" stroke="#5a5a5a" stroke-width="1.15"/>
<line x1="315.4" y1="176" x2="315.4" y2="241.8" stroke="#000" stroke-width="1.6"/>
<line x1="314.6" y1="241" x2="401.4" y2="241" stroke="#000" stroke-width="1.6"/>
<line x1="313.6" y1="241" x2="315.4" y2="241" stroke="#222" stroke-width="0.7"/>
<line x1="313.6" y1="238.4" x2="315.4" y2="238.4" stroke="#222" stroke-width="0.7"/>
<line x1="313.6" y1="235.8" x2="315.4" y2="235.8" stroke="#222" stroke-width="0.7"/>
<line x1="313.6" y1="233.2" x2="315.4" y2="233.2" stroke="#222" stroke-width="0.7"/>
<line x1="313.6" y1="230.6" x2="315.4" y2="230.6" stroke="#222" stroke-width="0.7"/>
<line x1="313.6" y1="228" x2="315.4" y2="228" stroke="#222" stroke-width="0.7"/>
<line x1="313.6" y1="225.4" x2="315.4" y2="225.4" stroke="#222" stroke-width="0.7"/>
<line x1="313.6" y1="222.8" x2="315.4" y2="222.8" stroke="#222" stroke-width="0.7"/>
<line x1="313.6" y1="220.2" x2="315.4" y2="220.2" stroke="#222" stroke-width="0.7"/>
<line x1="313.6" y1="217.6" x2="315.4" y2="217.6" stroke="#222" stroke-width="0.7"/>
<line x1="313.6" y1="215" x2="315.4" y2="215" stroke="#222" stroke-width="0.7"/>
<line x1="313.6" y1="212.4" x2="315.4" y2="212.4" stroke="#222" stroke-width="0.7"/>
<line x1="313.6" y1="209.8" x2="315.4" y2="209.8" stroke="#222" stroke-width="0.7"/>
<line x1="313.6" y1="207.2" x2="315.4" y2="207.2" stroke="#222" stroke-width="0.7"/>
<line x1="313.6" y1="204.6" x2="315.4" y2="204.6" stroke="#222" stroke-width="0.7"/>
<line x1="313.6" y1="202" x2="315.4" y2="202" stroke="#222" stroke-width="0.7"/>
<line x1="313.6" y1="199.4" x2="315.4" y2="199.4" stroke="#222" stroke-width="0.7"/>
<line x1="313.6" y1="196.8" x2="315.4" y2="196.8" stroke="#222" stroke-width="0.7"/>
<line x1="313.6" y1="194.2" x2="315.4" y2="194.2" stroke="#222" stroke-width="0.7"/>
<line x1="313.6" y1="191.6" x2="315.4" y2="191.6" stroke="#222" stroke-width="0.7"/>
<line x1="313.6" y1="189" x2="315.4" y2="189" stroke="#222" stroke-width="0.7"/>
<line x1="313.6" y1="186.4" x2="315.4" y2="186.4" stroke="#222" stroke-width="0.7"/>
<line x1="313.6" y1="183.8" x2="315.4" y2="183.8" stroke="#222" stroke-width="0.7"/>
<line x1="313.6" y1="181.2" x2="315.4" y2="181.2" stroke="#222" stroke-width="0.7"/>
<line x1="313.6" y1="178.6" x2="315.4" y2="178.6" stroke="#222" stroke-width="0.7"/>
<line x1="313.6" y1="176" x2="315.4" y2="176" stroke="#222" stroke-width="0.7"/>
<line x1="312.4" y1="241" x2="315.4" y2="241" stroke="#000" stroke-width="0.9"/>
<text x="311.2" y="241" transform="rotate(-90 311.2 241)" font-size="5.5" text-anchor="middle" stroke="#000" stroke-width="0.12">0</text>
<line x1="312.4" y1="220.3" x2="315.4" y2="220.3" stroke="#000" stroke-width="0.9"/>
<text x="311.2" y="220.3" transform="rotate(-90 311.2 220.3)" font-size="5.5" text-anchor="middle" stroke="#000" stroke-width="0.12">5</text>
<line x1="312.4" y1="199.6" x2="315.4" y2="199.6" stroke="#000" stroke-width="0.9"/>
<text x="311.2" y="199.6" transform="rotate(-90 311.2 199.6)" font-size="5.5" text-anchor="middle" stroke="#000" stroke-width="0.12">10</text>
<line x1="312.4" y1="178.9" x2="315.4" y2="178.9" stroke="#000" stroke-width="0.9"/>
<text x="311.2" y="178.9" transform="rotate(-90 311.2 178.9)" font-size="5.5" text-anchor="middle" stroke="#000" stroke-width="0.12">15</text>
<text x="305.8" y="209.5" transform="rotate(-90 305.8 209.5)" font-size="5.5" text-anchor="middle" stroke="#000" stroke-width="0.12">Counts</text>
<line x1="315.4" y1="241" x2="315.4" y2="243.4" stroke="#222" stroke-width="0.7"/>
<line x1="321.9" y1="241" x2="321.9" y2="242.3" stroke="#222" stroke-width="0.7"/>
<line x1="325.7" y1="241" x2="325.7" y2="242.3" stroke="#222" stroke-width="0.7"/>
<line x1="328.3" y1="241" x2="328.3" y2="242.3" stroke="#222" stroke-width="0.7"/>
<line x1="330.4" y1="241" x2="330.4" y2="242.3" stroke="#222" stroke-width="0.7"/>
<line x1="332.1" y1="241" x2="332.1" y2="242.3" stroke="#222" stroke-width="0.7"/>
<line x1="333.6" y1="241" x2="333.6" y2="242.3" stroke="#222" stroke-width="0.7"/>
<line x1="334.8" y1="241" x2="334.8" y2="242.3" stroke="#222" stroke-width="0.7"/>
<line x1="335.9" y1="241" x2="335.9" y2="242.3" stroke="#222" stroke-width="0.7"/>
<line x1="336.9" y1="241" x2="336.9" y2="243.4" stroke="#222" stroke-width="0.7"/>
<line x1="343.4" y1="241" x2="343.4" y2="242.3" stroke="#222" stroke-width="0.7"/>
<line x1="347.2" y1="241" x2="347.2" y2="242.3" stroke="#222" stroke-width="0.7"/>
<line x1="349.8" y1="241" x2="349.8" y2="242.3" stroke="#222" stroke-width="0.7"/>
<line x1="351.9" y1="241" x2="351.9" y2="242.3" stroke="#222" stroke-width="0.7"/>
<line x1="353.6" y1="241" x2="353.6" y2="242.3" stroke="#222" stroke-width="0.7"/>
<line x1="355.1" y1="241" x2="355.1" y2="242.3" stroke="#222" stroke-width="0.7"/>
<line x1="356.3" y1="241" x2="356.3" y2="242.3" stroke="#222" stroke-width="0.7"/>
<line x1="357.4" y1="241" x2="357.4" y2="242.3" stroke="#222" stroke-width="0.7"/>
<line x1="358.4" y1="241" x2="358.4" y2="243.4" stroke="#222" stroke-width="0.7"/>
<line x1="364.9" y1="241" x2="364.9" y2="242.3" stroke="#222" stroke-width="0.7"/>
<line x1="368.7" y1="241" x2="368.7" y2="242.3" stroke="#222" stroke-width="0.7"/>
<line x1="371.3" y1="241" x2="371.3" y2="242.3" stroke="#222" stroke-width="0.7"/>
<line x1="373.4" y1="241" x2="373.4" y2="242.3" stroke="#222" stroke-width="0.7"/>
<line x1="375.1" y1="241" x2="375.1" y2="242.3" stroke="#222" stroke-width="0.7"/>
<line x1="376.6" y1="241" x2="376.6" y2="242.3" stroke="#222" stroke-width="0.7"/>
<line x1="377.8" y1="241" x2="377.8" y2="242.3" stroke="#222" stroke-width="0.7"/>
<line x1="378.9" y1="241" x2="378.9" y2="242.3" stroke="#222" stroke-width="0.7"/>
<line x1="379.9" y1="241" x2="379.9" y2="243.4" stroke="#222" stroke-width="0.7"/>
<line x1="386.4" y1="241" x2="386.4" y2="242.3" stroke="#222" stroke-width="0.7"/>
<line x1="390.2" y1="241" x2="390.2" y2="242.3" stroke="#222" stroke-width="0.7"/>
<line x1="392.8" y1="241" x2="392.8" y2="242.3" stroke="#222" stroke-width="0.7"/>
<line x1="394.9" y1="241" x2="394.9" y2="242.3" stroke="#222" stroke-width="0.7"/>
<line x1="396.6" y1="241" x2="396.6" y2="242.3" stroke="#222" stroke-width="0.7"/>
<line x1="398.1" y1="241" x2="398.1" y2="242.3" stroke="#222" stroke-width="0.7"/>
<line x1="399.3" y1="241" x2="399.3" y2="242.3" stroke="#222" stroke-width="0.7"/>
<line x1="400.4" y1="241" x2="400.4" y2="242.3" stroke="#222" stroke-width="0.7"/>
<text x="316" y="250.4" font-size="5.4" text-anchor="middle" stroke="#000" stroke-width="0.15">10<tspan font-size="4.4" dy="-2.6">0</tspan></text>
<text x="337.5" y="250.4" font-size="5.4" text-anchor="middle" stroke="#000" stroke-width="0.15">10<tspan font-size="4.4" dy="-2.6">1</tspan></text>
<text x="359" y="250.4" font-size="5.4" text-anchor="middle" stroke="#000" stroke-width="0.15">10<tspan font-size="4.4" dy="-2.6">2</tspan></text>
<text x="380.5" y="250.4" font-size="5.4" text-anchor="middle" stroke="#000" stroke-width="0.15">10<tspan font-size="4.4" dy="-2.6">3</tspan></text>
<text x="402" y="250.4" font-size="5.4" text-anchor="middle" stroke="#000" stroke-width="0.15">10<tspan font-size="4.4" dy="-2.6">4</tspan></text>
<path d="M430.1,243 L430.1,176.4 L430.7,176.4 L430.7,180.4 L431.3,180.4 L431.3,189 L431.9,189 L431.9,186.5 L432.5,186.5 L432.5,183.2 L433.1,183.2 L433.1,180.3 L433.7,180.3 L433.7,179 L434.3,179 L434.3,180 L434.9,180 L434.9,184.4 L435.5,184.4 L435.5,190.6 L436.1,190.6 L436.1,194.5 L436.7,194.5 L436.7,190 L437.3,190 L437.3,185.6 L437.9,185.6 L437.9,181.5 L438.5,181.5 L438.5,181.1 L439.1,181.1 L439.1,184.8 L439.7,184.8 L439.7,189 L440.3,189 L440.3,193.2 L440.9,193.2 L440.9,196.4 L441.5,196.4 L441.5,198.9 L442.1,198.9 L442.1,200.9 L442.7,200.9 L442.7,203.7 L443.3,203.7 L443.3,205.9 L443.9,205.9 L443.9,208.6 L444.5,208.6 L444.5,210.4 L445.1,210.4 L445.1,212.9 L445.7,212.9 L445.7,215.2 L446.3,215.2 L446.3,218.2 L446.9,218.2 L446.9,220.7 L447.5,220.7 L447.5,222.9 L448.1,222.9 L448.1,225.1 L448.7,225.1 L448.7,227.8 L449.3,227.8 L449.3,228.7 L449.9,228.7 L449.9,227.9 L450.5,227.9 L450.5,227 L451.1,227 L451.1,226.2 L451.7,226.2 L451.7,228.5 L452.3,228.5 L452.3,233.1 L452.9,233.1 L452.9,234.6 L453.5,234.6 L453.5,236.2 L454.1,236.2 L454.1,237.5 L454.7,237.5 L454.7,237.7 L455.3,237.7 L455.3,238.5 L455.9,238.5 L455.9,238.9 L456.5,238.9 L456.5,239.5 L457.1,239.5 L457.1,240.1 L457.7,240.1 L457.7,240.2 L458.3,240.2 L458.3,240.6 L458.9,240.6 L458.9,240.6 L459.5,240.6 L459.5,240.6 L460.1,240.6 L460.1,241 L460.7,241 L460.7,241.2 L461.3,241.2 L461.3,241.4 L461.9,241.4 L461.9,241.5 L462.5,241.5 L462.5,241.4 L463.1,241.4 L463.1,241.5 L463.7,241.5 L463.7,241.5 L464.3,241.5 L464.3,241.7 L464.9,241.7 L464.9,241.6 L465.5,241.6 L465.5,241.7 L466.1,241.7 L466.1,241.7 L466.7,241.7 L466.7,241.8 L467.3,241.8 L467.3,242.1 L467.9,242.1 L467.9,241.9 L468,241.9 L468,243 Z" fill="#000"/>
<path d="M442.3,198.5 L442.9,198.5 L442.9,192.9 L443.5,192.9 L443.5,187.8 L444.1,187.8 L444.1,185.1 L444.7,185.1 L444.7,182.7 L445.3,182.7 L445.3,181.1 L445.9,181.1 L445.9,179.1 L446.5,179.1 L446.5,179 L447.1,179 L447.1,179.9 L447.7,179.9 L447.7,181.1 L448.3,181.1 L448.3,182.6 L448.9,182.6 L448.9,185 L449.5,185 L449.5,187.4 L450.1,187.4 L450.1,190.2 L450.7,190.2 L450.7,192.9 L451.3,192.9 L451.3,196.1 L451.9,196.1 L451.9,199.2 L452.5,199.2 L452.5,202.1 L453.1,202.1 L453.1,205.3 L453.7,205.3 L453.7,208 L454.3,208 L454.3,210.9 L454.9,210.9 L454.9,213.2 L455.5,213.2 L455.5,215.3 L456.1,215.3 L456.1,217.7 L456.7,217.7 L456.7,220.3 L457.3,220.3 L457.3,223.4 L457.9,223.4 L457.9,226.1 L458.5,226.1 L458.5,229.2 L459.1,229.2 L459.1,232.4 L459.7,232.4 L459.7,234.5 L460.3,234.5 L460.3,236 L460.9,236 L460.9,237 L461.5,237 L461.5,238.1 L462.1,238.1 L462.1,238.9 L462.7,238.9 L462.7,239.6 L463.3,239.6 L463.3,240.1 L463.9,240.1 L463.9,240.6 L464.5,240.6 L464.5,240.6 L465.1,240.6 L465.1,240.8 L465.7,240.8 L465.7,240.8 L466.3,240.8 L466.3,241 L466.9,241 L466.9,241.1 L467.5,241.1 L467.5,241.2 L468.1,241.2 L468.1,241.2 L468.7,241.2 L468.7,241.3 L469.3,241.3 L469.3,241.3 L469.9,241.3 L469.9,241.3 L470.5,241.3 L470.5,241.3 L471.1,241.3 L471.1,241.3 L471.7,241.3 L471.7,241.3 L472.3,241.3 L472.3,241.5 L472.9,241.5 L472.9,241.4 L473.5,241.4 L473.5,241.5 L474.1,241.5 L474.1,241.4 L474.7,241.4 L474.7,241.5 L475.3,241.5 L475.3,241.6 L475.9,241.6 L475.9,241.6 L476.5,241.6 L476.5,241.5 L477.1,241.5 L477.1,241.5 L477.7,241.5 L477.7,241.6 L478.3,241.6 L478.3,241.6 L478.9,241.6 L478.9,241.6 L479.5,241.6 L479.5,241.6 L480.1,241.6 L480.1,241.6 L480.7,241.6 L480.7,241.7 L481.3,241.7 L481.3,241.7 L481.9,241.7 L481.9,241.6 L482.5,241.6 L482.5,241.6 L483.1,241.6 L483.1,241.6 L483.7,241.6 L483.7,241.7 L484.3,241.7 L484.3,241.7 L484.9,241.7 L484.9,241.7 L485.5,241.7 L485.5,241.8 L486.1,241.8 L486.1,241.6 L486.7,241.6 L486.7,241.8 L487.3,241.8 L487.3,241.8 L487.9,241.8 L487.9,241.8 L488.5,241.8 L488.5,241.7 L489.1,241.7 L489.1,241.7 L489.7,241.7 L489.7,241.8 L490.3,241.8 L490.3,241.8 L490.9,241.8 L490.9,241.8 L491.5,241.8 L491.5,241.8 L492.1,241.8 L492.1,241.8 L492.7,241.8 L492.7,241.7 L493.3,241.7 L493.3,241.8 L493.9,241.8 L493.9,241.8 L494.5,241.8 L494.5,241.8 L495.1,241.8 L495.1,241.8 L495.7,241.8 L495.7,241.9 L496.3,241.9 L496.3,241.8 L496.9,241.8 L496.9,241.8 L497.5,241.8 L497.5,241.9 L498.1,241.9 L498.1,241.8 L498.7,241.8 L498.7,241.8 L499.3,241.8 L499.3,241.8 L499.9,241.8 L499.9,241.9 L500.5,241.9 L500.5,241.9 L501.1,241.9 L501.1,241.9 L501.7,241.9 L501.7,241.8 L502.3,241.8 L502.3,241.9 L502.9,241.9 L502.9,241.9 L503.5,241.9 L503.5,241.9 L504.1,241.9 L504.1,241.9 L504.7,241.9 L504.7,242 L505.3,242 L505.3,242 L505.9,242 L505.9,241.9 L506.5,241.9 L506.5,241.9 L507.1,241.9 L507.1,242 L507.7,242 L507.7,241.9 L508.3,241.9 L508.3,241.9 L508.9,241.9 L508.9,241.9 L509.5,241.9 L509.5,242 L510.1,242 L510.1,242 L510.7,242 L510.7,242 L511.3,242 L511.3,242 L511.9,242 L511.9,242 L512.5,242 L512.5,242 L513.1,242 L513.1,242 L513.7,242 L513.7,242.1 L514,242.1" fill="none" stroke="#000" stroke-width="0.9" stroke-linejoin="round"/>
<rect x="430" y="174.4" width="84.4" height="68.6" fill="none" stroke="#111" stroke-width="1.1"/>
<line x1="428.5" y1="243" x2="430" y2="243" stroke="#000" stroke-width="0.6"/>
<text x="428.2" y="244.4" font-size="4.2" text-anchor="end" stroke="#000" stroke-width="0.1">0</text>
<line x1="428.5" y1="229.3" x2="430" y2="229.3" stroke="#000" stroke-width="0.6"/>
<text x="428.2" y="230.7" font-size="4.2" text-anchor="end" stroke="#000" stroke-width="0.1">20</text>
<line x1="428.5" y1="215.6" x2="430" y2="215.6" stroke="#000" stroke-width="0.6"/>
<text x="428.2" y="217" font-size="4.2" text-anchor="end" stroke="#000" stroke-width="0.1">40</text>
<line x1="428.5" y1="201.8" x2="430" y2="201.8" stroke="#000" stroke-width="0.6"/>
<text x="428.2" y="203.2" font-size="4.2" text-anchor="end" stroke="#000" stroke-width="0.1">60</text>
<line x1="428.5" y1="188.1" x2="430" y2="188.1" stroke="#000" stroke-width="0.6"/>
<text x="428.2" y="189.5" font-size="4.2" text-anchor="end" stroke="#000" stroke-width="0.1">80</text>
<line x1="428.5" y1="174.4" x2="430" y2="174.4" stroke="#000" stroke-width="0.6"/>
<text x="428.2" y="175.8" font-size="4.2" text-anchor="end" stroke="#000" stroke-width="0.1">100</text>
<text x="419.8" y="209.7" transform="rotate(-90 419.8 209.7)" font-size="6" text-anchor="middle" stroke="#000" stroke-width="0.15">Counts</text>
<line x1="430" y1="243" x2="430" y2="244.5" stroke="#000" stroke-width="0.6"/>
<text x="430.5" y="248.6" font-size="4" text-anchor="middle" stroke="#000" stroke-width="0.1">10<tspan font-size="3" dy="-1.4">0</tspan></text>
<line x1="451.1" y1="243" x2="451.1" y2="244.5" stroke="#000" stroke-width="0.6"/>
<text x="451.6" y="248.6" font-size="4" text-anchor="middle" stroke="#000" stroke-width="0.1">10<tspan font-size="3" dy="-1.4">1</tspan></text>
<line x1="472.2" y1="243" x2="472.2" y2="244.5" stroke="#000" stroke-width="0.6"/>
<text x="472.7" y="248.6" font-size="4" text-anchor="middle" stroke="#000" stroke-width="0.1">10<tspan font-size="3" dy="-1.4">2</tspan></text>
<line x1="493.3" y1="243" x2="493.3" y2="244.5" stroke="#000" stroke-width="0.6"/>
<text x="493.8" y="248.6" font-size="4" text-anchor="middle" stroke="#000" stroke-width="0.1">10<tspan font-size="3" dy="-1.4">3</tspan></text>
<line x1="514.4" y1="243" x2="514.4" y2="244.5" stroke="#000" stroke-width="0.6"/>
<text x="514.9" y="248.6" font-size="4" text-anchor="middle" stroke="#000" stroke-width="0.1">10<tspan font-size="3" dy="-1.4">4</tspan></text>
<path d="M83.5,319.6 L83.5,314.8 L84.1,314.8 L84.1,314.4 L84.7,314.4 L84.7,314.5 L85.3,314.5 L85.3,314.4 L85.9,314.4 L85.9,313.7 L86.5,313.7 L86.5,313.8 L87.1,313.8 L87.1,312.9 L87.7,312.9 L87.7,312.2 L88.3,312.2 L88.3,310.9 L88.9,310.9 L88.9,310 L89.5,310 L89.5,310 L90.1,310 L90.1,308.7 L90.7,308.7 L90.7,307.1 L91.3,307.1 L91.3,306 L91.9,306 L91.9,304.5 L92.5,304.5 L92.5,303.9 L93.1,303.9 L93.1,302.3 L93.7,302.3 L93.7,301.5 L94.3,301.5 L94.3,299.5 L94.9,299.5 L94.9,297.4 L95.5,297.4 L95.5,294.1 L96.1,294.1 L96.1,289.8 L96.7,289.8 L96.7,285.4 L97.3,285.4 L97.3,281.2 L97.9,281.2 L97.9,277.1 L98.5,277.1 L98.5,272.9 L99.1,272.9 L99.1,269.2 L99.7,269.2 L99.7,266.6 L100.3,266.6 L100.3,264.2 L100.9,264.2 L100.9,263.2 L101.5,263.2 L101.5,263.1 L102.1,263.1 L102.1,264.3 L102.7,264.3 L102.7,264.4 L103.3,264.4 L103.3,269.3 L103.9,269.3 L103.9,275.3 L104.5,275.3 L104.5,280.3 L105.1,280.3 L105.1,285.4 L105.7,285.4 L105.7,288.6 L106.3,288.6 L106.3,292.6 L106.9,292.6 L106.9,296.4 L107.5,296.4 L107.5,299.1 L108.1,299.1 L108.1,301 L108.7,301 L108.7,303.2 L109.3,303.2 L109.3,305.7 L109.9,305.7 L109.9,307.2 L110.5,307.2 L110.5,309.3 L111.1,309.3 L111.1,310.4 L111.7,310.4 L111.7,310.9 L112.3,310.9 L112.3,312 L112.9,312 L112.9,313 L113.5,313 L113.5,313.9 L114.1,313.9 L114.1,315 L114.7,315 L114.7,315.5 L115.3,315.5 L115.3,315.9 L115.9,315.9 L115.9,315.8 L116.5,315.8 L116.5,316.5 L117.1,316.5 L117.1,316.6 L117.7,316.6 L117.7,316.6 L118.3,316.6 L118.3,316.9 L118.9,316.9 L118.9,316.5 L119.5,316.5 L119.5,316.7 L120.1,316.7 L120.1,317.1 L120.7,317.1 L120.7,317.3 L121.3,317.3 L121.3,317.3 L121.9,317.3 L121.9,317.2 L122.5,317.2 L122.5,317.5 L123.1,317.5 L123.1,317.7 L123.7,317.7 L123.7,317.5 L124.3,317.5 L124.3,317.7 L124.9,317.7 L124.9,317.8 L125.5,317.8 L125.5,317.9 L126,317.9 L126,319.6 Z" fill="#000"/>
<path d="M108.8,302.2 L109.4,302.2 L109.4,296.5 L110,296.5 L110,293.1 L110.6,293.1 L110.6,290.7 L111.2,290.7 L111.2,289.4 L111.8,289.4 L111.8,288.3 L112.4,288.3 L112.4,287.9 L113,287.9 L113,285.3 L113.6,285.3 L113.6,281.8 L114.2,281.8 L114.2,278.4 L114.8,278.4 L114.8,282.3 L115.4,282.3 L115.4,286 L116,286 L116,288.5 L116.6,288.5 L116.6,287.3 L117.2,287.3 L117.2,282.1 L117.8,282.1 L117.8,280.5 L118.4,280.5 L118.4,279.9 L119,279.9 L119,281.2 L119.6,281.2 L119.6,283.8 L120.2,283.8 L120.2,288.9 L120.8,288.9 L120.8,292 L121.4,292 L121.4,293.8 L122,293.8 L122,295.7 L122.6,295.7 L122.6,296.6 L123.2,296.6 L123.2,297.8 L123.8,297.8 L123.8,298.7 L124.4,298.7 L124.4,300 L125,300 L125,301.6 L125.6,301.6 L125.6,303.8 L126.2,303.8 L126.2,305.1 L126.8,305.1 L126.8,306.1 L127.4,306.1 L127.4,307.8 L128,307.8 L128,308.6 L128.6,308.6 L128.6,309.9 L129.2,309.9 L129.2,310.8 L129.8,310.8 L129.8,311.7 L130.4,311.7 L130.4,312.7 L131,312.7 L131,313.3 L131.6,313.3 L131.6,313.9 L132.2,313.9 L132.2,314.6 L132.8,314.6 L132.8,315.2 L133.4,315.2 L133.4,316 L134,316 L134,316.2 L134.6,316.2 L134.6,316.6 L135.2,316.6 L135.2,316.5 L135.8,316.5 L135.8,316.9 L136.4,316.9 L136.4,317 L137,317 L137,316.9 L137.6,316.9 L137.6,317.1 L138.2,317.1 L138.2,317.1 L138.8,317.1 L138.8,317.2 L139.4,317.2 L139.4,317.2 L140,317.2 L140,317.4 L140.6,317.4 L140.6,317.6 L141.2,317.6 L141.2,317.7 L141.8,317.7 L141.8,317.8 L142.4,317.8 L142.4,317.6 L143,317.6 L143,317.7 L143.6,317.7 L143.6,317.9 L144.2,317.9 L144.2,317.7 L144.8,317.7 L144.8,317.9 L145.4,317.9 L145.4,317.8 L146,317.8 L146,318 L146.6,318 L146.6,317.8 L147.2,317.8 L147.2,318 L147.8,318 L147.8,317.9 L148.4,317.9 L148.4,317.9 L149,317.9 L149,317.9 L149.6,317.9 L149.6,318.2 L150.2,318.2 L150.2,318.1 L150.8,318.1 L150.8,318.1 L151.4,318.1 L151.4,318.2 L152,318.2 L152,318.3 L152.6,318.3 L152.6,318.2 L153.2,318.2 L153.2,318.3 L153.8,318.3 L153.8,318.2 L154.4,318.2 L154.4,318.2 L155,318.2 L155,318.4 L155.6,318.4 L155.6,318.4 L156.2,318.4 L156.2,318.3 L156.8,318.3 L156.8,318.3 L157.4,318.3 L157.4,318.3 L158,318.3 L158,318.5 L158.6,318.5 L158.6,318.5 L159.2,318.5 L159.2,318.5 L159.8,318.5 L159.8,318.5 L160.4,318.5 L160.4,318.6 L161,318.6 L161,318.7 L161.6,318.7 L161.6,318.6 L162.2,318.6 L162.2,318.7 L162.8,318.7 L162.8,318.7 L163.4,318.7 L163.4,318.8 L164,318.8 L164,318.8 L164.6,318.8 L164.6,318.8 L165.2,318.8 L165.2,318.9 L165.8,318.9 L165.8,318.9 L166.4,318.9 L166.4,319 L167,319" fill="none" stroke="#000" stroke-width="1.7" stroke-linejoin="round"/>
<polyline points="83.4,256.6 167,256.6 167,319.6" fill="none" stroke="#5a5a5a" stroke-width="1.15"/>
<line x1="83.4" y1="256.6" x2="83.4" y2="320.4" stroke="#000" stroke-width="1.6"/>
<line x1="82.6" y1="319.6" x2="167" y2="319.6" stroke="#000" stroke-width="1.6"/>
<line x1="81.6" y1="319.6" x2="83.4" y2="319.6" stroke="#222" stroke-width="0.7"/>
<line x1="81.6" y1="317.1" x2="83.4" y2="317.1" stroke="#222" stroke-width="0.7"/>
<line x1="81.6" y1="314.6" x2="83.4" y2="314.6" stroke="#222" stroke-width="0.7"/>
<line x1="81.6" y1="312" x2="83.4" y2="312" stroke="#222" stroke-width="0.7"/>
<line x1="81.6" y1="309.5" x2="83.4" y2="309.5" stroke="#222" stroke-width="0.7"/>
<line x1="81.6" y1="307" x2="83.4" y2="307" stroke="#222" stroke-width="0.7"/>
<line x1="81.6" y1="304.5" x2="83.4" y2="304.5" stroke="#222" stroke-width="0.7"/>
<line x1="81.6" y1="302" x2="83.4" y2="302" stroke="#222" stroke-width="0.7"/>
<line x1="81.6" y1="299.4" x2="83.4" y2="299.4" stroke="#222" stroke-width="0.7"/>
<line x1="81.6" y1="296.9" x2="83.4" y2="296.9" stroke="#222" stroke-width="0.7"/>
<line x1="81.6" y1="294.4" x2="83.4" y2="294.4" stroke="#222" stroke-width="0.7"/>
<line x1="81.6" y1="291.9" x2="83.4" y2="291.9" stroke="#222" stroke-width="0.7"/>
<line x1="81.6" y1="289.4" x2="83.4" y2="289.4" stroke="#222" stroke-width="0.7"/>
<line x1="81.6" y1="286.8" x2="83.4" y2="286.8" stroke="#222" stroke-width="0.7"/>
<line x1="81.6" y1="284.3" x2="83.4" y2="284.3" stroke="#222" stroke-width="0.7"/>
<line x1="81.6" y1="281.8" x2="83.4" y2="281.8" stroke="#222" stroke-width="0.7"/>
<line x1="81.6" y1="279.3" x2="83.4" y2="279.3" stroke="#222" stroke-width="0.7"/>
<line x1="81.6" y1="276.8" x2="83.4" y2="276.8" stroke="#222" stroke-width="0.7"/>
<line x1="81.6" y1="274.2" x2="83.4" y2="274.2" stroke="#222" stroke-width="0.7"/>
<line x1="81.6" y1="271.7" x2="83.4" y2="271.7" stroke="#222" stroke-width="0.7"/>
<line x1="81.6" y1="269.2" x2="83.4" y2="269.2" stroke="#222" stroke-width="0.7"/>
<line x1="81.6" y1="266.7" x2="83.4" y2="266.7" stroke="#222" stroke-width="0.7"/>
<line x1="81.6" y1="264.2" x2="83.4" y2="264.2" stroke="#222" stroke-width="0.7"/>
<line x1="81.6" y1="261.6" x2="83.4" y2="261.6" stroke="#222" stroke-width="0.7"/>
<line x1="81.6" y1="259.1" x2="83.4" y2="259.1" stroke="#222" stroke-width="0.7"/>
<line x1="81.6" y1="256.6" x2="83.4" y2="256.6" stroke="#222" stroke-width="0.7"/>
<line x1="80.4" y1="319.6" x2="83.4" y2="319.6" stroke="#000" stroke-width="0.9"/>
<text x="79.2" y="319.6" transform="rotate(-90 79.2 319.6)" font-size="5.5" text-anchor="middle" stroke="#000" stroke-width="0.12">0</text>
<line x1="80.4" y1="307" x2="83.4" y2="307" stroke="#000" stroke-width="0.9"/>
<text x="79.2" y="307" transform="rotate(-90 79.2 307)" font-size="5.5" text-anchor="middle" stroke="#000" stroke-width="0.12">5</text>
<line x1="80.4" y1="294.4" x2="83.4" y2="294.4" stroke="#000" stroke-width="0.9"/>
<text x="79.2" y="294.4" transform="rotate(-90 79.2 294.4)" font-size="5.5" text-anchor="middle" stroke="#000" stroke-width="0.12">10</text>
<line x1="80.4" y1="281.8" x2="83.4" y2="281.8" stroke="#000" stroke-width="0.9"/>
<text x="79.2" y="281.8" transform="rotate(-90 79.2 281.8)" font-size="5.5" text-anchor="middle" stroke="#000" stroke-width="0.12">15</text>
<line x1="80.4" y1="269.2" x2="83.4" y2="269.2" stroke="#000" stroke-width="0.9"/>
<text x="79.2" y="269.2" transform="rotate(-90 79.2 269.2)" font-size="5.5" text-anchor="middle" stroke="#000" stroke-width="0.12">20</text>
<line x1="80.4" y1="256.6" x2="83.4" y2="256.6" stroke="#000" stroke-width="0.9"/>
<text x="79.2" y="256.6" transform="rotate(-90 79.2 256.6)" font-size="5.5" text-anchor="middle" stroke="#000" stroke-width="0.12">25</text>
<text x="73.8" y="289.1" transform="rotate(-90 73.8 289.1)" font-size="5.5" text-anchor="middle" stroke="#000" stroke-width="0.12">Counts</text>
<line x1="83.4" y1="319.6" x2="83.4" y2="322" stroke="#222" stroke-width="0.7"/>
<line x1="89.7" y1="319.6" x2="89.7" y2="320.9" stroke="#222" stroke-width="0.7"/>
<line x1="93.4" y1="319.6" x2="93.4" y2="320.9" stroke="#222" stroke-width="0.7"/>
<line x1="96" y1="319.6" x2="96" y2="320.9" stroke="#222" stroke-width="0.7"/>
<line x1="98" y1="319.6" x2="98" y2="320.9" stroke="#222" stroke-width="0.7"/>
<line x1="99.7" y1="319.6" x2="99.7" y2="320.9" stroke="#222" stroke-width="0.7"/>
<line x1="101.1" y1="319.6" x2="101.1" y2="320.9" stroke="#222" stroke-width="0.7"/>
<line x1="102.3" y1="319.6" x2="102.3" y2="320.9" stroke="#222" stroke-width="0.7"/>
<line x1="103.3" y1="319.6" x2="103.3" y2="320.9" stroke="#222" stroke-width="0.7"/>
<line x1="104.3" y1="319.6" x2="104.3" y2="322" stroke="#222" stroke-width="0.7"/>
<line x1="110.6" y1="319.6" x2="110.6" y2="320.9" stroke="#222" stroke-width="0.7"/>
<line x1="114.3" y1="319.6" x2="114.3" y2="320.9" stroke="#222" stroke-width="0.7"/>
<line x1="116.9" y1="319.6" x2="116.9" y2="320.9" stroke="#222" stroke-width="0.7"/>
<line x1="118.9" y1="319.6" x2="118.9" y2="320.9" stroke="#222" stroke-width="0.7"/>
<line x1="120.6" y1="319.6" x2="120.6" y2="320.9" stroke="#222" stroke-width="0.7"/>
<line x1="122" y1="319.6" x2="122" y2="320.9" stroke="#222" stroke-width="0.7"/>
<line x1="123.2" y1="319.6" x2="123.2" y2="320.9" stroke="#222" stroke-width="0.7"/>
<line x1="124.2" y1="319.6" x2="124.2" y2="320.9" stroke="#222" stroke-width="0.7"/>
<line x1="125.2" y1="319.6" x2="125.2" y2="322" stroke="#222" stroke-width="0.7"/>
<line x1="131.5" y1="319.6" x2="131.5" y2="320.9" stroke="#222" stroke-width="0.7"/>
<line x1="135.2" y1="319.6" x2="135.2" y2="320.9" stroke="#222" stroke-width="0.7"/>
<line x1="137.8" y1="319.6" x2="137.8" y2="320.9" stroke="#222" stroke-width="0.7"/>
<line x1="139.8" y1="319.6" x2="139.8" y2="320.9" stroke="#222" stroke-width="0.7"/>
<line x1="141.5" y1="319.6" x2="141.5" y2="320.9" stroke="#222" stroke-width="0.7"/>
<line x1="142.9" y1="319.6" x2="142.9" y2="320.9" stroke="#222" stroke-width="0.7"/>
<line x1="144.1" y1="319.6" x2="144.1" y2="320.9" stroke="#222" stroke-width="0.7"/>
<line x1="145.1" y1="319.6" x2="145.1" y2="320.9" stroke="#222" stroke-width="0.7"/>
<line x1="146.1" y1="319.6" x2="146.1" y2="322" stroke="#222" stroke-width="0.7"/>
<line x1="152.4" y1="319.6" x2="152.4" y2="320.9" stroke="#222" stroke-width="0.7"/>
<line x1="156.1" y1="319.6" x2="156.1" y2="320.9" stroke="#222" stroke-width="0.7"/>
<line x1="158.7" y1="319.6" x2="158.7" y2="320.9" stroke="#222" stroke-width="0.7"/>
<line x1="160.7" y1="319.6" x2="160.7" y2="320.9" stroke="#222" stroke-width="0.7"/>
<line x1="162.4" y1="319.6" x2="162.4" y2="320.9" stroke="#222" stroke-width="0.7"/>
<line x1="163.8" y1="319.6" x2="163.8" y2="320.9" stroke="#222" stroke-width="0.7"/>
<line x1="165" y1="319.6" x2="165" y2="320.9" stroke="#222" stroke-width="0.7"/>
<line x1="166" y1="319.6" x2="166" y2="320.9" stroke="#222" stroke-width="0.7"/>
<text x="84" y="329" font-size="5.4" text-anchor="middle" stroke="#000" stroke-width="0.15">10<tspan font-size="4.4" dy="-2.6">0</tspan></text>
<text x="104.9" y="329" font-size="5.4" text-anchor="middle" stroke="#000" stroke-width="0.15">10<tspan font-size="4.4" dy="-2.6">1</tspan></text>
<text x="125.8" y="329" font-size="5.4" text-anchor="middle" stroke="#000" stroke-width="0.15">10<tspan font-size="4.4" dy="-2.6">2</tspan></text>
<text x="146.7" y="329" font-size="5.4" text-anchor="middle" stroke="#000" stroke-width="0.15">10<tspan font-size="4.4" dy="-2.6">3</tspan></text>
<text x="167.6" y="329" font-size="5.4" text-anchor="middle" stroke="#000" stroke-width="0.15">10<tspan font-size="4.4" dy="-2.6">4</tspan></text>
<path d="M197,320 L197,297.5 L197.6,297.5 L197.6,310.2 L198.2,310.2 L198.2,310.8 L198.8,310.8 L198.8,309.3 L199.4,309.3 L199.4,309.2 L200,309.2 L200,307.4 L200.6,307.4 L200.6,309 L201.2,309 L201.2,309.3 L201.8,309.3 L201.8,311.7 L202.4,311.7 L202.4,310.7 L203,310.7 L203,311.2 L203.6,311.2 L203.6,310.9 L204.2,310.9 L204.2,309.5 L204.8,309.5 L204.8,307.7 L205.4,307.7 L205.4,308.3 L206,308.3 L206,306.6 L206.6,306.6 L206.6,305.4 L207.2,305.4 L207.2,301.9 L207.8,301.9 L207.8,298.2 L208.4,298.2 L208.4,295.7 L209,295.7 L209,291.3 L209.6,291.3 L209.6,286.6 L210.2,286.6 L210.2,282.1 L210.8,282.1 L210.8,276.3 L211.4,276.3 L211.4,269.2 L212,269.2 L212,268.8 L212.6,268.8 L212.6,268.3 L213.2,268.3 L213.2,269.9 L213.8,269.9 L213.8,270.6 L214.4,270.6 L214.4,271 L215,271 L215,270.2 L215.6,270.2 L215.6,269 L216.2,269 L216.2,266.9 L216.8,266.9 L216.8,267.1 L217.4,267.1 L217.4,267.2 L218,267.2 L218,271 L218.6,271 L218.6,273 L219.2,273 L219.2,279 L219.8,279 L219.8,283.8 L220.4,283.8 L220.4,286.9 L221,286.9 L221,290 L221.6,290 L221.6,292.2 L222.2,292.2 L222.2,294.4 L222.8,294.4 L222.8,295.5 L223.4,295.5 L223.4,299.1 L224,299.1 L224,300.6 L224.6,300.6 L224.6,304.2 L225.2,304.2 L225.2,305 L225.8,305 L225.8,305.6 L226.4,305.6 L226.4,307.5 L227,307.5 L227,308.2 L227.6,308.2 L227.6,310.3 L228.2,310.3 L228.2,313.1 L228.8,313.1 L228.8,312.9 L229.4,312.9 L229.4,313.1 L230,313.1 L230,314.2 L230.6,314.2 L230.6,314.5 L231.2,314.5 L231.2,314.9 L231.8,314.9 L231.8,315.5 L232.4,315.5 L232.4,315.2 L233,315.2 L233,316.3 L233.6,316.3 L233.6,316.4 L234.2,316.4 L234.2,316.2 L234.8,316.2 L234.8,316.6 L235.4,316.6 L235.4,317 L236,317 L236,317.1 L236.6,317.1 L236.6,317 L237.2,317 L237.2,317 L237.8,317 L237.8,317.3 L238.4,317.3 L238.4,317.2 L239,317.2 L239,317.6 L239.6,317.6 L239.6,317.9 L240.2,317.9 L240.2,317.4 L240.8,317.4 L240.8,317.8 L241.4,317.8 L241.4,318 L242,318 L242,317.6 L242.6,317.6 L242.6,318.1 L243.2,318.1 L243.2,318.2 L243.8,318.2 L243.8,317.9 L244.4,317.9 L244.4,318 L245,318 L245,318.3 L245.6,318.3 L245.6,318.1 L246.2,318.1 L246.2,318.1 L246.8,318.1 L246.8,318.5 L247.4,318.5 L247.4,318.4 L248,318.4 L248,318.2 L248.6,318.2 L248.6,318.2 L249.2,318.2 L249.2,318.3 L249.8,318.3 L249.8,318.4 L250.4,318.4 L250.4,318.8 L251,318.8 L251,318.7 L251.6,318.7 L251.6,318.9 L252.2,318.9 L252.2,318.8 L252.8,318.8 L252.8,318.7 L253.4,318.7 L253.4,318.2 L254,318.2 L254,318.4 L254.6,318.4 L254.6,318.7 L255.2,318.7 L255.2,318.6 L255.8,318.6 L255.8,318.1 L256.4,318.1 L256.4,318.2 L257,318.2 L257,318.3 L257.6,318.3 L257.6,318 L258.2,318 L258.2,318.3 L258.8,318.3 L258.8,318.3 L259.4,318.3 L259.4,318.7 L260,318.7 L260,319 L260.6,319 L260.6,319.1 L261.2,319.1 L261.2,319.3 L261.8,319.3 L261.8,319.5 L262,319.5 L262,320 Z" fill="#000"/>
<path d="M204,309.8 L204.6,309.8 L204.6,305.9 L205.2,305.9 L205.2,302.5 L205.8,302.5 L205.8,298.2 L206.4,298.2 L206.4,294 L207,294 L207,289.1 L207.6,289.1 L207.6,284.7 L208.2,284.7 L208.2,280.2 L208.8,280.2 L208.8,276 L209.4,276 L209.4,272.3 L210,272.3 L210,270.8 L210.6,270.8 L210.6,269.6 L211.2,269.6 L211.2,270.1 L211.8,270.1 L211.8,269.9 L212,269.9" fill="none" stroke="#000" stroke-width="1.7" stroke-linejoin="round"/>
<line x1="197.6" y1="285" x2="197.6" y2="320" stroke="#000" stroke-width="1.4"/>
<polyline points="197,257.4 283,257.4 283,320" fill="none" stroke="#5a5a5a" stroke-width="1.15"/>
<line x1="197" y1="257.4" x2="197" y2="320.8" stroke="#000" stroke-width="1.6"/>
<line x1="196.2" y1="320" x2="283" y2="320" stroke="#000" stroke-width="1.6"/>
<line x1="195.2" y1="320" x2="197" y2="320" stroke="#222" stroke-width="0.7"/>
<line x1="195.2" y1="317.5" x2="197" y2="317.5" stroke="#222" stroke-width="0.7"/>
<line x1="195.2" y1="315" x2="197" y2="315" stroke="#222" stroke-width="0.7"/>
<line x1="195.2" y1="312.5" x2="197" y2="312.5" stroke="#222" stroke-width="0.7"/>
<line x1="195.2" y1="310" x2="197" y2="310" stroke="#222" stroke-width="0.7"/>
<line x1="195.2" y1="307.5" x2="197" y2="307.5" stroke="#222" stroke-width="0.7"/>
<line x1="195.2" y1="305" x2="197" y2="305" stroke="#222" stroke-width="0.7"/>
<line x1="195.2" y1="302.5" x2="197" y2="302.5" stroke="#222" stroke-width="0.7"/>
<line x1="195.2" y1="300" x2="197" y2="300" stroke="#222" stroke-width="0.7"/>
<line x1="195.2" y1="297.5" x2="197" y2="297.5" stroke="#222" stroke-width="0.7"/>
<line x1="195.2" y1="295" x2="197" y2="295" stroke="#222" stroke-width="0.7"/>
<line x1="195.2" y1="292.5" x2="197" y2="292.5" stroke="#222" stroke-width="0.7"/>
<line x1="195.2" y1="290" x2="197" y2="290" stroke="#222" stroke-width="0.7"/>
<line x1="195.2" y1="287.4" x2="197" y2="287.4" stroke="#222" stroke-width="0.7"/>
<line x1="195.2" y1="284.9" x2="197" y2="284.9" stroke="#222" stroke-width="0.7"/>
<line x1="195.2" y1="282.4" x2="197" y2="282.4" stroke="#222" stroke-width="0.7"/>
<line x1="195.2" y1="279.9" x2="197" y2="279.9" stroke="#222" stroke-width="0.7"/>
<line x1="195.2" y1="277.4" x2="197" y2="277.4" stroke="#222" stroke-width="0.7"/>
<line x1="195.2" y1="274.9" x2="197" y2="274.9" stroke="#222" stroke-width="0.7"/>
<line x1="195.2" y1="272.4" x2="197" y2="272.4" stroke="#222" stroke-width="0.7"/>
<line x1="195.2" y1="269.9" x2="197" y2="269.9" stroke="#222" stroke-width="0.7"/>
<line x1="195.2" y1="267.4" x2="197" y2="267.4" stroke="#222" stroke-width="0.7"/>
<line x1="195.2" y1="264.9" x2="197" y2="264.9" stroke="#222" stroke-width="0.7"/>
<line x1="195.2" y1="262.4" x2="197" y2="262.4" stroke="#222" stroke-width="0.7"/>
<line x1="195.2" y1="259.9" x2="197" y2="259.9" stroke="#222" stroke-width="0.7"/>
<line x1="195.2" y1="257.4" x2="197" y2="257.4" stroke="#222" stroke-width="0.7"/>
<line x1="194" y1="320" x2="197" y2="320" stroke="#000" stroke-width="0.9"/>
<text x="192.8" y="320" transform="rotate(-90 192.8 320)" font-size="5.5" text-anchor="middle" stroke="#000" stroke-width="0.12">0</text>
<line x1="194" y1="309.6" x2="197" y2="309.6" stroke="#000" stroke-width="0.9"/>
<text x="192.8" y="309.6" transform="rotate(-90 192.8 309.6)" font-size="5.5" text-anchor="middle" stroke="#000" stroke-width="0.12">5</text>
<line x1="194" y1="299.1" x2="197" y2="299.1" stroke="#000" stroke-width="0.9"/>
<text x="192.8" y="299.1" transform="rotate(-90 192.8 299.1)" font-size="5.5" text-anchor="middle" stroke="#000" stroke-width="0.12">10</text>
<line x1="194" y1="288.7" x2="197" y2="288.7" stroke="#000" stroke-width="0.9"/>
<text x="192.8" y="288.7" transform="rotate(-90 192.8 288.7)" font-size="5.5" text-anchor="middle" stroke="#000" stroke-width="0.12">15</text>
<line x1="194" y1="278.3" x2="197" y2="278.3" stroke="#000" stroke-width="0.9"/>
<text x="192.8" y="278.3" transform="rotate(-90 192.8 278.3)" font-size="5.5" text-anchor="middle" stroke="#000" stroke-width="0.12">20</text>
<line x1="194" y1="267.8" x2="197" y2="267.8" stroke="#000" stroke-width="0.9"/>
<text x="192.8" y="267.8" transform="rotate(-90 192.8 267.8)" font-size="5.5" text-anchor="middle" stroke="#000" stroke-width="0.12">25</text>
<line x1="194" y1="257.4" x2="197" y2="257.4" stroke="#000" stroke-width="0.9"/>
<text x="192.8" y="257.4" transform="rotate(-90 192.8 257.4)" font-size="5.5" text-anchor="middle" stroke="#000" stroke-width="0.12">30</text>
<text x="187.4" y="289.7" transform="rotate(-90 187.4 289.7)" font-size="5.5" text-anchor="middle" stroke="#000" stroke-width="0.12">Counts</text>
<line x1="197" y1="320" x2="197" y2="322.4" stroke="#222" stroke-width="0.7"/>
<line x1="203.5" y1="320" x2="203.5" y2="321.3" stroke="#222" stroke-width="0.7"/>
<line x1="207.3" y1="320" x2="207.3" y2="321.3" stroke="#222" stroke-width="0.7"/>
<line x1="209.9" y1="320" x2="209.9" y2="321.3" stroke="#222" stroke-width="0.7"/>
<line x1="212" y1="320" x2="212" y2="321.3" stroke="#222" stroke-width="0.7"/>
<line x1="213.7" y1="320" x2="213.7" y2="321.3" stroke="#222" stroke-width="0.7"/>
<line x1="215.2" y1="320" x2="215.2" y2="321.3" stroke="#222" stroke-width="0.7"/>
<line x1="216.4" y1="320" x2="216.4" y2="321.3" stroke="#222" stroke-width="0.7"/>
<line x1="217.5" y1="320" x2="217.5" y2="321.3" stroke="#222" stroke-width="0.7"/>
<line x1="218.5" y1="320" x2="218.5" y2="322.4" stroke="#222" stroke-width="0.7"/>
<line x1="225" y1="320" x2="225" y2="321.3" stroke="#222" stroke-width="0.7"/>
<line x1="228.8" y1="320" x2="228.8" y2="321.3" stroke="#222" stroke-width="0.7"/>
<line x1="231.4" y1="320" x2="231.4" y2="321.3" stroke="#222" stroke-width="0.7"/>
<line x1="233.5" y1="320" x2="233.5" y2="321.3" stroke="#222" stroke-width="0.7"/>
<line x1="235.2" y1="320" x2="235.2" y2="321.3" stroke="#222" stroke-width="0.7"/>
<line x1="236.7" y1="320" x2="236.7" y2="321.3" stroke="#222" stroke-width="0.7"/>
<line x1="237.9" y1="320" x2="237.9" y2="321.3" stroke="#222" stroke-width="0.7"/>
<line x1="239" y1="320" x2="239" y2="321.3" stroke="#222" stroke-width="0.7"/>
<line x1="240" y1="320" x2="240" y2="322.4" stroke="#222" stroke-width="0.7"/>
<line x1="246.5" y1="320" x2="246.5" y2="321.3" stroke="#222" stroke-width="0.7"/>
<line x1="250.3" y1="320" x2="250.3" y2="321.3" stroke="#222" stroke-width="0.7"/>
<line x1="252.9" y1="320" x2="252.9" y2="321.3" stroke="#222" stroke-width="0.7"/>
<line x1="255" y1="320" x2="255" y2="321.3" stroke="#222" stroke-width="0.7"/>
<line x1="256.7" y1="320" x2="256.7" y2="321.3" stroke="#222" stroke-width="0.7"/>
<line x1="258.2" y1="320" x2="258.2" y2="321.3" stroke="#222" stroke-width="0.7"/>
<line x1="259.4" y1="320" x2="259.4" y2="321.3" stroke="#222" stroke-width="0.7"/>
<line x1="260.5" y1="320" x2="260.5" y2="321.3" stroke="#222" stroke-width="0.7"/>
<line x1="261.5" y1="320" x2="261.5" y2="322.4" stroke="#222" stroke-width="0.7"/>
<line x1="268" y1="320" x2="268" y2="321.3" stroke="#222" stroke-width="0.7"/>
<line x1="271.8" y1="320" x2="271.8" y2="321.3" stroke="#222" stroke-width="0.7"/>
<line x1="274.4" y1="320" x2="274.4" y2="321.3" stroke="#222" stroke-width="0.7"/>
<line x1="276.5" y1="320" x2="276.5" y2="321.3" stroke="#222" stroke-width="0.7"/>
<line x1="278.2" y1="320" x2="278.2" y2="321.3" stroke="#222" stroke-width="0.7"/>
<line x1="279.7" y1="320" x2="279.7" y2="321.3" stroke="#222" stroke-width="0.7"/>
<line x1="280.9" y1="320" x2="280.9" y2="321.3" stroke="#222" stroke-width="0.7"/>
<line x1="282" y1="320" x2="282" y2="321.3" stroke="#222" stroke-width="0.7"/>
<text x="197.6" y="329.4" font-size="5.4" text-anchor="middle" stroke="#000" stroke-width="0.15">10<tspan font-size="4.4" dy="-2.6">0</tspan></text>
<text x="219.1" y="329.4" font-size="5.4" text-anchor="middle" stroke="#000" stroke-width="0.15">10<tspan font-size="4.4" dy="-2.6">1</tspan></text>
<text x="240.6" y="329.4" font-size="5.4" text-anchor="middle" stroke="#000" stroke-width="0.15">10<tspan font-size="4.4" dy="-2.6">2</tspan></text>
<text x="262.1" y="329.4" font-size="5.4" text-anchor="middle" stroke="#000" stroke-width="0.15">10<tspan font-size="4.4" dy="-2.6">3</tspan></text>
<text x="283.6" y="329.4" font-size="5.4" text-anchor="middle" stroke="#000" stroke-width="0.15">10<tspan font-size="4.4" dy="-2.6">4</tspan></text>
<path d="M314.6,320.4 L314.6,287.7 L315.2,287.7 L315.2,288.1 L315.8,288.1 L315.8,305.5 L316.4,305.5 L316.4,303.8 L317,303.8 L317,302.7 L317.6,302.7 L317.6,300.2 L318.2,300.2 L318.2,298.4 L318.8,298.4 L318.8,295.9 L319.4,295.9 L319.4,294.2 L320,294.2 L320,290 L320.6,290 L320.6,288 L321.2,288 L321.2,287.9 L321.8,287.9 L321.8,287 L322.4,287 L322.4,284.7 L323,284.7 L323,281.6 L323.6,281.6 L323.6,278 L324.2,278 L324.2,276.7 L324.8,276.7 L324.8,276.3 L325.4,276.3 L325.4,278.1 L326,278.1 L326,279.1 L326.6,279.1 L326.6,276 L327.2,276 L327.2,273.6 L327.8,273.6 L327.8,274.3 L328.4,274.3 L328.4,277.7 L329,277.7 L329,281.2 L329.6,281.2 L329.6,283.1 L330.2,283.1 L330.2,288.4 L330.8,288.4 L330.8,291.5 L331.4,291.5 L331.4,294.4 L332,294.4 L332,297.1 L332.6,297.1 L332.6,299 L333.2,299 L333.2,301.6 L333.8,301.6 L333.8,303.1 L334.4,303.1 L334.4,304.8 L335,304.8 L335,306.1 L335.6,306.1 L335.6,307.1 L336.2,307.1 L336.2,308.2 L336.8,308.2 L336.8,309.3 L337.4,309.3 L337.4,310.5 L338,310.5 L338,311.9 L338.6,311.9 L338.6,313 L339.2,313 L339.2,314 L339.8,314 L339.8,314.3 L340.4,314.3 L340.4,315.4 L341,315.4 L341,316.2 L341.6,316.2 L341.6,316.1 L342.2,316.1 L342.2,316.7 L342.8,316.7 L342.8,317.1 L343.4,317.1 L343.4,317.4 L344,317.4 L344,318.2 L344.6,318.2 L344.6,318.2 L345.2,318.2 L345.2,318.5 L345.8,318.5 L345.8,318.3 L346.4,318.3 L346.4,318.3 L347,318.3 L347,318.7 L347.6,318.7 L347.6,318.6 L348.2,318.6 L348.2,318.5 L348.8,318.5 L348.8,318.7 L349.4,318.7 L349.4,318.8 L350,318.8 L350,319 L350.6,319 L350.6,318.8 L351.2,318.8 L351.2,318.9 L351.8,318.9 L351.8,319.2 L352.4,319.2 L352.4,319.2 L353,319.2 L353,319 L353.6,319 L353.6,319.1 L354.2,319.1 L354.2,319.1 L354.8,319.1 L354.8,319.3 L355.4,319.3 L355.4,319.3 L356,319.3 L356,319.4 L356.6,319.4 L356.6,319.3 L357.2,319.3 L357.2,319.1 L357.8,319.1 L357.8,319.2 L358.4,319.2 L358.4,319.1 L359,319.1 L359,319.1 L359.6,319.1 L359.6,318.9 L360.2,318.9 L360.2,318.9 L360.8,318.9 L360.8,318.9 L361.4,318.9 L361.4,318.9 L362,318.9 L362,318.6 L362.6,318.6 L362.6,319.1 L363.2,319.1 L363.2,318.9 L363.8,318.9 L363.8,319.3 L364.4,319.3 L364.4,319.4 L365,319.4 L365,319.4 L365.6,319.4 L365.6,319.6 L366,319.6 L366,320.4 Z" fill="#000"/>
<path d="M328.5,277.3 L329.1,277.3 L329.1,280.1 L329.7,280.1 L329.7,281.8 L330.3,281.8 L330.3,283.7 L330.9,283.7 L330.9,287 L331.5,287 L331.5,290.2 L332.1,290.2 L332.1,293.1 L332.7,293.1 L332.7,295.6 L333.3,295.6 L333.3,298 L333.9,298 L333.9,300.4 L334.5,300.4 L334.5,302.6 L335.1,302.6 L335.1,304 L335.7,304 L335.7,305.7 L336.3,305.7 L336.3,307.4 L336.9,307.4 L336.9,308.5 L337.5,308.5 L337.5,309.6 L338.1,309.6 L338.1,311.1 L338.7,311.1 L338.7,312.3 L339.3,312.3 L339.3,312.9 L339.9,312.9 L339.9,313.7 L340.5,313.7 L340.5,314.3 L341.1,314.3 L341.1,315.2 L341.7,315.2 L341.7,315.9 L342.3,315.9 L342.3,316.5 L342.9,316.5 L342.9,316.8 L343.5,316.8 L343.5,317 L344.1,317 L344.1,317.7 L344.7,317.7 L344.7,317.9 L345.3,317.9 L345.3,318.4 L345.9,318.4 L345.9,318.7 L346.5,318.7 L346.5,318.8 L347.1,318.8 L347.1,318.6 L347.7,318.6 L347.7,318.8 L348.3,318.8 L348.3,318.9 L348.9,318.9 L348.9,318.8 L349.5,318.8 L349.5,318.9 L350.1,318.9 L350.1,319.1 L350.7,319.1 L350.7,319.1 L351.3,319.1 L351.3,319.3 L351.9,319.3 L351.9,319.3 L352.5,319.3 L352.5,319.3 L353.1,319.3 L353.1,319.5 L353.7,319.5 L353.7,319.4 L354.3,319.4 L354.3,319.5 L354.9,319.5 L354.9,319.5 L355.5,319.5 L355.5,319.5 L356.1,319.5 L356.1,319.5 L356.7,319.5 L356.7,319.5 L357.3,319.5 L357.3,319.5 L357.9,319.5 L357.9,319.5 L358.5,319.5 L358.5,319.5 L359.1,319.5 L359.1,319.5 L359.7,319.5 L359.7,319.6 L360.3,319.6 L360.3,319.6 L360.9,319.6 L360.9,319.6 L361.5,319.6 L361.5,319.6 L362.1,319.6 L362.1,319.6 L362.7,319.6 L362.7,319.6 L363.3,319.6 L363.3,319.6 L363.9,319.6 L363.9,319.6 L364.5,319.6 L364.5,319.6 L365.1,319.6 L365.1,319.6 L365.7,319.6 L365.7,319.6 L366.3,319.6 L366.3,319.6 L366.9,319.6 L366.9,319.6 L367.5,319.6 L367.5,319.6 L368.1,319.6 L368.1,319.6 L368.7,319.6 L368.7,319.7 L369.3,319.7 L369.3,319.7 L369.9,319.7 L369.9,319.7 L370.5,319.7 L370.5,319.7 L371.1,319.7 L371.1,319.7 L371.7,319.7 L371.7,319.7 L372.3,319.7 L372.3,319.7 L372.9,319.7 L372.9,319.7 L373.5,319.7 L373.5,319.7 L374.1,319.7 L374.1,319.7 L374.7,319.7 L374.7,319.7 L375.3,319.7 L375.3,319.7 L375.9,319.7 L375.9,319.7 L376.5,319.7 L376.5,319.7 L377.1,319.7 L377.1,319.7 L377.7,319.7 L377.7,319.8 L378.3,319.8 L378.3,319.8 L378.9,319.8 L378.9,319.8 L379.5,319.8 L379.5,319.8 L380.1,319.8 L380.1,319.8 L380.7,319.8 L380.7,319.8 L381.3,319.8 L381.3,319.8 L381.9,319.8 L381.9,319.8 L382.5,319.8 L382.5,319.8 L383.1,319.8 L383.1,319.8 L383.7,319.8 L383.7,319.8 L384.3,319.8 L384.3,319.8 L384.9,319.8 L384.9,319.8 L385.5,319.8 L385.5,319.8 L386.1,319.8 L386.1,319.8 L386.7,319.8 L386.7,319.8 L387.3,319.8 L387.3,319.9 L387.9,319.9 L387.9,319.9 L388.5,319.9 L388.5,319.9 L389.1,319.9 L389.1,319.9 L389.7,319.9 L389.7,319.9 L390.3,319.9 L390.3,319.9 L390.9,319.9 L390.9,319.9 L391.5,319.9 L391.5,319.9 L392.1,319.9 L392.1,319.9 L392.7,319.9 L392.7,319.9 L393.3,319.9 L393.3,319.9 L393.9,319.9 L393.9,319.9 L394.5,319.9 L394.5,319.9 L395.1,319.9 L395.1,319.9 L395.7,319.9 L395.7,319.9 L396.3,319.9 L396.3,320 L396.9,320 L396.9,320 L397.5,320 L397.5,320 L398.1,320 L398.1,320 L398.7,320 L398.7,320 L399.3,320 L399.3,320 L399.9,320 L399.9,320 L400.5,320 L400.5,320 L401,320" fill="none" stroke="#000" stroke-width="1.7" stroke-linejoin="round"/>
<polyline points="314.4,258 401.4,258 401.4,320.4" fill="none" stroke="#5a5a5a" stroke-width="1.15"/>
<line x1="314.4" y1="258" x2="314.4" y2="321.2" stroke="#000" stroke-width="1.6"/>
<line x1="313.6" y1="320.4" x2="401.4" y2="320.4" stroke="#000" stroke-width="1.6"/>
<line x1="312.6" y1="320.4" x2="314.4" y2="320.4" stroke="#222" stroke-width="0.7"/>
<line x1="312.6" y1="317.9" x2="314.4" y2="317.9" stroke="#222" stroke-width="0.7"/>
<line x1="312.6" y1="315.4" x2="314.4" y2="315.4" stroke="#222" stroke-width="0.7"/>
<line x1="312.6" y1="312.9" x2="314.4" y2="312.9" stroke="#222" stroke-width="0.7"/>
<line x1="312.6" y1="310.4" x2="314.4" y2="310.4" stroke="#222" stroke-width="0.7"/>
<line x1="312.6" y1="307.9" x2="314.4" y2="307.9" stroke="#222" stroke-width="0.7"/>
<line x1="312.6" y1="305.4" x2="314.4" y2="305.4" stroke="#222" stroke-width="0.7"/>
<line x1="312.6" y1="302.9" x2="314.4" y2="302.9" stroke="#222" stroke-width="0.7"/>
<line x1="312.6" y1="300.4" x2="314.4" y2="300.4" stroke="#222" stroke-width="0.7"/>
<line x1="312.6" y1="297.9" x2="314.4" y2="297.9" stroke="#222" stroke-width="0.7"/>
<line x1="312.6" y1="295.4" x2="314.4" y2="295.4" stroke="#222" stroke-width="0.7"/>
<line x1="312.6" y1="292.9" x2="314.4" y2="292.9" stroke="#222" stroke-width="0.7"/>
<line x1="312.6" y1="290.4" x2="314.4" y2="290.4" stroke="#222" stroke-width="0.7"/>
<line x1="312.6" y1="288" x2="314.4" y2="288" stroke="#222" stroke-width="0.7"/>
<line x1="312.6" y1="285.5" x2="314.4" y2="285.5" stroke="#222" stroke-width="0.7"/>
<line x1="312.6" y1="283" x2="314.4" y2="283" stroke="#222" stroke-width="0.7"/>
<line x1="312.6" y1="280.5" x2="314.4" y2="280.5" stroke="#222" stroke-width="0.7"/>
<line x1="312.6" y1="278" x2="314.4" y2="278" stroke="#222" stroke-width="0.7"/>
<line x1="312.6" y1="275.5" x2="314.4" y2="275.5" stroke="#222" stroke-width="0.7"/>
<line x1="312.6" y1="273" x2="314.4" y2="273" stroke="#222" stroke-width="0.7"/>
<line x1="312.6" y1="270.5" x2="314.4" y2="270.5" stroke="#222" stroke-width="0.7"/>
<line x1="312.6" y1="268" x2="314.4" y2="268" stroke="#222" stroke-width="0.7"/>
<line x1="312.6" y1="265.5" x2="314.4" y2="265.5" stroke="#222" stroke-width="0.7"/>
<line x1="312.6" y1="263" x2="314.4" y2="263" stroke="#222" stroke-width="0.7"/>
<line x1="312.6" y1="260.5" x2="314.4" y2="260.5" stroke="#222" stroke-width="0.7"/>
<line x1="312.6" y1="258" x2="314.4" y2="258" stroke="#222" stroke-width="0.7"/>
<line x1="311.4" y1="320.4" x2="314.4" y2="320.4" stroke="#000" stroke-width="0.9"/>
<text x="310.2" y="320.4" transform="rotate(-90 310.2 320.4)" font-size="5.5" text-anchor="middle" stroke="#000" stroke-width="0.12">0</text>
<line x1="311.4" y1="304.8" x2="314.4" y2="304.8" stroke="#000" stroke-width="0.9"/>
<text x="310.2" y="304.8" transform="rotate(-90 310.2 304.8)" font-size="5.5" text-anchor="middle" stroke="#000" stroke-width="0.12">10</text>
<line x1="311.4" y1="289.2" x2="314.4" y2="289.2" stroke="#000" stroke-width="0.9"/>
<text x="310.2" y="289.2" transform="rotate(-90 310.2 289.2)" font-size="5.5" text-anchor="middle" stroke="#000" stroke-width="0.12">20</text>
<line x1="311.4" y1="273.6" x2="314.4" y2="273.6" stroke="#000" stroke-width="0.9"/>
<text x="310.2" y="273.6" transform="rotate(-90 310.2 273.6)" font-size="5.5" text-anchor="middle" stroke="#000" stroke-width="0.12">30</text>
<line x1="311.4" y1="258" x2="314.4" y2="258" stroke="#000" stroke-width="0.9"/>
<text x="310.2" y="258" transform="rotate(-90 310.2 258)" font-size="5.5" text-anchor="middle" stroke="#000" stroke-width="0.12">40</text>
<text x="304.8" y="290.2" transform="rotate(-90 304.8 290.2)" font-size="5.5" text-anchor="middle" stroke="#000" stroke-width="0.12">Counts</text>
<line x1="314.4" y1="320.4" x2="314.4" y2="322.8" stroke="#222" stroke-width="0.7"/>
<line x1="320.9" y1="320.4" x2="320.9" y2="321.7" stroke="#222" stroke-width="0.7"/>
<line x1="324.8" y1="320.4" x2="324.8" y2="321.7" stroke="#222" stroke-width="0.7"/>
<line x1="327.5" y1="320.4" x2="327.5" y2="321.7" stroke="#222" stroke-width="0.7"/>
<line x1="329.6" y1="320.4" x2="329.6" y2="321.7" stroke="#222" stroke-width="0.7"/>
<line x1="331.3" y1="320.4" x2="331.3" y2="321.7" stroke="#222" stroke-width="0.7"/>
<line x1="332.8" y1="320.4" x2="332.8" y2="321.7" stroke="#222" stroke-width="0.7"/>
<line x1="334" y1="320.4" x2="334" y2="321.7" stroke="#222" stroke-width="0.7"/>
<line x1="335.2" y1="320.4" x2="335.2" y2="321.7" stroke="#222" stroke-width="0.7"/>
<line x1="336.1" y1="320.4" x2="336.1" y2="322.8" stroke="#222" stroke-width="0.7"/>
<line x1="342.7" y1="320.4" x2="342.7" y2="321.7" stroke="#222" stroke-width="0.7"/>
<line x1="346.5" y1="320.4" x2="346.5" y2="321.7" stroke="#222" stroke-width="0.7"/>
<line x1="349.2" y1="320.4" x2="349.2" y2="321.7" stroke="#222" stroke-width="0.7"/>
<line x1="351.4" y1="320.4" x2="351.4" y2="321.7" stroke="#222" stroke-width="0.7"/>
<line x1="353.1" y1="320.4" x2="353.1" y2="321.7" stroke="#222" stroke-width="0.7"/>
<line x1="354.5" y1="320.4" x2="354.5" y2="321.7" stroke="#222" stroke-width="0.7"/>
<line x1="355.8" y1="320.4" x2="355.8" y2="321.7" stroke="#222" stroke-width="0.7"/>
<line x1="356.9" y1="320.4" x2="356.9" y2="321.7" stroke="#222" stroke-width="0.7"/>
<line x1="357.9" y1="320.4" x2="357.9" y2="322.8" stroke="#222" stroke-width="0.7"/>
<line x1="364.4" y1="320.4" x2="364.4" y2="321.7" stroke="#222" stroke-width="0.7"/>
<line x1="368.3" y1="320.4" x2="368.3" y2="321.7" stroke="#222" stroke-width="0.7"/>
<line x1="371" y1="320.4" x2="371" y2="321.7" stroke="#222" stroke-width="0.7"/>
<line x1="373.1" y1="320.4" x2="373.1" y2="321.7" stroke="#222" stroke-width="0.7"/>
<line x1="374.8" y1="320.4" x2="374.8" y2="321.7" stroke="#222" stroke-width="0.7"/>
<line x1="376.3" y1="320.4" x2="376.3" y2="321.7" stroke="#222" stroke-width="0.7"/>
<line x1="377.5" y1="320.4" x2="377.5" y2="321.7" stroke="#222" stroke-width="0.7"/>
<line x1="378.7" y1="320.4" x2="378.7" y2="321.7" stroke="#222" stroke-width="0.7"/>
<line x1="379.6" y1="320.4" x2="379.6" y2="322.8" stroke="#222" stroke-width="0.7"/>
<line x1="386.2" y1="320.4" x2="386.2" y2="321.7" stroke="#222" stroke-width="0.7"/>
<line x1="390" y1="320.4" x2="390" y2="321.7" stroke="#222" stroke-width="0.7"/>
<line x1="392.7" y1="320.4" x2="392.7" y2="321.7" stroke="#222" stroke-width="0.7"/>
<line x1="394.9" y1="320.4" x2="394.9" y2="321.7" stroke="#222" stroke-width="0.7"/>
<line x1="396.6" y1="320.4" x2="396.6" y2="321.7" stroke="#222" stroke-width="0.7"/>
<line x1="398" y1="320.4" x2="398" y2="321.7" stroke="#222" stroke-width="0.7"/>
<line x1="399.3" y1="320.4" x2="399.3" y2="321.7" stroke="#222" stroke-width="0.7"/>
<line x1="400.4" y1="320.4" x2="400.4" y2="321.7" stroke="#222" stroke-width="0.7"/>
<text x="315" y="329.8" font-size="5.4" text-anchor="middle" stroke="#000" stroke-width="0.15">10<tspan font-size="4.4" dy="-2.6">0</tspan></text>
<text x="336.8" y="329.8" font-size="5.4" text-anchor="middle" stroke="#000" stroke-width="0.15">10<tspan font-size="4.4" dy="-2.6">1</tspan></text>
<text x="358.5" y="329.8" font-size="5.4" text-anchor="middle" stroke="#000" stroke-width="0.15">10<tspan font-size="4.4" dy="-2.6">2</tspan></text>
<text x="380.2" y="329.8" font-size="5.4" text-anchor="middle" stroke="#000" stroke-width="0.15">10<tspan font-size="4.4" dy="-2.6">3</tspan></text>
<text x="402" y="329.8" font-size="5.4" text-anchor="middle" stroke="#000" stroke-width="0.15">10<tspan font-size="4.4" dy="-2.6">4</tspan></text>
<path d="M430,321 L430,312.4 L430.6,312.4 L430.6,313.3 L431.2,313.3 L431.2,313.8 L431.8,313.8 L431.8,313.7 L432.4,313.7 L432.4,311.9 L433,311.9 L433,309.6 L433.6,309.6 L433.6,308.2 L434.2,308.2 L434.2,305.6 L434.8,305.6 L434.8,303 L435.4,303 L435.4,301.4 L436,301.4 L436,300.5 L436.6,300.5 L436.6,299.3 L437.2,299.3 L437.2,297.8 L437.8,297.8 L437.8,296 L438.4,296 L438.4,294.6 L439,294.6 L439,292.9 L439.6,292.9 L439.6,290.3 L440.2,290.3 L440.2,287.9 L440.8,287.9 L440.8,286 L441.4,286 L441.4,284.6 L442,284.6 L442,281.6 L442.6,281.6 L442.6,277.4 L443.2,277.4 L443.2,274.1 L443.8,274.1 L443.8,274.2 L444.4,274.2 L444.4,280.4 L445,280.4 L445,288.1 L445.6,288.1 L445.6,291.3 L446.2,291.3 L446.2,293.5 L446.8,293.5 L446.8,295.4 L447.4,295.4 L447.4,298.2 L448,298.2 L448,299.5 L448.6,299.5 L448.6,301.3 L449.2,301.3 L449.2,302 L449.8,302 L449.8,301.3 L450.4,301.3 L450.4,301 L451,301 L451,302.5 L451.6,302.5 L451.6,304.3 L452.2,304.3 L452.2,305.9 L452.8,305.9 L452.8,307.2 L453.4,307.2 L453.4,308.6 L454,308.6 L454,310.4 L454.6,310.4 L454.6,312.6 L455.2,312.6 L455.2,314.3 L455.8,314.3 L455.8,315.1 L456.4,315.1 L456.4,316.5 L457,316.5 L457,316.6 L457.6,316.6 L457.6,316.3 L458.2,316.3 L458.2,316.6 L458.8,316.6 L458.8,316.9 L459.4,316.9 L459.4,316.7 L460,316.7 L460,317.1 L460.6,317.1 L460.6,316.8 L461.2,316.8 L461.2,317.1 L461.8,317.1 L461.8,317.6 L462.4,317.6 L462.4,317.6 L463,317.6 L463,317.7 L463.6,317.7 L463.6,317.6 L464.2,317.6 L464.2,318 L464.8,318 L464.8,318.1 L465.4,318.1 L465.4,318.1 L466,318.1 L466,318.3 L466.6,318.3 L466.6,318.2 L467.2,318.2 L467.2,318.3 L467.8,318.3 L467.8,318 L468.4,318 L468.4,317.9 L469,317.9 L469,317.6 L469.6,317.6 L469.6,317.6 L470.2,317.6 L470.2,317.8 L470.8,317.8 L470.8,317.4 L471.4,317.4 L471.4,317.6 L472,317.6 L472,317.8 L472.6,317.8 L472.6,318.1 L473.2,318.1 L473.2,318.4 L473.8,318.4 L473.8,318.4 L474.4,318.4 L474.4,318.7 L475,318.7 L475,318.5 L475.6,318.5 L475.6,318.6 L476.2,318.6 L476.2,319.1 L476.8,319.1 L476.8,318.9 L477.4,318.9 L477.4,319.2 L478,319.2 L478,319.1 L478.6,319.1 L478.6,319.1 L479.2,319.1 L479.2,319.2 L479.8,319.2 L479.8,319.2 L480.4,319.2 L480.4,319.6 L481,319.6 L481,319.5 L481.6,319.5 L481.6,319.5 L482,319.5 L482,321 Z" fill="#000"/>
<path d="M457,315 L457.6,315 L457.6,312.8 L458.2,312.8 L458.2,310.2 L458.8,310.2 L458.8,307.8 L459.4,307.8 L459.4,304.1 L460,304.1 L460,300.8 L460.6,300.8 L460.6,296.9 L461.2,296.9 L461.2,293.3 L461.8,293.3 L461.8,288.3 L462.4,288.3 L462.4,283.4 L463,283.4 L463,277.3 L463.6,277.3 L463.6,272.7 L464.2,272.7 L464.2,268.8 L464.8,268.8 L464.8,271.8 L465.4,271.8 L465.4,274.8 L466,274.8 L466,273.7 L466.6,273.7 L466.6,275.9 L467.2,275.9 L467.2,278.8 L467.8,278.8 L467.8,277.7 L468.4,277.7 L468.4,279.1 L469,279.1 L469,281.6 L469.6,281.6 L469.6,284.7 L470.2,284.7 L470.2,288 L470.8,288 L470.8,286.9 L471.4,286.9 L471.4,284.2 L472,284.2 L472,280.1 L472.6,280.1 L472.6,275.4 L473.2,275.4 L473.2,281.2 L473.8,281.2 L473.8,286.3 L474.4,286.3 L474.4,291.6 L475,291.6 L475,295.2 L475.6,295.2 L475.6,297.9 L476.2,297.9 L476.2,300.2 L476.8,300.2 L476.8,301.5 L477.4,301.5 L477.4,302.9 L478,302.9 L478,303.8 L478.6,303.8 L478.6,306.4 L479.2,306.4 L479.2,308.4 L479.8,308.4 L479.8,309.6 L480.4,309.6 L480.4,310.5 L481,310.5 L481,311.8 L481.6,311.8 L481.6,313.4 L482.2,313.4 L482.2,313.9 L482.8,313.9 L482.8,314.6 L483.4,314.6 L483.4,315.4 L484,315.4 L484,315.7 L484.6,315.7 L484.6,315.9 L485.2,315.9 L485.2,316 L485.8,316 L485.8,316.4 L486.4,316.4 L486.4,316.2 L487,316.2 L487,316 L487.6,316 L487.6,316.2 L488.2,316.2 L488.2,315.8 L488.8,315.8 L488.8,315.8 L489.4,315.8 L489.4,315.9 L490,315.9 L490,315.8 L490.6,315.8 L490.6,316.4 L491.2,316.4 L491.2,317 L491.8,317 L491.8,317.5 L492.4,317.5 L492.4,317.7 L493,317.7 L493,317.7 L493.6,317.7 L493.6,317.3 L494.2,317.3 L494.2,316.5 L494.8,316.5 L494.8,316.4 L495.4,316.4 L495.4,316.5 L496,316.5 L496,317.3 L496.6,317.3 L496.6,317.7 L497.2,317.7 L497.2,318.1 L497.8,318.1 L497.8,318.5 L498.4,318.5 L498.4,318 L499,318 L499,317.8 L499.6,317.8 L499.6,317.2 L500.2,317.2 L500.2,317.1 L500.8,317.1 L500.8,316.7 L501.4,316.7 L501.4,317 L502,317 L502,317.3 L502.6,317.3 L502.6,317.9 L503.2,317.9 L503.2,318.1 L503.8,318.1 L503.8,318.6 L504.4,318.6 L504.4,318.1 L505,318.1 L505,317.9 L505.6,317.9 L505.6,317.6 L506.2,317.6 L506.2,317.2 L506.8,317.2 L506.8,317.2 L507.4,317.2 L507.4,317.5 L508,317.5 L508,318 L508.6,318 L508.6,318.3 L509.2,318.3 L509.2,318.7 L509.8,318.7 L509.8,318.9 L510.4,318.9 L510.4,318.4 L511,318.4 L511,318 L511.6,318 L511.6,317.8 L512.2,317.8 L512.2,317.8 L512.8,317.8 L512.8,318.3 L513.4,318.3 L513.4,318.6 L514,318.6 L514,319.1 L514.6,319.1 L514.6,319.4 L515,319.4" fill="none" stroke="#000" stroke-width="1.7" stroke-linejoin="round"/>
<polyline points="429.6,257.4 515.4,257.4 515.4,321" fill="none" stroke="#5a5a5a" stroke-width="1.15"/>
<line x1="429.6" y1="257.4" x2="429.6" y2="321.8" stroke="#000" stroke-width="1.6"/>
<line x1="428.8" y1="321" x2="515.4" y2="321" stroke="#000" stroke-width="1.6"/>
<line x1="427.8" y1="321" x2="429.6" y2="321" stroke="#222" stroke-width="0.7"/>
<line x1="427.8" y1="318.5" x2="429.6" y2="318.5" stroke="#222" stroke-width="0.7"/>
<line x1="427.8" y1="315.9" x2="429.6" y2="315.9" stroke="#222" stroke-width="0.7"/>
<line x1="427.8" y1="313.4" x2="429.6" y2="313.4" stroke="#222" stroke-width="0.7"/>
<line x1="427.8" y1="310.8" x2="429.6" y2="310.8" stroke="#222" stroke-width="0.7"/>
<line x1="427.8" y1="308.3" x2="429.6" y2="308.3" stroke="#222" stroke-width="0.7"/>
<line x1="427.8" y1="305.7" x2="429.6" y2="305.7" stroke="#222" stroke-width="0.7"/>
<line x1="427.8" y1="303.2" x2="429.6" y2="303.2" stroke="#222" stroke-width="0.7"/>
<line x1="427.8" y1="300.6" x2="429.6" y2="300.6" stroke="#222" stroke-width="0.7"/>
<line x1="427.8" y1="298.1" x2="429.6" y2="298.1" stroke="#222" stroke-width="0.7"/>
<line x1="427.8" y1="295.6" x2="429.6" y2="295.6" stroke="#222" stroke-width="0.7"/>
<line x1="427.8" y1="293" x2="429.6" y2="293" stroke="#222" stroke-width="0.7"/>
<line x1="427.8" y1="290.5" x2="429.6" y2="290.5" stroke="#222" stroke-width="0.7"/>
<line x1="427.8" y1="287.9" x2="429.6" y2="287.9" stroke="#222" stroke-width="0.7"/>
<line x1="427.8" y1="285.4" x2="429.6" y2="285.4" stroke="#222" stroke-width="0.7"/>
<line x1="427.8" y1="282.8" x2="429.6" y2="282.8" stroke="#222" stroke-width="0.7"/>
<line x1="427.8" y1="280.3" x2="429.6" y2="280.3" stroke="#222" stroke-width="0.7"/>
<line x1="427.8" y1="277.8" x2="429.6" y2="277.8" stroke="#222" stroke-width="0.7"/>
<line x1="427.8" y1="275.2" x2="429.6" y2="275.2" stroke="#222" stroke-width="0.7"/>
<line x1="427.8" y1="272.7" x2="429.6" y2="272.7" stroke="#222" stroke-width="0.7"/>
<line x1="427.8" y1="270.1" x2="429.6" y2="270.1" stroke="#222" stroke-width="0.7"/>
<line x1="427.8" y1="267.6" x2="429.6" y2="267.6" stroke="#222" stroke-width="0.7"/>
<line x1="427.8" y1="265" x2="429.6" y2="265" stroke="#222" stroke-width="0.7"/>
<line x1="427.8" y1="262.5" x2="429.6" y2="262.5" stroke="#222" stroke-width="0.7"/>
<line x1="427.8" y1="259.9" x2="429.6" y2="259.9" stroke="#222" stroke-width="0.7"/>
<line x1="427.8" y1="257.4" x2="429.6" y2="257.4" stroke="#222" stroke-width="0.7"/>
<line x1="426.6" y1="321" x2="429.6" y2="321" stroke="#000" stroke-width="0.9"/>
<text x="425.4" y="321" transform="rotate(-90 425.4 321)" font-size="5.5" text-anchor="middle" stroke="#000" stroke-width="0.12">0</text>
<line x1="426.6" y1="309.6" x2="429.6" y2="309.6" stroke="#000" stroke-width="0.9"/>
<text x="425.4" y="309.6" transform="rotate(-90 425.4 309.6)" font-size="5.5" text-anchor="middle" stroke="#000" stroke-width="0.12">5</text>
<line x1="426.6" y1="298.1" x2="429.6" y2="298.1" stroke="#000" stroke-width="0.9"/>
<text x="425.4" y="298.1" transform="rotate(-90 425.4 298.1)" font-size="5.5" text-anchor="middle" stroke="#000" stroke-width="0.12">10</text>
<line x1="426.6" y1="286.7" x2="429.6" y2="286.7" stroke="#000" stroke-width="0.9"/>
<text x="425.4" y="286.7" transform="rotate(-90 425.4 286.7)" font-size="5.5" text-anchor="middle" stroke="#000" stroke-width="0.12">15</text>
<line x1="426.6" y1="275.2" x2="429.6" y2="275.2" stroke="#000" stroke-width="0.9"/>
<text x="425.4" y="275.2" transform="rotate(-90 425.4 275.2)" font-size="5.5" text-anchor="middle" stroke="#000" stroke-width="0.12">20</text>
<line x1="426.6" y1="263.8" x2="429.6" y2="263.8" stroke="#000" stroke-width="0.9"/>
<text x="425.4" y="263.8" transform="rotate(-90 425.4 263.8)" font-size="5.5" text-anchor="middle" stroke="#000" stroke-width="0.12">25</text>
<text x="420" y="290.2" transform="rotate(-90 420 290.2)" font-size="5.5" text-anchor="middle" stroke="#000" stroke-width="0.12">Counts</text>
<line x1="429.6" y1="321" x2="429.6" y2="323.4" stroke="#222" stroke-width="0.7"/>
<line x1="436.1" y1="321" x2="436.1" y2="322.3" stroke="#222" stroke-width="0.7"/>
<line x1="439.8" y1="321" x2="439.8" y2="322.3" stroke="#222" stroke-width="0.7"/>
<line x1="442.5" y1="321" x2="442.5" y2="322.3" stroke="#222" stroke-width="0.7"/>
<line x1="444.6" y1="321" x2="444.6" y2="322.3" stroke="#222" stroke-width="0.7"/>
<line x1="446.3" y1="321" x2="446.3" y2="322.3" stroke="#222" stroke-width="0.7"/>
<line x1="447.7" y1="321" x2="447.7" y2="322.3" stroke="#222" stroke-width="0.7"/>
<line x1="449" y1="321" x2="449" y2="322.3" stroke="#222" stroke-width="0.7"/>
<line x1="450.1" y1="321" x2="450.1" y2="322.3" stroke="#222" stroke-width="0.7"/>
<line x1="451.1" y1="321" x2="451.1" y2="323.4" stroke="#222" stroke-width="0.7"/>
<line x1="457.5" y1="321" x2="457.5" y2="322.3" stroke="#222" stroke-width="0.7"/>
<line x1="461.3" y1="321" x2="461.3" y2="322.3" stroke="#222" stroke-width="0.7"/>
<line x1="464" y1="321" x2="464" y2="322.3" stroke="#222" stroke-width="0.7"/>
<line x1="466" y1="321" x2="466" y2="322.3" stroke="#222" stroke-width="0.7"/>
<line x1="467.7" y1="321" x2="467.7" y2="322.3" stroke="#222" stroke-width="0.7"/>
<line x1="469.2" y1="321" x2="469.2" y2="322.3" stroke="#222" stroke-width="0.7"/>
<line x1="470.4" y1="321" x2="470.4" y2="322.3" stroke="#222" stroke-width="0.7"/>
<line x1="471.5" y1="321" x2="471.5" y2="322.3" stroke="#222" stroke-width="0.7"/>
<line x1="472.5" y1="321" x2="472.5" y2="323.4" stroke="#222" stroke-width="0.7"/>
<line x1="479" y1="321" x2="479" y2="322.3" stroke="#222" stroke-width="0.7"/>
<line x1="482.7" y1="321" x2="482.7" y2="322.3" stroke="#222" stroke-width="0.7"/>
<line x1="485.4" y1="321" x2="485.4" y2="322.3" stroke="#222" stroke-width="0.7"/>
<line x1="487.5" y1="321" x2="487.5" y2="322.3" stroke="#222" stroke-width="0.7"/>
<line x1="489.2" y1="321" x2="489.2" y2="322.3" stroke="#222" stroke-width="0.7"/>
<line x1="490.6" y1="321" x2="490.6" y2="322.3" stroke="#222" stroke-width="0.7"/>
<line x1="491.9" y1="321" x2="491.9" y2="322.3" stroke="#222" stroke-width="0.7"/>
<line x1="493" y1="321" x2="493" y2="322.3" stroke="#222" stroke-width="0.7"/>
<line x1="493.9" y1="321" x2="493.9" y2="323.4" stroke="#222" stroke-width="0.7"/>
<line x1="500.4" y1="321" x2="500.4" y2="322.3" stroke="#222" stroke-width="0.7"/>
<line x1="504.2" y1="321" x2="504.2" y2="322.3" stroke="#222" stroke-width="0.7"/>
<line x1="506.9" y1="321" x2="506.9" y2="322.3" stroke="#222" stroke-width="0.7"/>
<line x1="508.9" y1="321" x2="508.9" y2="322.3" stroke="#222" stroke-width="0.7"/>
<line x1="510.6" y1="321" x2="510.6" y2="322.3" stroke="#222" stroke-width="0.7"/>
<line x1="512.1" y1="321" x2="512.1" y2="322.3" stroke="#222" stroke-width="0.7"/>
<line x1="513.3" y1="321" x2="513.3" y2="322.3" stroke="#222" stroke-width="0.7"/>
<line x1="514.4" y1="321" x2="514.4" y2="322.3" stroke="#222" stroke-width="0.7"/>
<text x="430.2" y="330.4" font-size="5.4" text-anchor="middle" stroke="#000" stroke-width="0.15">10<tspan font-size="4.4" dy="-2.6">0</tspan></text>
<text x="451.7" y="330.4" font-size="5.4" text-anchor="middle" stroke="#000" stroke-width="0.15">10<tspan font-size="4.4" dy="-2.6">1</tspan></text>
<text x="473.1" y="330.4" font-size="5.4" text-anchor="middle" stroke="#000" stroke-width="0.15">10<tspan font-size="4.4" dy="-2.6">2</tspan></text>
<text x="494.6" y="330.4" font-size="5.4" text-anchor="middle" stroke="#000" stroke-width="0.15">10<tspan font-size="4.4" dy="-2.6">3</tspan></text>
<text x="516" y="330.4" font-size="5.4" text-anchor="middle" stroke="#000" stroke-width="0.15">10<tspan font-size="4.4" dy="-2.6">4</tspan></text>
<path d="M83.2,409 L83.2,397.6 L83.8,397.6 L83.8,397.4 L84.4,397.4 L84.4,397.1 L85,397.1 L85,397.4 L85.6,397.4 L85.6,397 L86.2,397 L86.2,395.1 L86.8,395.1 L86.8,394 L87.4,394 L87.4,391.2 L88,391.2 L88,388.9 L88.6,388.9 L88.6,387.3 L89.2,387.3 L89.2,385.1 L89.8,385.1 L89.8,383.3 L90.4,383.3 L90.4,381.2 L91,381.2 L91,376.8 L91.6,376.8 L91.6,373.4 L92.2,373.4 L92.2,368.7 L92.8,368.7 L92.8,364.6 L93.4,364.6 L93.4,361.2 L94,361.2 L94,360.2 L94.6,360.2 L94.6,359.7 L95.2,359.7 L95.2,360.7 L95.8,360.7 L95.8,361.3 L96.4,361.3 L96.4,357.7 L97,357.7 L97,354.6 L97.6,354.6 L97.6,354 L98.2,354 L98.2,357.2 L98.8,357.2 L98.8,360.9 L99.4,360.9 L99.4,360.2 L100,360.2 L100,360.5 L100.6,360.5 L100.6,360.5 L101.2,360.5 L101.2,361.1 L101.8,361.1 L101.8,360.5 L102.4,360.5 L102.4,359.9 L103,359.9 L103,359.4 L103.6,359.4 L103.6,361.9 L104.2,361.9 L104.2,364.4 L104.8,364.4 L104.8,367.3 L105.4,367.3 L105.4,369.9 L106,369.9 L106,373.9 L106.6,373.9 L106.6,379.3 L107.2,379.3 L107.2,382.5 L107.8,382.5 L107.8,386.3 L108.4,386.3 L108.4,388 L109,388 L109,390 L109.6,390 L109.6,391.5 L110.2,391.5 L110.2,394.1 L110.8,394.1 L110.8,396.5 L111.4,396.5 L111.4,396.5 L112,396.5 L112,396.5 L112.6,396.5 L112.6,397.9 L113.2,397.9 L113.2,398.3 L113.8,398.3 L113.8,398.4 L114.4,398.4 L114.4,398.8 L115,398.8 L115,400.4 L115.6,400.4 L115.6,400.9 L116.2,400.9 L116.2,401.2 L116.8,401.2 L116.8,401.8 L117.4,401.8 L117.4,402 L118,402 L118,402.8 L118.6,402.8 L118.6,402.7 L119.2,402.7 L119.2,403.6 L119.8,403.6 L119.8,404 L120.4,404 L120.4,404.2 L121,404.2 L121,405.1 L121.6,405.1 L121.6,405.5 L122.2,405.5 L122.2,406.2 L122.8,406.2 L122.8,406.5 L123.4,406.5 L123.4,406.5 L124,406.5 L124,406.7 L124.6,406.7 L124.6,407.4 L125.2,407.4 L125.2,407.3 L125.8,407.3 L125.8,407.6 L126.4,407.6 L126.4,407.6 L127,407.6 L127,407.7 L127.6,407.7 L127.6,407.9 L128.2,407.9 L128.2,407.9 L128.8,407.9 L128.8,407.9 L129.4,407.9 L129.4,407.9 L130,407.9 L130,409 Z" fill="#000"/>
<path d="M108.5,387.9 L109.1,387.9 L109.1,370.9 L109.7,370.9 L109.7,375.7 L110.3,375.7 L110.3,378.7 L110.9,378.7 L110.9,376.4 L111.5,376.4 L111.5,375.4 L112.1,375.4 L112.1,375.5 L112.7,375.5 L112.7,376.6 L113.3,376.6 L113.3,373.8 L113.9,373.8 L113.9,369.8 L114.5,369.8 L114.5,361.2 L115.1,361.2 L115.1,354.5 L115.7,354.5 L115.7,355 L116.3,355 L116.3,359.8 L116.9,359.8 L116.9,360.2 L117.5,360.2 L117.5,360.6 L118.1,360.6 L118.1,361.4 L118.7,361.4 L118.7,362.1 L119.3,362.1 L119.3,363.1 L119.9,363.1 L119.9,365.6 L120.5,365.6 L120.5,367.9 L121.1,367.9 L121.1,365.3 L121.7,365.3 L121.7,362.3 L122.3,362.3 L122.3,356.3 L122.9,356.3 L122.9,354 L123.5,354 L123.5,356.5 L124.1,356.5 L124.1,362.7 L124.7,362.7 L124.7,364.3 L125.3,364.3 L125.3,365 L125.9,365 L125.9,365.2 L126.5,365.2 L126.5,365.6 L127.1,365.6 L127.1,366 L127.7,366 L127.7,368.1 L128.3,368.1 L128.3,369.7 L128.9,369.7 L128.9,371.9 L129.5,371.9 L129.5,373.5 L130.1,373.5 L130.1,376.4 L130.7,376.4 L130.7,379 L131.3,379 L131.3,382.1 L131.9,382.1 L131.9,384.4 L132.5,384.4 L132.5,386.6 L133.1,386.6 L133.1,388.6 L133.7,388.6 L133.7,390.5 L134.3,390.5 L134.3,391.8 L134.9,391.8 L134.9,393.7 L135.5,393.7 L135.5,395.5 L136.1,395.5 L136.1,397.2 L136.7,397.2 L136.7,398.5 L137.3,398.5 L137.3,398.1 L137.9,398.1 L137.9,397.4 L138.5,397.4 L138.5,398.7 L139.1,398.7 L139.1,399.7 L139.7,399.7 L139.7,402.5 L140.3,402.5 L140.3,406.1 L140.9,406.1 L140.9,407 L141.5,407 L141.5,407.9 L142.1,407.9 L142.1,407.9 L142.7,407.9 L142.7,407.9 L143.3,407.9 L143.3,407.9 L143.9,407.9 L143.9,408.1 L144.5,408.1 L144.5,408 L145.1,408 L145.1,408 L145.7,408 L145.7,408 L146.3,408 L146.3,408.1 L146.9,408.1 L146.9,408.1 L147.5,408.1 L147.5,408.1 L148.1,408.1 L148.1,408.1 L148.7,408.1 L148.7,408.2 L149.3,408.2 L149.3,408.2 L149.9,408.2 L149.9,408.2 L150.5,408.2 L150.5,408.2 L151.1,408.2 L151.1,408.2 L151.7,408.2 L151.7,408.3 L152.3,408.3 L152.3,408.3 L152.9,408.3 L152.9,408.3 L153.5,408.3 L153.5,408.3 L154.1,408.3 L154.1,408.2 L154.7,408.2 L154.7,408.2 L155.3,408.2 L155.3,408.1 L155.9,408.1 L155.9,408.1 L156.5,408.1 L156.5,408.1 L157.1,408.1 L157.1,408 L157.7,408 L157.7,408 L158.3,408 L158.3,407.8 L158.9,407.8 L158.9,407.3 L159.5,407.3 L159.5,407.2 L160.1,407.2 L160.1,407.4 L160.7,407.4 L160.7,407.7 L161.3,407.7 L161.3,408 L161.9,408 L161.9,408.3 L162.5,408.3 L162.5,408.3 L163.1,408.3 L163.1,408.3 L163.7,408.3 L163.7,408.3 L164.3,408.3 L164.3,408.4 L164.9,408.4 L164.9,408.4 L165.5,408.4 L165.5,408.4 L166,408.4" fill="none" stroke="#000" stroke-width="1.7" stroke-linejoin="round"/>
<polyline points="110.3,380 112,376 114,375 115,369 116,374 118,371 120,375 121,369 122,374 124,371 126,374 127,368 128,372 130,375 131,378" fill="none" stroke="#000" stroke-width="1.3"/>
<polyline points="112,374 113.5,368 115,362 116.5,364 118,366 119.5,366 121,368 122.5,362 124,366 125.5,368 127,369 128.5,372 130,376" fill="none" stroke="#222" stroke-width="2.6"/>
<polyline points="83,338 166.4,338 166.4,409" fill="none" stroke="#5a5a5a" stroke-width="1.15"/>
<line x1="83" y1="338" x2="83" y2="409.8" stroke="#000" stroke-width="1.6"/>
<line x1="82.2" y1="409" x2="166.4" y2="409" stroke="#000" stroke-width="1.6"/>
<line x1="81.2" y1="409" x2="83" y2="409" stroke="#222" stroke-width="0.7"/>
<line x1="81.2" y1="406.2" x2="83" y2="406.2" stroke="#222" stroke-width="0.7"/>
<line x1="81.2" y1="403.3" x2="83" y2="403.3" stroke="#222" stroke-width="0.7"/>
<line x1="81.2" y1="400.5" x2="83" y2="400.5" stroke="#222" stroke-width="0.7"/>
<line x1="81.2" y1="397.6" x2="83" y2="397.6" stroke="#222" stroke-width="0.7"/>
<line x1="81.2" y1="394.8" x2="83" y2="394.8" stroke="#222" stroke-width="0.7"/>
<line x1="81.2" y1="392" x2="83" y2="392" stroke="#222" stroke-width="0.7"/>
<line x1="81.2" y1="389.1" x2="83" y2="389.1" stroke="#222" stroke-width="0.7"/>
<line x1="81.2" y1="386.3" x2="83" y2="386.3" stroke="#222" stroke-width="0.7"/>
<line x1="81.2" y1="383.4" x2="83" y2="383.4" stroke="#222" stroke-width="0.7"/>
<line x1="81.2" y1="380.6" x2="83" y2="380.6" stroke="#222" stroke-width="0.7"/>
<line x1="81.2" y1="377.8" x2="83" y2="377.8" stroke="#222" stroke-width="0.7"/>
<line x1="81.2" y1="374.9" x2="83" y2="374.9" stroke="#222" stroke-width="0.7"/>
<line x1="81.2" y1="372.1" x2="83" y2="372.1" stroke="#222" stroke-width="0.7"/>
<line x1="81.2" y1="369.2" x2="83" y2="369.2" stroke="#222" stroke-width="0.7"/>
<line x1="81.2" y1="366.4" x2="83" y2="366.4" stroke="#222" stroke-width="0.7"/>
<line x1="81.2" y1="363.6" x2="83" y2="363.6" stroke="#222" stroke-width="0.7"/>
<line x1="81.2" y1="360.7" x2="83" y2="360.7" stroke="#222" stroke-width="0.7"/>
<line x1="81.2" y1="357.9" x2="83" y2="357.9" stroke="#222" stroke-width="0.7"/>
<line x1="81.2" y1="355" x2="83" y2="355" stroke="#222" stroke-width="0.7"/>
<line x1="81.2" y1="352.2" x2="83" y2="352.2" stroke="#222" stroke-width="0.7"/>
<line x1="81.2" y1="349.4" x2="83" y2="349.4" stroke="#222" stroke-width="0.7"/>
<line x1="81.2" y1="346.5" x2="83" y2="346.5" stroke="#222" stroke-width="0.7"/>
<line x1="81.2" y1="343.7" x2="83" y2="343.7" stroke="#222" stroke-width="0.7"/>
<line x1="81.2" y1="340.8" x2="83" y2="340.8" stroke="#222" stroke-width="0.7"/>
<line x1="81.2" y1="338" x2="83" y2="338" stroke="#222" stroke-width="0.7"/>
<line x1="80" y1="409" x2="83" y2="409" stroke="#000" stroke-width="0.9"/>
<text x="78.8" y="409" transform="rotate(-90 78.8 409)" font-size="5.5" text-anchor="middle" stroke="#000" stroke-width="0.12">0</text>
<line x1="80" y1="383.5" x2="83" y2="383.5" stroke="#000" stroke-width="0.9"/>
<text x="78.8" y="383.5" transform="rotate(-90 78.8 383.5)" font-size="5.5" text-anchor="middle" stroke="#000" stroke-width="0.12">5</text>
<line x1="80" y1="357.9" x2="83" y2="357.9" stroke="#000" stroke-width="0.9"/>
<text x="78.8" y="357.9" transform="rotate(-90 78.8 357.9)" font-size="5.5" text-anchor="middle" stroke="#000" stroke-width="0.12">10</text>
<text x="73.4" y="374.5" transform="rotate(-90 73.4 374.5)" font-size="5.5" text-anchor="middle" stroke="#000" stroke-width="0.12">Counts</text>
<line x1="83" y1="409" x2="83" y2="411.4" stroke="#222" stroke-width="0.7"/>
<line x1="89.3" y1="409" x2="89.3" y2="410.3" stroke="#222" stroke-width="0.7"/>
<line x1="92.9" y1="409" x2="92.9" y2="410.3" stroke="#222" stroke-width="0.7"/>
<line x1="95.6" y1="409" x2="95.6" y2="410.3" stroke="#222" stroke-width="0.7"/>
<line x1="97.6" y1="409" x2="97.6" y2="410.3" stroke="#222" stroke-width="0.7"/>
<line x1="99.2" y1="409" x2="99.2" y2="410.3" stroke="#222" stroke-width="0.7"/>
<line x1="100.6" y1="409" x2="100.6" y2="410.3" stroke="#222" stroke-width="0.7"/>
<line x1="101.8" y1="409" x2="101.8" y2="410.3" stroke="#222" stroke-width="0.7"/>
<line x1="102.9" y1="409" x2="102.9" y2="410.3" stroke="#222" stroke-width="0.7"/>
<line x1="103.8" y1="409" x2="103.8" y2="411.4" stroke="#222" stroke-width="0.7"/>
<line x1="110.1" y1="409" x2="110.1" y2="410.3" stroke="#222" stroke-width="0.7"/>
<line x1="113.8" y1="409" x2="113.8" y2="410.3" stroke="#222" stroke-width="0.7"/>
<line x1="116.4" y1="409" x2="116.4" y2="410.3" stroke="#222" stroke-width="0.7"/>
<line x1="118.4" y1="409" x2="118.4" y2="410.3" stroke="#222" stroke-width="0.7"/>
<line x1="120.1" y1="409" x2="120.1" y2="410.3" stroke="#222" stroke-width="0.7"/>
<line x1="121.5" y1="409" x2="121.5" y2="410.3" stroke="#222" stroke-width="0.7"/>
<line x1="122.7" y1="409" x2="122.7" y2="410.3" stroke="#222" stroke-width="0.7"/>
<line x1="123.7" y1="409" x2="123.7" y2="410.3" stroke="#222" stroke-width="0.7"/>
<line x1="124.7" y1="409" x2="124.7" y2="411.4" stroke="#222" stroke-width="0.7"/>
<line x1="131" y1="409" x2="131" y2="410.3" stroke="#222" stroke-width="0.7"/>
<line x1="134.6" y1="409" x2="134.6" y2="410.3" stroke="#222" stroke-width="0.7"/>
<line x1="137.3" y1="409" x2="137.3" y2="410.3" stroke="#222" stroke-width="0.7"/>
<line x1="139.3" y1="409" x2="139.3" y2="410.3" stroke="#222" stroke-width="0.7"/>
<line x1="140.9" y1="409" x2="140.9" y2="410.3" stroke="#222" stroke-width="0.7"/>
<line x1="142.3" y1="409" x2="142.3" y2="410.3" stroke="#222" stroke-width="0.7"/>
<line x1="143.5" y1="409" x2="143.5" y2="410.3" stroke="#222" stroke-width="0.7"/>
<line x1="144.6" y1="409" x2="144.6" y2="410.3" stroke="#222" stroke-width="0.7"/>
<line x1="145.6" y1="409" x2="145.6" y2="411.4" stroke="#222" stroke-width="0.7"/>
<line x1="151.8" y1="409" x2="151.8" y2="410.3" stroke="#222" stroke-width="0.7"/>
<line x1="155.5" y1="409" x2="155.5" y2="410.3" stroke="#222" stroke-width="0.7"/>
<line x1="158.1" y1="409" x2="158.1" y2="410.3" stroke="#222" stroke-width="0.7"/>
<line x1="160.1" y1="409" x2="160.1" y2="410.3" stroke="#222" stroke-width="0.7"/>
<line x1="161.8" y1="409" x2="161.8" y2="410.3" stroke="#222" stroke-width="0.7"/>
<line x1="163.2" y1="409" x2="163.2" y2="410.3" stroke="#222" stroke-width="0.7"/>
<line x1="164.4" y1="409" x2="164.4" y2="410.3" stroke="#222" stroke-width="0.7"/>
<line x1="165.4" y1="409" x2="165.4" y2="410.3" stroke="#222" stroke-width="0.7"/>
<text x="83.6" y="418.4" font-size="5.4" text-anchor="middle" stroke="#000" stroke-width="0.15">10<tspan font-size="4.4" dy="-2.6">0</tspan></text>
<text x="104.4" y="418.4" font-size="5.4" text-anchor="middle" stroke="#000" stroke-width="0.15">10<tspan font-size="4.4" dy="-2.6">1</tspan></text>
<text x="125.3" y="418.4" font-size="5.4" text-anchor="middle" stroke="#000" stroke-width="0.15">10<tspan font-size="4.4" dy="-2.6">2</tspan></text>
<text x="146.2" y="418.4" font-size="5.4" text-anchor="middle" stroke="#000" stroke-width="0.15">10<tspan font-size="4.4" dy="-2.6">3</tspan></text>
<text x="167" y="418.4" font-size="5.4" text-anchor="middle" stroke="#000" stroke-width="0.15">10<tspan font-size="4.4" dy="-2.6">4</tspan></text>
<path d="M196.4,408 L196.4,393.7 L197,393.7 L197,394.2 L197.6,394.2 L197.6,394.2 L198.2,394.2 L198.2,393.8 L198.8,393.8 L198.8,393.1 L199.4,393.1 L199.4,391.2 L200,391.2 L200,390.4 L200.6,390.4 L200.6,387.6 L201.2,387.6 L201.2,385 L201.8,385 L201.8,382.4 L202.4,382.4 L202.4,379 L203,379 L203,376.7 L203.6,376.7 L203.6,374.9 L204.2,374.9 L204.2,374.6 L204.8,374.6 L204.8,375 L205.4,375 L205.4,376 L206,376 L206,374.9 L206.6,374.9 L206.6,373 L207.2,373 L207.2,370.4 L207.8,370.4 L207.8,368.6 L208.4,368.6 L208.4,366.9 L209,366.9 L209,365.2 L209.6,365.2 L209.6,362.6 L210.2,362.6 L210.2,362.2 L210.8,362.2 L210.8,361.1 L211.4,361.1 L211.4,360.1 L212,360.1 L212,346.4 L212.6,346.4 L212.6,346.2 L213.2,346.2 L213.2,347.1 L213.8,347.1 L213.8,359.2 L214.4,359.2 L214.4,359.9 L215,359.9 L215,360.7 L215.6,360.7 L215.6,369.3 L216.2,369.3 L216.2,376.4 L216.8,376.4 L216.8,380.4 L217.4,380.4 L217.4,382.9 L218,382.9 L218,386.4 L218.6,386.4 L218.6,388.8 L219.2,388.8 L219.2,389.1 L219.8,389.1 L219.8,389.1 L220.4,389.1 L220.4,390.4 L221,390.4 L221,391.5 L221.6,391.5 L221.6,391.7 L222.2,391.7 L222.2,392.3 L222.8,392.3 L222.8,392.5 L223.4,392.5 L223.4,393.5 L224,393.5 L224,394.7 L224.6,394.7 L224.6,394.8 L225.2,394.8 L225.2,396.2 L225.8,396.2 L225.8,395.9 L226.4,395.9 L226.4,396.6 L227,396.6 L227,397.7 L227.6,397.7 L227.6,397 L228.2,397 L228.2,397.3 L228.8,397.3 L228.8,398.2 L229.4,398.2 L229.4,398.3 L230,398.3 L230,399.3 L230.6,399.3 L230.6,398.9 L231.2,398.9 L231.2,400.2 L231.8,400.2 L231.8,400.5 L232.4,400.5 L232.4,400.7 L233,400.7 L233,400.7 L233.6,400.7 L233.6,400.8 L234.2,400.8 L234.2,401.5 L234.8,401.5 L234.8,401.6 L235.4,401.6 L235.4,401.8 L236,401.8 L236,402.1 L236.6,402.1 L236.6,402.5 L237.2,402.5 L237.2,402.9 L237.8,402.9 L237.8,403.3 L238.4,403.3 L238.4,403.7 L239,403.7 L239,403.4 L239.6,403.4 L239.6,403.8 L240.2,403.8 L240.2,404.2 L240.8,404.2 L240.8,404.6 L241.4,404.6 L241.4,404.7 L242,404.7 L242,404.8 L242.6,404.8 L242.6,404.9 L243.2,404.9 L243.2,405.3 L243.8,405.3 L243.8,405.5 L244.4,405.5 L244.4,406 L245,406 L245,406.2 L245.6,406.2 L245.6,406.2 L246.2,406.2 L246.2,406.4 L246.8,406.4 L246.8,406.4 L247.4,406.4 L247.4,406.3 L248,406.3 L248,406.5 L248.6,406.5 L248.6,406.2 L249.2,406.2 L249.2,406.6 L249.8,406.6 L249.8,406.6 L250.4,406.6 L250.4,406.6 L251,406.6 L251,406.7 L251.6,406.7 L251.6,406.9 L252.2,406.9 L252.2,406.8 L252.8,406.8 L252.8,406.9 L253.4,406.9 L253.4,406.7 L254,406.7 L254,406.8 L254.6,406.8 L254.6,407.1 L255.2,407.1 L255.2,406.7 L255.8,406.7 L255.8,406.8 L256.4,406.8 L256.4,407.1 L257,407.1 L257,407 L257.6,407 L257.6,406.9 L258.2,406.9 L258.2,407 L258.8,407 L258.8,406.6 L259.4,406.6 L259.4,406.5 L260,406.5 L260,406.2 L260.6,406.2 L260.6,406 L261.2,406 L261.2,405.8 L261.8,405.8 L261.8,405.6 L262.4,405.6 L262.4,406 L263,406 L263,406.6 L263.6,406.6 L263.6,407.1 L264,407.1 L264,408 Z" fill="#000"/>
<path d="M215.3,367.1 L215.9,367.1 L215.9,373.4 L216.5,373.4 L216.5,373.9 L217.1,373.9 L217.1,375.3 L217.7,375.3 L217.7,375.6 L218.3,375.6 L218.3,376.6 L218.9,376.6 L218.9,378.2 L219.5,378.2 L219.5,379.8 L220.1,379.8 L220.1,382.3 L220.7,382.3 L220.7,384.6 L221.3,384.6 L221.3,385.5 L221.9,385.5 L221.9,387 L222.5,387 L222.5,387.9 L223.1,387.9 L223.1,389.3 L223.7,389.3 L223.7,390.4 L224.3,390.4 L224.3,390.8 L224.9,390.8 L224.9,391.9 L225.5,391.9 L225.5,392.4 L226.1,392.4 L226.1,393.5 L226.7,393.5 L226.7,394.6 L227.3,394.6 L227.3,395.2 L227.9,395.2 L227.9,395.9 L228.5,395.9 L228.5,396.3 L229.1,396.3 L229.1,396.3 L229.7,396.3 L229.7,397.3 L230.3,397.3 L230.3,397.7 L230.9,397.7 L230.9,397.9 L231.5,397.9 L231.5,398.9 L232.1,398.9 L232.1,399.2 L232.7,399.2 L232.7,399.7 L233.3,399.7 L233.3,400.8 L233.9,400.8 L233.9,401 L234.2,401" fill="none" stroke="#000" stroke-width="1.7" stroke-linejoin="round"/>
<polyline points="195.4,337.4 283,337.4 283,408" fill="none" stroke="#5a5a5a" stroke-width="1.15"/>
<line x1="195.4" y1="337.4" x2="195.4" y2="408.8" stroke="#000" stroke-width="1.6"/>
<line x1="194.6" y1="408" x2="283" y2="408" stroke="#000" stroke-width="1.6"/>
<line x1="193.6" y1="408" x2="195.4" y2="408" stroke="#222" stroke-width="0.7"/>
<line x1="193.6" y1="405.2" x2="195.4" y2="405.2" stroke="#222" stroke-width="0.7"/>
<line x1="193.6" y1="402.4" x2="195.4" y2="402.4" stroke="#222" stroke-width="0.7"/>
<line x1="193.6" y1="399.5" x2="195.4" y2="399.5" stroke="#222" stroke-width="0.7"/>
<line x1="193.6" y1="396.7" x2="195.4" y2="396.7" stroke="#222" stroke-width="0.7"/>
<line x1="193.6" y1="393.9" x2="195.4" y2="393.9" stroke="#222" stroke-width="0.7"/>
<line x1="193.6" y1="391.1" x2="195.4" y2="391.1" stroke="#222" stroke-width="0.7"/>
<line x1="193.6" y1="388.2" x2="195.4" y2="388.2" stroke="#222" stroke-width="0.7"/>
<line x1="193.6" y1="385.4" x2="195.4" y2="385.4" stroke="#222" stroke-width="0.7"/>
<line x1="193.6" y1="382.6" x2="195.4" y2="382.6" stroke="#222" stroke-width="0.7"/>
<line x1="193.6" y1="379.8" x2="195.4" y2="379.8" stroke="#222" stroke-width="0.7"/>
<line x1="193.6" y1="376.9" x2="195.4" y2="376.9" stroke="#222" stroke-width="0.7"/>
<line x1="193.6" y1="374.1" x2="195.4" y2="374.1" stroke="#222" stroke-width="0.7"/>
<line x1="193.6" y1="371.3" x2="195.4" y2="371.3" stroke="#222" stroke-width="0.7"/>
<line x1="193.6" y1="368.5" x2="195.4" y2="368.5" stroke="#222" stroke-width="0.7"/>
<line x1="193.6" y1="365.6" x2="195.4" y2="365.6" stroke="#222" stroke-width="0.7"/>
<line x1="193.6" y1="362.8" x2="195.4" y2="362.8" stroke="#222" stroke-width="0.7"/>
<line x1="193.6" y1="360" x2="195.4" y2="360" stroke="#222" stroke-width="0.7"/>
<line x1="193.6" y1="357.2" x2="195.4" y2="357.2" stroke="#222" stroke-width="0.7"/>
<line x1="193.6" y1="354.3" x2="195.4" y2="354.3" stroke="#222" stroke-width="0.7"/>
<line x1="193.6" y1="351.5" x2="195.4" y2="351.5" stroke="#222" stroke-width="0.7"/>
<line x1="193.6" y1="348.7" x2="195.4" y2="348.7" stroke="#222" stroke-width="0.7"/>
<line x1="193.6" y1="345.9" x2="195.4" y2="345.9" stroke="#222" stroke-width="0.7"/>
<line x1="193.6" y1="343" x2="195.4" y2="343" stroke="#222" stroke-width="0.7"/>
<line x1="193.6" y1="340.2" x2="195.4" y2="340.2" stroke="#222" stroke-width="0.7"/>
<line x1="193.6" y1="337.4" x2="195.4" y2="337.4" stroke="#222" stroke-width="0.7"/>
<line x1="192.4" y1="408" x2="195.4" y2="408" stroke="#000" stroke-width="0.9"/>
<text x="191.2" y="408" transform="rotate(-90 191.2 408)" font-size="5.5" text-anchor="middle" stroke="#000" stroke-width="0.12">0</text>
<line x1="192.4" y1="388" x2="195.4" y2="388" stroke="#000" stroke-width="0.9"/>
<text x="191.2" y="388" transform="rotate(-90 191.2 388)" font-size="5.5" text-anchor="middle" stroke="#000" stroke-width="0.12">10</text>
<line x1="192.4" y1="368" x2="195.4" y2="368" stroke="#000" stroke-width="0.9"/>
<text x="191.2" y="368" transform="rotate(-90 191.2 368)" font-size="5.5" text-anchor="middle" stroke="#000" stroke-width="0.12">20</text>
<line x1="192.4" y1="348" x2="195.4" y2="348" stroke="#000" stroke-width="0.9"/>
<text x="191.2" y="348" transform="rotate(-90 191.2 348)" font-size="5.5" text-anchor="middle" stroke="#000" stroke-width="0.12">30</text>
<text x="185.8" y="373.7" transform="rotate(-90 185.8 373.7)" font-size="5.5" text-anchor="middle" stroke="#000" stroke-width="0.12">Counts</text>
<line x1="195.4" y1="408" x2="195.4" y2="410.4" stroke="#222" stroke-width="0.7"/>
<line x1="202" y1="408" x2="202" y2="409.3" stroke="#222" stroke-width="0.7"/>
<line x1="205.8" y1="408" x2="205.8" y2="409.3" stroke="#222" stroke-width="0.7"/>
<line x1="208.6" y1="408" x2="208.6" y2="409.3" stroke="#222" stroke-width="0.7"/>
<line x1="210.7" y1="408" x2="210.7" y2="409.3" stroke="#222" stroke-width="0.7"/>
<line x1="212.4" y1="408" x2="212.4" y2="409.3" stroke="#222" stroke-width="0.7"/>
<line x1="213.9" y1="408" x2="213.9" y2="409.3" stroke="#222" stroke-width="0.7"/>
<line x1="215.2" y1="408" x2="215.2" y2="409.3" stroke="#222" stroke-width="0.7"/>
<line x1="216.3" y1="408" x2="216.3" y2="409.3" stroke="#222" stroke-width="0.7"/>
<line x1="217.3" y1="408" x2="217.3" y2="410.4" stroke="#222" stroke-width="0.7"/>
<line x1="223.9" y1="408" x2="223.9" y2="409.3" stroke="#222" stroke-width="0.7"/>
<line x1="227.7" y1="408" x2="227.7" y2="409.3" stroke="#222" stroke-width="0.7"/>
<line x1="230.5" y1="408" x2="230.5" y2="409.3" stroke="#222" stroke-width="0.7"/>
<line x1="232.6" y1="408" x2="232.6" y2="409.3" stroke="#222" stroke-width="0.7"/>
<line x1="234.3" y1="408" x2="234.3" y2="409.3" stroke="#222" stroke-width="0.7"/>
<line x1="235.8" y1="408" x2="235.8" y2="409.3" stroke="#222" stroke-width="0.7"/>
<line x1="237.1" y1="408" x2="237.1" y2="409.3" stroke="#222" stroke-width="0.7"/>
<line x1="238.2" y1="408" x2="238.2" y2="409.3" stroke="#222" stroke-width="0.7"/>
<line x1="239.2" y1="408" x2="239.2" y2="410.4" stroke="#222" stroke-width="0.7"/>
<line x1="245.8" y1="408" x2="245.8" y2="409.3" stroke="#222" stroke-width="0.7"/>
<line x1="249.6" y1="408" x2="249.6" y2="409.3" stroke="#222" stroke-width="0.7"/>
<line x1="252.4" y1="408" x2="252.4" y2="409.3" stroke="#222" stroke-width="0.7"/>
<line x1="254.5" y1="408" x2="254.5" y2="409.3" stroke="#222" stroke-width="0.7"/>
<line x1="256.2" y1="408" x2="256.2" y2="409.3" stroke="#222" stroke-width="0.7"/>
<line x1="257.7" y1="408" x2="257.7" y2="409.3" stroke="#222" stroke-width="0.7"/>
<line x1="259" y1="408" x2="259" y2="409.3" stroke="#222" stroke-width="0.7"/>
<line x1="260.1" y1="408" x2="260.1" y2="409.3" stroke="#222" stroke-width="0.7"/>
<line x1="261.1" y1="408" x2="261.1" y2="410.4" stroke="#222" stroke-width="0.7"/>
<line x1="267.7" y1="408" x2="267.7" y2="409.3" stroke="#222" stroke-width="0.7"/>
<line x1="271.5" y1="408" x2="271.5" y2="409.3" stroke="#222" stroke-width="0.7"/>
<line x1="274.3" y1="408" x2="274.3" y2="409.3" stroke="#222" stroke-width="0.7"/>
<line x1="276.4" y1="408" x2="276.4" y2="409.3" stroke="#222" stroke-width="0.7"/>
<line x1="278.1" y1="408" x2="278.1" y2="409.3" stroke="#222" stroke-width="0.7"/>
<line x1="279.6" y1="408" x2="279.6" y2="409.3" stroke="#222" stroke-width="0.7"/>
<line x1="280.9" y1="408" x2="280.9" y2="409.3" stroke="#222" stroke-width="0.7"/>
<line x1="282" y1="408" x2="282" y2="409.3" stroke="#222" stroke-width="0.7"/>
<text x="196" y="417.4" font-size="5.4" text-anchor="middle" stroke="#000" stroke-width="0.15">10<tspan font-size="4.4" dy="-2.6">0</tspan></text>
<text x="217.9" y="417.4" font-size="5.4" text-anchor="middle" stroke="#000" stroke-width="0.15">10<tspan font-size="4.4" dy="-2.6">1</tspan></text>
<text x="239.8" y="417.4" font-size="5.4" text-anchor="middle" stroke="#000" stroke-width="0.15">10<tspan font-size="4.4" dy="-2.6">2</tspan></text>
<text x="261.7" y="417.4" font-size="5.4" text-anchor="middle" stroke="#000" stroke-width="0.15">10<tspan font-size="4.4" dy="-2.6">3</tspan></text>
<text x="283.6" y="417.4" font-size="5.4" text-anchor="middle" stroke="#000" stroke-width="0.15">10<tspan font-size="4.4" dy="-2.6">4</tspan></text>
<path d="M315.2,406.6 L315.2,397.9 L315.8,397.9 L315.8,397.7 L316.4,397.7 L316.4,398.7 L317,398.7 L317,397.1 L317.6,397.1 L317.6,393.7 L318.2,393.7 L318.2,390.3 L318.8,390.3 L318.8,380.3 L319.4,380.3 L319.4,379.3 L320,379.3 L320,382.9 L320.6,382.9 L320.6,383.9 L321.2,383.9 L321.2,380.2 L321.8,380.2 L321.8,375.3 L322.4,375.3 L322.4,369.9 L323,369.9 L323,362.7 L323.6,362.7 L323.6,357.3 L324.2,357.3 L324.2,356.9 L324.8,356.9 L324.8,365.7 L325.4,365.7 L325.4,361.8 L326,361.8 L326,358.3 L326.6,358.3 L326.6,362 L327.2,362 L327.2,364.5 L327.8,364.5 L327.8,364.5 L328.4,364.5 L328.4,363.2 L329,363.2 L329,359.5 L329.6,359.5 L329.6,352.1 L330.2,352.1 L330.2,346.5 L330.8,346.5 L330.8,344.5 L331.4,344.5 L331.4,342.3 L332,342.3 L332,340.7 L332.6,340.7 L332.6,338.7 L333.2,338.7 L333.2,339.3 L333.8,339.3 L333.8,340 L334.4,340 L334.4,342.4 L335,342.4 L335,348 L335.6,348 L335.6,353.6 L336.2,353.6 L336.2,362.9 L336.8,362.9 L336.8,357.4 L337.4,357.4 L337.4,350.9 L338,350.9 L338,354.5 L338.6,354.5 L338.6,362 L339.2,362 L339.2,368.5 L339.8,368.5 L339.8,372.7 L340.4,372.7 L340.4,373.4 L341,373.4 L341,374.5 L341.6,374.5 L341.6,377.6 L342.2,377.6 L342.2,381.4 L342.8,381.4 L342.8,382.5 L343.4,382.5 L343.4,384.1 L344,384.1 L344,385.4 L344.6,385.4 L344.6,388.2 L345.2,388.2 L345.2,390.3 L345.8,390.3 L345.8,391 L346.4,391 L346.4,392.8 L347,392.8 L347,393.5 L347.6,393.5 L347.6,394.8 L348.2,394.8 L348.2,396.2 L348.8,396.2 L348.8,397.5 L349.4,397.5 L349.4,397.2 L350,397.2 L350,397.9 L350.6,397.9 L350.6,398.1 L351.2,398.1 L351.2,398.9 L351.8,398.9 L351.8,399.8 L352.4,399.8 L352.4,400.3 L353,400.3 L353,400.3 L353.6,400.3 L353.6,401 L354.2,401 L354.2,401.9 L354.8,401.9 L354.8,402.1 L355.4,402.1 L355.4,402.2 L356,402.2 L356,402.6 L356.6,402.6 L356.6,402.7 L357.2,402.7 L357.2,403.3 L357.8,403.3 L357.8,403.2 L358.4,403.2 L358.4,403.7 L359,403.7 L359,403.7 L359.6,403.7 L359.6,403.6 L360.2,403.6 L360.2,404 L360.8,404 L360.8,404.1 L361.4,404.1 L361.4,404.5 L362,404.5 L362,404.4 L362.6,404.4 L362.6,404.1 L363.2,404.1 L363.2,404.2 L363.8,404.2 L363.8,404.3 L364.4,404.3 L364.4,404.4 L365,404.4 L365,404.5 L365.6,404.5 L365.6,404.4 L366.2,404.4 L366.2,404.4 L366.8,404.4 L366.8,404.3 L367.4,404.3 L367.4,404.5 L368,404.5 L368,404.5 L368.6,404.5 L368.6,404.3 L369.2,404.3 L369.2,404.6 L369.8,404.6 L369.8,404.8 L370.4,404.8 L370.4,404.4 L371,404.4 L371,404.4 L371.6,404.4 L371.6,404.7 L372.2,404.7 L372.2,404.5 L372.8,404.5 L372.8,404.5 L373.4,404.5 L373.4,404.6 L374,404.6 L374,404.5 L374.6,404.5 L374.6,404.6 L375.2,404.6 L375.2,404.6 L375.8,404.6 L375.8,404.8 L376.4,404.8 L376.4,404.8 L377,404.8 L377,404.4 L377.6,404.4 L377.6,404.6 L378.2,404.6 L378.2,404.7 L378.8,404.7 L378.8,404.8 L379.4,404.8 L379.4,404.7 L380,404.7 L380,404.6 L380.6,404.6 L380.6,404.6 L381.2,404.6 L381.2,404.5 L381.8,404.5 L381.8,404.5 L382.4,404.5 L382.4,404.7 L383,404.7 L383,404.8 L383.6,404.8 L383.6,404.8 L384.2,404.8 L384.2,404.7 L384.8,404.7 L384.8,404.5 L385.4,404.5 L385.4,404.7 L386,404.7 L386,404.7 L386.6,404.7 L386.6,404.6 L387.2,404.6 L387.2,404.6 L387.8,404.6 L387.8,404.5 L388.4,404.5 L388.4,404.6 L389,404.6 L389,404.5 L389.6,404.5 L389.6,404.4 L390.2,404.4 L390.2,404.5 L390.8,404.5 L390.8,404.5 L391.4,404.5 L391.4,404.8 L392,404.8 L392,404.6 L392.6,404.6 L392.6,404.5 L393.2,404.5 L393.2,404.5 L393.8,404.5 L393.8,404.5 L394.4,404.5 L394.4,404.5 L395,404.5 L395,404.4 L395.6,404.4 L395.6,404.4 L396.2,404.4 L396.2,404.8 L396.8,404.8 L396.8,404.6 L397.4,404.6 L397.4,404.6 L398,404.6 L398,404.6 L398.6,404.6 L398.6,404.5 L399.2,404.5 L399.2,404.4 L399.8,404.4 L399.8,404.4 L400.4,404.4 L400.4,404.5 L401,404.5 L401,406.6 Z" fill="#000"/>
<path d="M341.3,379 L341.9,379 L341.9,369.6 L342.5,369.6 L342.5,365.9 L343.1,365.9 L343.1,365.7 L343.7,365.7 L343.7,366 L344.3,366 L344.3,366.3 L344.9,366.3 L344.9,364.9 L345.5,364.9 L345.5,363.5 L346.1,363.5 L346.1,362.6 L346.7,362.6 L346.7,361.7 L347.3,361.7 L347.3,361.1 L347.9,361.1 L347.9,360.8 L348.5,360.8 L348.5,361 L349.1,361 L349.1,366.5 L349.7,366.5 L349.7,371.1 L350.3,371.1 L350.3,374.1 L350.9,374.1 L350.9,377 L351.5,377 L351.5,378.9 L352.1,378.9 L352.1,376.3 L352.7,376.3 L352.7,376 L353.3,376 L353.3,379.8 L353.9,379.8 L353.9,382.3 L354.5,382.3 L354.5,383.6 L355.1,383.6 L355.1,385.3 L355.7,385.3 L355.7,388.5 L356.3,388.5 L356.3,390.8 L356.9,390.8 L356.9,392 L357.5,392 L357.5,393.3 L358.1,393.3 L358.1,394.6 L358.7,394.6 L358.7,395.7 L359.3,395.7 L359.3,397.3 L359.9,397.3 L359.9,399.2 L360.5,399.2 L360.5,401.1 L361.1,401.1 L361.1,402.2 L361.7,402.2 L361.7,402 L362.3,402 L362.3,402.2 L362.9,402.2 L362.9,402.2 L363.5,402.2 L363.5,402.1 L364.1,402.1 L364.1,402.1 L364.7,402.1 L364.7,402.1 L365.3,402.1 L365.3,402.2 L365.9,402.2 L365.9,402.2 L366.5,402.2 L366.5,402.2 L367.1,402.2 L367.1,402.2 L367.7,402.2 L367.7,402.1 L368.3,402.1 L368.3,402.1 L368.9,402.1 L368.9,402.2 L369.5,402.2 L369.5,402.2 L370.1,402.2 L370.1,402.1 L370.7,402.1 L370.7,402.2 L371.3,402.2 L371.3,402.1 L371.9,402.1 L371.9,402 L372.5,402 L372.5,402.1 L373.1,402.1 L373.1,402 L373.7,402 L373.7,402.2 L374.3,402.2 L374.3,402.1 L374.9,402.1 L374.9,402.1 L375.5,402.1 L375.5,402.2 L376.1,402.2 L376.1,402.1 L376.7,402.1 L376.7,402.1 L377.3,402.1 L377.3,402 L377.9,402 L377.9,402.2 L378.5,402.2 L378.5,402.2 L379.1,402.2 L379.1,402.3 L379.7,402.3 L379.7,402 L380.3,402 L380.3,397.6 L380.9,397.6 L380.9,397.7 L381.5,397.7 L381.5,397.5 L382.1,397.5 L382.1,401.1 L382.7,401.1 L382.7,402.1 L383.3,402.1 L383.3,402.1 L383.9,402.1 L383.9,402.2 L384.5,402.2 L384.5,399.3 L385.1,399.3 L385.1,397.7 L385.7,397.7 L385.7,397.5 L386.3,397.5 L386.3,402.2 L386.9,402.2 L386.9,402.2 L387.5,402.2 L387.5,402.2 L388.1,402.2 L388.1,402.2 L388.7,402.2 L388.7,402.2 L389.3,402.2 L389.3,402.1 L389.9,402.1 L389.9,402.2 L390.5,402.2 L390.5,402.1 L391.1,402.1 L391.1,398.6 L391.7,398.6 L391.7,397.7 L392.3,397.7 L392.3,397.7 L392.9,397.7 L392.9,399.3 L393.5,399.3 L393.5,402.2 L394.1,402.2 L394.1,402.3 L394.7,402.3 L394.7,402.1 L395.3,402.1 L395.3,402.1 L395.9,402.1 L395.9,402.2 L396.5,402.2 L396.5,402.3 L397.1,402.3 L397.1,398.4 L397.7,398.4 L397.7,397.4 L398.3,397.4 L398.3,397.6 L398.9,397.6 L398.9,399.5 L399.5,399.5 L399.5,402.2 L400.1,402.2 L400.1,402.1 L400.7,402.1 L400.7,402.3 L401,402.3" fill="none" stroke="#000" stroke-width="1.7" stroke-linejoin="round"/>
<line x1="401.2" y1="367" x2="401.2" y2="406.6" stroke="#000" stroke-width="1.4"/>
<polyline points="315,337.4 401.4,337.4 401.4,406.6" fill="none" stroke="#5a5a5a" stroke-width="1.15"/>
<line x1="315" y1="337.4" x2="315" y2="407.4" stroke="#000" stroke-width="1.6"/>
<line x1="314.2" y1="406.6" x2="401.4" y2="406.6" stroke="#000" stroke-width="1.6"/>
<line x1="313.2" y1="406.6" x2="315" y2="406.6" stroke="#222" stroke-width="0.7"/>
<line x1="313.2" y1="403.8" x2="315" y2="403.8" stroke="#222" stroke-width="0.7"/>
<line x1="313.2" y1="401.1" x2="315" y2="401.1" stroke="#222" stroke-width="0.7"/>
<line x1="313.2" y1="398.3" x2="315" y2="398.3" stroke="#222" stroke-width="0.7"/>
<line x1="313.2" y1="395.5" x2="315" y2="395.5" stroke="#222" stroke-width="0.7"/>
<line x1="313.2" y1="392.8" x2="315" y2="392.8" stroke="#222" stroke-width="0.7"/>
<line x1="313.2" y1="390" x2="315" y2="390" stroke="#222" stroke-width="0.7"/>
<line x1="313.2" y1="387.2" x2="315" y2="387.2" stroke="#222" stroke-width="0.7"/>
<line x1="313.2" y1="384.5" x2="315" y2="384.5" stroke="#222" stroke-width="0.7"/>
<line x1="313.2" y1="381.7" x2="315" y2="381.7" stroke="#222" stroke-width="0.7"/>
<line x1="313.2" y1="378.9" x2="315" y2="378.9" stroke="#222" stroke-width="0.7"/>
<line x1="313.2" y1="376.2" x2="315" y2="376.2" stroke="#222" stroke-width="0.7"/>
<line x1="313.2" y1="373.4" x2="315" y2="373.4" stroke="#222" stroke-width="0.7"/>
<line x1="313.2" y1="370.6" x2="315" y2="370.6" stroke="#222" stroke-width="0.7"/>
<line x1="313.2" y1="367.8" x2="315" y2="367.8" stroke="#222" stroke-width="0.7"/>
<line x1="313.2" y1="365.1" x2="315" y2="365.1" stroke="#222" stroke-width="0.7"/>
<line x1="313.2" y1="362.3" x2="315" y2="362.3" stroke="#222" stroke-width="0.7"/>
<line x1="313.2" y1="359.5" x2="315" y2="359.5" stroke="#222" stroke-width="0.7"/>
<line x1="313.2" y1="356.8" x2="315" y2="356.8" stroke="#222" stroke-width="0.7"/>
<line x1="313.2" y1="354" x2="315" y2="354" stroke="#222" stroke-width="0.7"/>
<line x1="313.2" y1="351.2" x2="315" y2="351.2" stroke="#222" stroke-width="0.7"/>
<line x1="313.2" y1="348.5" x2="315" y2="348.5" stroke="#222" stroke-width="0.7"/>
<line x1="313.2" y1="345.7" x2="315" y2="345.7" stroke="#222" stroke-width="0.7"/>
<line x1="313.2" y1="342.9" x2="315" y2="342.9" stroke="#222" stroke-width="0.7"/>
<line x1="313.2" y1="340.2" x2="315" y2="340.2" stroke="#222" stroke-width="0.7"/>
<line x1="313.2" y1="337.4" x2="315" y2="337.4" stroke="#222" stroke-width="0.7"/>
<line x1="312" y1="406.6" x2="315" y2="406.6" stroke="#000" stroke-width="0.9"/>
<text x="310.8" y="406.6" transform="rotate(-90 310.8 406.6)" font-size="5.5" text-anchor="middle" stroke="#000" stroke-width="0.12">0</text>
<line x1="312" y1="383.7" x2="315" y2="383.7" stroke="#000" stroke-width="0.9"/>
<text x="310.8" y="383.7" transform="rotate(-90 310.8 383.7)" font-size="5.5" text-anchor="middle" stroke="#000" stroke-width="0.12">5</text>
<line x1="312" y1="360.8" x2="315" y2="360.8" stroke="#000" stroke-width="0.9"/>
<text x="310.8" y="360.8" transform="rotate(-90 310.8 360.8)" font-size="5.5" text-anchor="middle" stroke="#000" stroke-width="0.12">10</text>
<line x1="312" y1="337.9" x2="315" y2="337.9" stroke="#000" stroke-width="0.9"/>
<text x="310.8" y="337.9" transform="rotate(-90 310.8 337.9)" font-size="5.5" text-anchor="middle" stroke="#000" stroke-width="0.12">15</text>
<text x="305.4" y="373" transform="rotate(-90 305.4 373)" font-size="5.5" text-anchor="middle" stroke="#000" stroke-width="0.12">Counts</text>
<line x1="315" y1="406.6" x2="315" y2="409" stroke="#222" stroke-width="0.7"/>
<line x1="321.5" y1="406.6" x2="321.5" y2="407.9" stroke="#222" stroke-width="0.7"/>
<line x1="325.3" y1="406.6" x2="325.3" y2="407.9" stroke="#222" stroke-width="0.7"/>
<line x1="328" y1="406.6" x2="328" y2="407.9" stroke="#222" stroke-width="0.7"/>
<line x1="330.1" y1="406.6" x2="330.1" y2="407.9" stroke="#222" stroke-width="0.7"/>
<line x1="331.8" y1="406.6" x2="331.8" y2="407.9" stroke="#222" stroke-width="0.7"/>
<line x1="333.3" y1="406.6" x2="333.3" y2="407.9" stroke="#222" stroke-width="0.7"/>
<line x1="334.5" y1="406.6" x2="334.5" y2="407.9" stroke="#222" stroke-width="0.7"/>
<line x1="335.6" y1="406.6" x2="335.6" y2="407.9" stroke="#222" stroke-width="0.7"/>
<line x1="336.6" y1="406.6" x2="336.6" y2="409" stroke="#222" stroke-width="0.7"/>
<line x1="343.1" y1="406.6" x2="343.1" y2="407.9" stroke="#222" stroke-width="0.7"/>
<line x1="346.9" y1="406.6" x2="346.9" y2="407.9" stroke="#222" stroke-width="0.7"/>
<line x1="349.6" y1="406.6" x2="349.6" y2="407.9" stroke="#222" stroke-width="0.7"/>
<line x1="351.7" y1="406.6" x2="351.7" y2="407.9" stroke="#222" stroke-width="0.7"/>
<line x1="353.4" y1="406.6" x2="353.4" y2="407.9" stroke="#222" stroke-width="0.7"/>
<line x1="354.9" y1="406.6" x2="354.9" y2="407.9" stroke="#222" stroke-width="0.7"/>
<line x1="356.1" y1="406.6" x2="356.1" y2="407.9" stroke="#222" stroke-width="0.7"/>
<line x1="357.2" y1="406.6" x2="357.2" y2="407.9" stroke="#222" stroke-width="0.7"/>
<line x1="358.2" y1="406.6" x2="358.2" y2="409" stroke="#222" stroke-width="0.7"/>
<line x1="364.7" y1="406.6" x2="364.7" y2="407.9" stroke="#222" stroke-width="0.7"/>
<line x1="368.5" y1="406.6" x2="368.5" y2="407.9" stroke="#222" stroke-width="0.7"/>
<line x1="371.2" y1="406.6" x2="371.2" y2="407.9" stroke="#222" stroke-width="0.7"/>
<line x1="373.3" y1="406.6" x2="373.3" y2="407.9" stroke="#222" stroke-width="0.7"/>
<line x1="375" y1="406.6" x2="375" y2="407.9" stroke="#222" stroke-width="0.7"/>
<line x1="376.5" y1="406.6" x2="376.5" y2="407.9" stroke="#222" stroke-width="0.7"/>
<line x1="377.7" y1="406.6" x2="377.7" y2="407.9" stroke="#222" stroke-width="0.7"/>
<line x1="378.8" y1="406.6" x2="378.8" y2="407.9" stroke="#222" stroke-width="0.7"/>
<line x1="379.8" y1="406.6" x2="379.8" y2="409" stroke="#222" stroke-width="0.7"/>
<line x1="386.3" y1="406.6" x2="386.3" y2="407.9" stroke="#222" stroke-width="0.7"/>
<line x1="390.1" y1="406.6" x2="390.1" y2="407.9" stroke="#222" stroke-width="0.7"/>
<line x1="392.8" y1="406.6" x2="392.8" y2="407.9" stroke="#222" stroke-width="0.7"/>
<line x1="394.9" y1="406.6" x2="394.9" y2="407.9" stroke="#222" stroke-width="0.7"/>
<line x1="396.6" y1="406.6" x2="396.6" y2="407.9" stroke="#222" stroke-width="0.7"/>
<line x1="398.1" y1="406.6" x2="398.1" y2="407.9" stroke="#222" stroke-width="0.7"/>
<line x1="399.3" y1="406.6" x2="399.3" y2="407.9" stroke="#222" stroke-width="0.7"/>
<line x1="400.4" y1="406.6" x2="400.4" y2="407.9" stroke="#222" stroke-width="0.7"/>
<text x="315.6" y="416" font-size="5.4" text-anchor="middle" stroke="#000" stroke-width="0.15">10<tspan font-size="4.4" dy="-2.6">0</tspan></text>
<text x="337.2" y="416" font-size="5.4" text-anchor="middle" stroke="#000" stroke-width="0.15">10<tspan font-size="4.4" dy="-2.6">1</tspan></text>
<text x="358.8" y="416" font-size="5.4" text-anchor="middle" stroke="#000" stroke-width="0.15">10<tspan font-size="4.4" dy="-2.6">2</tspan></text>
<text x="380.4" y="416" font-size="5.4" text-anchor="middle" stroke="#000" stroke-width="0.15">10<tspan font-size="4.4" dy="-2.6">3</tspan></text>
<text x="402" y="416" font-size="5.4" text-anchor="middle" stroke="#000" stroke-width="0.15">10<tspan font-size="4.4" dy="-2.6">4</tspan></text>
<path d="M429.3,407.4 L429.3,346.3 L429.9,346.3 L429.9,349.5 L430.5,349.5 L430.5,351.8 L431.1,351.8 L431.1,354.1 L431.7,354.1 L431.7,355.6 L432.3,355.6 L432.3,352.5 L432.9,352.5 L432.9,349.8 L433.5,349.8 L433.5,346.9 L434.1,346.9 L434.1,344.8 L434.7,344.8 L434.7,348.6 L435.3,348.6 L435.3,351.5 L435.9,351.5 L435.9,354.9 L436.5,354.9 L436.5,358.5 L437.1,358.5 L437.1,362.2 L437.7,362.2 L437.7,365.3 L438.3,365.3 L438.3,367.8 L438.9,367.8 L438.9,370.7 L439.5,370.7 L439.5,374.2 L440.1,374.2 L440.1,377.9 L440.7,377.9 L440.7,382.6 L441.3,382.6 L441.3,385.8 L441.9,385.8 L441.9,388.9 L442.5,388.9 L442.5,391.6 L443.1,391.6 L443.1,394.4 L443.7,394.4 L443.7,396.5 L444.3,396.5 L444.3,398.3 L444.9,398.3 L444.9,400.4 L445.5,400.4 L445.5,401.3 L446.1,401.3 L446.1,402.4 L446.7,402.4 L446.7,402.9 L447.3,402.9 L447.3,403.9 L447.9,403.9 L447.9,404.1 L448.5,404.1 L448.5,404.6 L449.1,404.6 L449.1,404.6 L449.7,404.6 L449.7,405.1 L450.3,405.1 L450.3,405.3 L450.9,405.3 L450.9,405.6 L451.5,405.6 L451.5,405.7 L452.1,405.7 L452.1,405.8 L452.7,405.8 L452.7,405.9 L453.3,405.9 L453.3,406 L453.9,406 L453.9,406.2 L454.5,406.2 L454.5,406.4 L455.1,406.4 L455.1,406.4 L455.7,406.4 L455.7,406.5 L456.3,406.5 L456.3,406.6 L456.9,406.6 L456.9,406.6 L457.5,406.6 L457.5,406.7 L458.1,406.7 L458.1,406.8 L458.7,406.8 L458.7,406.9 L459.3,406.9 L459.3,406.9 L459.9,406.9 L459.9,407 L460,407 L460,407.4 Z" fill="#000"/>
<path d="M439.2,371.8 L439.8,371.8 L439.8,370.9 L440.4,370.9 L440.4,370.2 L441,370.2 L441,368.9 L441.6,368.9 L441.6,367.6 L442.2,367.6 L442.2,363.9 L442.8,363.9 L442.8,359 L443.4,359 L443.4,354.9 L444,354.9 L444,350.5 L444.6,350.5 L444.6,349.2 L445.2,349.2 L445.2,348.9 L445.8,348.9 L445.8,349.2 L446.4,349.2 L446.4,351.5 L447,351.5 L447,348.9 L447.6,348.9 L447.6,343.6 L448.2,343.6 L448.2,348.2 L448.8,348.2 L448.8,352.5 L449.4,352.5 L449.4,354.9 L450,354.9 L450,354.2 L450.6,354.2 L450.6,348.5 L451.2,348.5 L451.2,345.7 L451.8,345.7 L451.8,344.4 L452.4,344.4 L452.4,348.6 L453,348.6 L453,353.5 L453.6,353.5 L453.6,360.9 L454.2,360.9 L454.2,367.2 L454.8,367.2 L454.8,370 L455.4,370 L455.4,373.2 L456,373.2 L456,376.2 L456.6,376.2 L456.6,378.9 L457.2,378.9 L457.2,382.2 L457.8,382.2 L457.8,385.3 L458.4,385.3 L458.4,388 L459,388 L459,390.9 L459.6,390.9 L459.6,393.9 L460.2,393.9 L460.2,396.3 L460.8,396.3 L460.8,397.8 L461.4,397.8 L461.4,400 L462,400 L462,401 L462.6,401 L462.6,402.3 L463.2,402.3 L463.2,403.4 L463.8,403.4 L463.8,404 L464.4,404 L464.4,404.4 L465,404.4 L465,404.6 L465.6,404.6 L465.6,404.9 L466.2,404.9 L466.2,405.3 L466.8,405.3 L466.8,405.4 L467.4,405.4 L467.4,405.5 L468,405.5 L468,405.7 L468.6,405.7 L468.6,405.6 L469.2,405.6 L469.2,405.8 L469.8,405.8 L469.8,406 L470.4,406 L470.4,406 L471,406 L471,405.9 L471.6,405.9 L471.6,406 L472.2,406 L472.2,406 L472.8,406 L472.8,406.1 L473.4,406.1 L473.4,406.1 L474,406.1 L474,406.1 L474.6,406.1 L474.6,406.2 L475.2,406.2 L475.2,406.2 L475.8,406.2 L475.8,406.3 L476.4,406.3 L476.4,406.2 L477,406.2 L477,406.3 L477.6,406.3 L477.6,406.3 L478.2,406.3 L478.2,406.3 L478.8,406.3 L478.8,406.3 L479.4,406.3 L479.4,406.3 L480,406.3 L480,406.2 L480.6,406.2 L480.6,406.3 L481.2,406.3 L481.2,406.3 L481.8,406.3 L481.8,406.2 L482.4,406.2 L482.4,406.2 L483,406.2 L483,406.3 L483.6,406.3 L483.6,406.3 L484.2,406.3 L484.2,406.2 L484.8,406.2 L484.8,406.2 L485.4,406.2 L485.4,406.4 L486,406.4 L486,406.4 L486.6,406.4 L486.6,406.4 L487.2,406.4 L487.2,406.5 L487.8,406.5 L487.8,406.6 L488.4,406.6 L488.4,406.6 L489,406.6 L489,406.7 L489.6,406.7 L489.6,406.8 L490.2,406.8 L490.2,406.8 L490.8,406.8 L490.8,406.8 L491.4,406.8 L491.4,406.8 L492,406.8 L492,406.8 L492.6,406.8 L492.6,406.8 L493.2,406.8 L493.2,406.8 L493.8,406.8 L493.8,406.8 L494.4,406.8 L494.4,406.8 L495,406.8 L495,406.8 L495.6,406.8 L495.6,406.9 L496.2,406.9 L496.2,406.9 L496.8,406.9 L496.8,406.9 L497.4,406.9 L497.4,406.9 L498,406.9 L498,406.9 L498.6,406.9 L498.6,406.9 L499.2,406.9 L499.2,406.9 L499.8,406.9 L499.8,406.9 L500.4,406.9 L500.4,406.9 L501,406.9 L501,406.9 L501.6,406.9 L501.6,406.9 L502.2,406.9 L502.2,406.9 L502.8,406.9 L502.8,406.9 L503.4,406.9 L503.4,406.9 L504,406.9 L504,406.9 L504.6,406.9 L504.6,406.9 L505.2,406.9 L505.2,406.9 L505.8,406.9 L505.8,406.9 L506.4,406.9 L506.4,406.9 L507,406.9 L507,407 L507.6,407 L507.6,407 L508.2,407 L508.2,407 L508.8,407 L508.8,407 L509.4,407 L509.4,407 L510,407 L510,407 L510.6,407 L510.6,407 L511.2,407 L511.2,407 L511.8,407 L511.8,407 L512.4,407 L512.4,407 L513,407" fill="none" stroke="#000" stroke-width="0.9" stroke-linejoin="round"/>
<rect x="429" y="338.4" width="84.4" height="69" fill="none" stroke="#111" stroke-width="1.1"/>
<line x1="427.5" y1="407.4" x2="429" y2="407.4" stroke="#000" stroke-width="0.6"/>
<text x="427.2" y="408.8" font-size="4.2" text-anchor="end" stroke="#000" stroke-width="0.1">0</text>
<line x1="427.5" y1="393.6" x2="429" y2="393.6" stroke="#000" stroke-width="0.6"/>
<text x="427.2" y="395" font-size="4.2" text-anchor="end" stroke="#000" stroke-width="0.1">20</text>
<line x1="427.5" y1="379.8" x2="429" y2="379.8" stroke="#000" stroke-width="0.6"/>
<text x="427.2" y="381.2" font-size="4.2" text-anchor="end" stroke="#000" stroke-width="0.1">40</text>
<line x1="427.5" y1="366" x2="429" y2="366" stroke="#000" stroke-width="0.6"/>
<text x="427.2" y="367.4" font-size="4.2" text-anchor="end" stroke="#000" stroke-width="0.1">60</text>
<line x1="427.5" y1="352.2" x2="429" y2="352.2" stroke="#000" stroke-width="0.6"/>
<text x="427.2" y="353.6" font-size="4.2" text-anchor="end" stroke="#000" stroke-width="0.1">80</text>
<line x1="427.5" y1="338.4" x2="429" y2="338.4" stroke="#000" stroke-width="0.6"/>
<text x="427.2" y="339.8" font-size="4.2" text-anchor="end" stroke="#000" stroke-width="0.1">100</text>
<text x="418.8" y="373.9" transform="rotate(-90 418.8 373.9)" font-size="6" text-anchor="middle" stroke="#000" stroke-width="0.15">Counts</text>
<line x1="429" y1="407.4" x2="429" y2="408.9" stroke="#000" stroke-width="0.6"/>
<text x="429.5" y="413" font-size="4" text-anchor="middle" stroke="#000" stroke-width="0.1">10<tspan font-size="3" dy="-1.4">0</tspan></text>
<line x1="450.1" y1="407.4" x2="450.1" y2="408.9" stroke="#000" stroke-width="0.6"/>
<text x="450.6" y="413" font-size="4" text-anchor="middle" stroke="#000" stroke-width="0.1">10<tspan font-size="3" dy="-1.4">1</tspan></text>
<line x1="471.2" y1="407.4" x2="471.2" y2="408.9" stroke="#000" stroke-width="0.6"/>
<text x="471.7" y="413" font-size="4" text-anchor="middle" stroke="#000" stroke-width="0.1">10<tspan font-size="3" dy="-1.4">2</tspan></text>
<line x1="492.3" y1="407.4" x2="492.3" y2="408.9" stroke="#000" stroke-width="0.6"/>
<text x="492.8" y="413" font-size="4" text-anchor="middle" stroke="#000" stroke-width="0.1">10<tspan font-size="3" dy="-1.4">3</tspan></text>
<line x1="513.4" y1="407.4" x2="513.4" y2="408.9" stroke="#000" stroke-width="0.6"/>
<text x="513.9" y="413" font-size="4" text-anchor="middle" stroke="#000" stroke-width="0.1">10<tspan font-size="3" dy="-1.4">4</tspan></text>
<path d="M84,494 L84,481.6 L84.6,481.6 L84.6,480.3 L85.2,480.3 L85.2,479.3 L85.8,479.3 L85.8,478.1 L86.4,478.1 L86.4,476.1 L87,476.1 L87,474.3 L87.6,474.3 L87.6,473 L88.2,473 L88.2,471.1 L88.8,471.1 L88.8,469.8 L89.4,469.8 L89.4,468.4 L90,468.4 L90,466.8 L90.6,466.8 L90.6,465.6 L91.2,465.6 L91.2,463.9 L91.8,463.9 L91.8,461.5 L92.4,461.5 L92.4,459.1 L93,459.1 L93,456.7 L93.6,456.7 L93.6,454.5 L94.2,454.5 L94.2,451.9 L94.8,451.9 L94.8,450 L95.4,450 L95.4,448 L96,448 L96,446.2 L96.6,446.2 L96.6,444.4 L97.2,444.4 L97.2,442.9 L97.8,442.9 L97.8,439.5 L98.4,439.5 L98.4,436.6 L99,436.6 L99,434.1 L99.6,434.1 L99.6,431.2 L100.2,431.2 L100.2,429.3 L100.8,429.3 L100.8,431.7 L101.4,431.7 L101.4,436.5 L102,436.5 L102,438 L102.6,438 L102.6,438.1 L103.2,438.1 L103.2,439.8 L103.8,439.8 L103.8,441.8 L104.4,441.8 L104.4,445.8 L105,445.8 L105,451.8 L105.6,451.8 L105.6,458.5 L106.2,458.5 L106.2,465.8 L106.8,465.8 L106.8,471.2 L107.4,471.2 L107.4,476.7 L108,476.7 L108,481 L108.6,481 L108.6,486 L109.2,486 L109.2,489.2 L109.8,489.2 L109.8,491.4 L110.4,491.4 L110.4,492.5 L111,492.5 L111,493.2 L111.1,493.2 L111.1,494 Z" fill="#000"/>
<path d="M111.1,494 L111.7,494 L111.7,494 L112.3,494 L112.3,494 L112.9,494 L112.9,494 L113.5,494 L113.5,494 L114.1,494 L114.1,494 L114.7,494 L114.7,494 L115.3,494 L115.3,494 L115.9,494 L115.9,494 L116.5,494 L116.5,494 L117.1,494 L117.1,494 L117.7,494 L117.7,493.9 L118.3,493.9 L118.3,493.8 L118.9,493.8 L118.9,493.7 L119.5,493.7 L119.5,493.7 L120.1,493.7 L120.1,493.6 L120.7,493.6 L120.7,493.5 L121.3,493.5 L121.3,493.4 L121.9,493.4 L121.9,493.2 L122.5,493.2 L122.5,492.9 L123.1,492.9 L123.1,492.7 L123.7,492.7 L123.7,492.2 L124.3,492.2 L124.3,492 L124.9,492 L124.9,491.8 L125.5,491.8 L125.5,491.4 L126.1,491.4 L126.1,491.1 L126.7,491.1 L126.7,490.9 L127.3,490.9 L127.3,490.5 L127.9,490.5 L127.9,490.3 L128.5,490.3 L128.5,490 L129.1,490 L129.1,488.8 L129.7,488.8 L129.7,486.3 L130.3,486.3 L130.3,483.5 L130.9,483.5 L130.9,480.8 L131.5,480.8 L131.5,478.8 L132.1,478.8 L132.1,476.9 L132.7,476.9 L132.7,474.7 L133.3,474.7 L133.3,472.5 L133.9,472.5 L133.9,468.2 L134.5,468.2 L134.5,463.7 L135.1,463.7 L135.1,461.8 L135.7,461.8 L135.7,460.1 L136.3,460.1 L136.3,458.8 L136.9,458.8 L136.9,456.5 L137.5,456.5 L137.5,452 L138.1,452 L138.1,447.2 L138.7,447.2 L138.7,442.4 L139.3,442.4 L139.3,437.3 L139.9,437.3 L139.9,432.7 L140.5,432.7 L140.5,429.2 L141.1,429.2 L141.1,429.4 L141.7,429.4 L141.7,431.9 L142.3,431.9 L142.3,435.7 L142.9,435.7 L142.9,440.1 L143.5,440.1 L143.5,444.2 L144.1,444.2 L144.1,448.5 L144.7,448.5 L144.7,453.1 L145.3,453.1 L145.3,457.6 L145.9,457.6 L145.9,462.2 L146.5,462.2 L146.5,466.5 L147.1,466.5 L147.1,470.2 L147.7,470.2 L147.7,474 L148.3,474 L148.3,477.7 L148.9,477.7 L148.9,481.9 L149.5,481.9 L149.5,484.2 L150.1,484.2 L150.1,485.4 L150.7,485.4 L150.7,486.4 L151.3,486.4 L151.3,487.6 L151.9,487.6 L151.9,488.6 L152.5,488.6 L152.5,489.6 L153.1,489.6 L153.1,490.6 L153.7,490.6 L153.7,491.5 L154.3,491.5 L154.3,492 L154.9,492 L154.9,492.6 L155.5,492.6 L155.5,493.2 L156.1,493.2 L156.1,493.5 L156.7,493.5 L156.7,493.7 L157.3,493.7 L157.3,493.9 L157.9,493.9 L157.9,494 L158.5,494 L158.5,494 L159.1,494 L159.1,494 L159.7,494 L159.7,494 L160.3,494 L160.3,494 L160.9,494 L160.9,494 L161.5,494 L161.5,494 L162.1,494 L162.1,494 L162.7,494 L162.7,494 L163.3,494 L163.3,494 L163.9,494 L163.9,494 L164.5,494 L164.5,494 L165.1,494 L165.1,494 L165.7,494 L165.7,494 L166,494" fill="none" stroke="#000" stroke-width="0.9" stroke-linejoin="round"/>
<rect x="83.4" y="423.6" width="83" height="70.4" fill="none" stroke="#111" stroke-width="1.1"/>
<line x1="81.9" y1="494" x2="83.4" y2="494" stroke="#000" stroke-width="0.6"/>
<text x="81.6" y="495.4" font-size="4.2" text-anchor="end" stroke="#000" stroke-width="0.1">0</text>
<line x1="81.9" y1="479.9" x2="83.4" y2="479.9" stroke="#000" stroke-width="0.6"/>
<text x="81.6" y="481.3" font-size="4.2" text-anchor="end" stroke="#000" stroke-width="0.1">20</text>
<line x1="81.9" y1="465.8" x2="83.4" y2="465.8" stroke="#000" stroke-width="0.6"/>
<text x="81.6" y="467.2" font-size="4.2" text-anchor="end" stroke="#000" stroke-width="0.1">40</text>
<line x1="81.9" y1="451.8" x2="83.4" y2="451.8" stroke="#000" stroke-width="0.6"/>
<text x="81.6" y="453.2" font-size="4.2" text-anchor="end" stroke="#000" stroke-width="0.1">60</text>
<line x1="81.9" y1="437.7" x2="83.4" y2="437.7" stroke="#000" stroke-width="0.6"/>
<text x="81.6" y="439.1" font-size="4.2" text-anchor="end" stroke="#000" stroke-width="0.1">80</text>
<line x1="81.9" y1="423.6" x2="83.4" y2="423.6" stroke="#000" stroke-width="0.6"/>
<text x="81.6" y="425" font-size="4.2" text-anchor="end" stroke="#000" stroke-width="0.1">100</text>
<text x="73.2" y="459.8" transform="rotate(-90 73.2 459.8)" font-size="6" text-anchor="middle" stroke="#000" stroke-width="0.15">Counts</text>
<line x1="83.4" y1="494" x2="83.4" y2="495.5" stroke="#000" stroke-width="0.6"/>
<text x="83.9" y="499.6" font-size="4" text-anchor="middle" stroke="#000" stroke-width="0.1">10<tspan font-size="3" dy="-1.4">0</tspan></text>
<line x1="104.2" y1="494" x2="104.2" y2="495.5" stroke="#000" stroke-width="0.6"/>
<text x="104.7" y="499.6" font-size="4" text-anchor="middle" stroke="#000" stroke-width="0.1">10<tspan font-size="3" dy="-1.4">1</tspan></text>
<line x1="124.9" y1="494" x2="124.9" y2="495.5" stroke="#000" stroke-width="0.6"/>
<text x="125.4" y="499.6" font-size="4" text-anchor="middle" stroke="#000" stroke-width="0.1">10<tspan font-size="3" dy="-1.4">2</tspan></text>
<line x1="145.7" y1="494" x2="145.7" y2="495.5" stroke="#000" stroke-width="0.6"/>
<text x="146.2" y="499.6" font-size="4" text-anchor="middle" stroke="#000" stroke-width="0.1">10<tspan font-size="3" dy="-1.4">3</tspan></text>
<line x1="166.4" y1="494" x2="166.4" y2="495.5" stroke="#000" stroke-width="0.6"/>
<text x="166.9" y="499.6" font-size="4" text-anchor="middle" stroke="#000" stroke-width="0.1">10<tspan font-size="3" dy="-1.4">4</tspan></text>
<path d="M198,494.4 L198,479.5 L198.6,479.5 L198.6,478.9 L199.2,478.9 L199.2,478.5 L199.8,478.5 L199.8,477.1 L200.4,477.1 L200.4,475.2 L201,475.2 L201,473.6 L201.6,473.6 L201.6,472.2 L202.2,472.2 L202.2,470.9 L202.8,470.9 L202.8,469.2 L203.4,469.2 L203.4,468.5 L204,468.5 L204,466.8 L204.6,466.8 L204.6,464.5 L205.2,464.5 L205.2,461.8 L205.8,461.8 L205.8,459.9 L206.4,459.9 L206.4,457.9 L207,457.9 L207,456 L207.6,456 L207.6,453.8 L208.2,453.8 L208.2,452.4 L208.8,452.4 L208.8,451.1 L209.4,451.1 L209.4,449.1 L210,449.1 L210,447.1 L210.6,447.1 L210.6,445.1 L211.2,445.1 L211.2,442.2 L211.8,442.2 L211.8,439.4 L212.4,439.4 L212.4,436.4 L213,436.4 L213,434.1 L213.6,434.1 L213.6,430.7 L214.2,430.7 L214.2,431 L214.8,431 L214.8,436.3 L215.4,436.3 L215.4,438.6 L216,438.6 L216,439.4 L216.6,439.4 L216.6,440.3 L217.2,440.3 L217.2,444.5 L217.8,444.5 L217.8,449.2 L218.4,449.2 L218.4,454.9 L219,454.9 L219,461.7 L219.6,461.7 L219.6,468.1 L220.2,468.1 L220.2,473.6 L220.8,473.6 L220.8,478 L221.4,478 L221.4,482.5 L222,482.5 L222,485.9 L222.6,485.9 L222.6,489.1 L223.2,489.1 L223.2,490 L223.8,490 L223.8,491.2 L224.4,491.2 L224.4,492.1 L225,492.1 L225,492.9 L225.6,492.9 L225.6,493.2 L226.2,493.2 L226.2,493.5 L226.8,493.5 L226.8,493.7 L227.4,493.7 L227.4,493.9 L228,493.9 L228,494.4 Z" fill="#000"/>
<path d="M219.6,460.2 L220.2,460.2 L220.2,455.5 L220.8,455.5 L220.8,451.3 L221.4,451.3 L221.4,448.3 L222,448.3 L222,445.1 L222.6,445.1 L222.6,442.1 L223.2,442.1 L223.2,439.6 L223.8,439.6 L223.8,436.4 L224.4,436.4 L224.4,433.4 L225,433.4 L225,430.9 L225.6,430.9 L225.6,429.8 L226.2,429.8 L226.2,428.5 L226.8,428.5 L226.8,429.3 L227.4,429.3 L227.4,430.7 L228,430.7 L228,434.4 L228.6,434.4 L228.6,438.7 L229.2,438.7 L229.2,439.5 L229.8,439.5 L229.8,439.9 L230.4,439.9 L230.4,442.8 L231,442.8 L231,445.9 L231.6,445.9 L231.6,454.4 L232.2,454.4 L232.2,461.9 L232.8,461.9 L232.8,466.7 L233.4,466.7 L233.4,470.3 L234,470.3 L234,474.2 L234.6,474.2 L234.6,478.6 L235.2,478.6 L235.2,484.9 L235.8,484.9 L235.8,486.8 L236.4,486.8 L236.4,488.2 L237,488.2 L237,489 L237.6,489 L237.6,489.4 L238.2,489.4 L238.2,489.8 L238.8,489.8 L238.8,490 L239.4,490 L239.4,490.4 L240,490.4 L240,490.8 L240.6,490.8 L240.6,491.3 L241.2,491.3 L241.2,491.5 L241.8,491.5 L241.8,491.7 L242.4,491.7 L242.4,491.8 L243,491.8 L243,491.7 L243.6,491.7 L243.6,491.7 L244.2,491.7 L244.2,491.8 L244.8,491.8 L244.8,492.1 L245.4,492.1 L245.4,492.5 L246,492.5 L246,492.9 L246.6,492.9 L246.6,493.3 L247.2,493.3 L247.2,493.3 L247.8,493.3 L247.8,493.3 L248.4,493.3 L248.4,493.4 L249,493.4 L249,493.4 L249.6,493.4 L249.6,493.4 L250.2,493.4 L250.2,493.5 L250.8,493.5 L250.8,493.5 L251.4,493.5 L251.4,493.5 L252,493.5 L252,493.6 L252.6,493.6 L252.6,493.6 L253.2,493.6 L253.2,493.7 L253.8,493.7 L253.8,493.7 L254.4,493.7 L254.4,493.7 L255,493.7 L255,493.8 L255.6,493.8 L255.6,493.8 L256.2,493.8 L256.2,493.9 L256.8,493.9 L256.8,493.9 L257.4,493.9 L257.4,493.9 L258,493.9 L258,493.9 L258.6,493.9 L258.6,493.9 L259.2,493.9 L259.2,493.9 L259.8,493.9 L259.8,493.9 L260.4,493.9 L260.4,493.9 L261,493.9 L261,493.9 L261.6,493.9 L261.6,493.9 L262.2,493.9 L262.2,493.9 L262.8,493.9 L262.8,493.9 L263.4,493.9 L263.4,493.9 L264,493.9 L264,493.9 L264.6,493.9 L264.6,493.9 L265.2,493.9 L265.2,493.9 L265.8,493.9 L265.8,493.9 L266.4,493.9 L266.4,493.9 L267,493.9 L267,493.9 L267.6,493.9 L267.6,493.9 L268.2,493.9 L268.2,493.9 L268.8,493.9 L268.8,493.9 L269.4,493.9 L269.4,493.9 L270,493.9 L270,494 L270.6,494 L270.6,494 L271.2,494 L271.2,494 L271.8,494 L271.8,494 L272.4,494 L272.4,494 L273,494 L273,494 L273.6,494 L273.6,494 L274.2,494 L274.2,494 L274.8,494 L274.8,494 L275.4,494 L275.4,494 L276,494 L276,494 L276.6,494 L276.6,494 L277.2,494 L277.2,494 L277.8,494 L277.8,494 L278.4,494 L278.4,494 L279,494 L279,494 L279.6,494 L279.6,494 L280.2,494 L280.2,494 L280.8,494 L280.8,494 L281.4,494 L281.4,494 L282,494 L282,494 L282.6,494 L282.6,494 L283,494" fill="none" stroke="#000" stroke-width="0.9" stroke-linejoin="round"/>
<rect x="197.4" y="424" width="85.6" height="70.4" fill="none" stroke="#111" stroke-width="1.1"/>
<line x1="195.9" y1="494.4" x2="197.4" y2="494.4" stroke="#000" stroke-width="0.6"/>
<text x="195.6" y="495.8" font-size="4.2" text-anchor="end" stroke="#000" stroke-width="0.1">0</text>
<line x1="195.9" y1="480.3" x2="197.4" y2="480.3" stroke="#000" stroke-width="0.6"/>
<text x="195.6" y="481.7" font-size="4.2" text-anchor="end" stroke="#000" stroke-width="0.1">20</text>
<line x1="195.9" y1="466.2" x2="197.4" y2="466.2" stroke="#000" stroke-width="0.6"/>
<text x="195.6" y="467.6" font-size="4.2" text-anchor="end" stroke="#000" stroke-width="0.1">40</text>
<line x1="195.9" y1="452.2" x2="197.4" y2="452.2" stroke="#000" stroke-width="0.6"/>
<text x="195.6" y="453.6" font-size="4.2" text-anchor="end" stroke="#000" stroke-width="0.1">60</text>
<line x1="195.9" y1="438.1" x2="197.4" y2="438.1" stroke="#000" stroke-width="0.6"/>
<text x="195.6" y="439.5" font-size="4.2" text-anchor="end" stroke="#000" stroke-width="0.1">80</text>
<line x1="195.9" y1="424" x2="197.4" y2="424" stroke="#000" stroke-width="0.6"/>
<text x="195.6" y="425.4" font-size="4.2" text-anchor="end" stroke="#000" stroke-width="0.1">100</text>
<text x="187.2" y="460.2" transform="rotate(-90 187.2 460.2)" font-size="6" text-anchor="middle" stroke="#000" stroke-width="0.15">Counts</text>
<line x1="197.4" y1="494.4" x2="197.4" y2="495.9" stroke="#000" stroke-width="0.6"/>
<text x="197.9" y="500" font-size="4" text-anchor="middle" stroke="#000" stroke-width="0.1">10<tspan font-size="3" dy="-1.4">0</tspan></text>
<line x1="218.8" y1="494.4" x2="218.8" y2="495.9" stroke="#000" stroke-width="0.6"/>
<text x="219.3" y="500" font-size="4" text-anchor="middle" stroke="#000" stroke-width="0.1">10<tspan font-size="3" dy="-1.4">1</tspan></text>
<line x1="240.2" y1="494.4" x2="240.2" y2="495.9" stroke="#000" stroke-width="0.6"/>
<text x="240.7" y="500" font-size="4" text-anchor="middle" stroke="#000" stroke-width="0.1">10<tspan font-size="3" dy="-1.4">2</tspan></text>
<line x1="261.6" y1="494.4" x2="261.6" y2="495.9" stroke="#000" stroke-width="0.6"/>
<text x="262.1" y="500" font-size="4" text-anchor="middle" stroke="#000" stroke-width="0.1">10<tspan font-size="3" dy="-1.4">3</tspan></text>
<line x1="283" y1="494.4" x2="283" y2="495.9" stroke="#000" stroke-width="0.6"/>
<text x="283.5" y="500" font-size="4" text-anchor="middle" stroke="#000" stroke-width="0.1">10<tspan font-size="3" dy="-1.4">4</tspan></text>
<path d="M316.8,493 L316.8,424.4 L317.4,424.4 L317.4,423.9 L318,423.9 L318,451.2 L318.6,451.2 L318.6,446.9 L319.2,446.9 L319.2,442.5 L319.8,442.5 L319.8,439.2 L320.4,439.2 L320.4,435.3 L321,435.3 L321,432.6 L321.6,432.6 L321.6,429.9 L322.2,429.9 L322.2,428.9 L322.8,428.9 L322.8,428.5 L323.4,428.5 L323.4,427.6 L324,427.6 L324,427.3 L324.6,427.3 L324.6,426.9 L325.2,426.9 L325.2,427.5 L325.8,427.5 L325.8,428.6 L326.4,428.6 L326.4,431.8 L327,431.8 L327,437.1 L327.6,437.1 L327.6,446.3 L328.2,446.3 L328.2,453.9 L328.8,453.9 L328.8,459.5 L329.4,459.5 L329.4,466.2 L330,466.2 L330,475.4 L330.6,475.4 L330.6,480.2 L331.2,480.2 L331.2,483.9 L331.8,483.9 L331.8,486.6 L332.4,486.6 L332.4,488.8 L333,488.8 L333,489.6 L333.6,489.6 L333.6,490.7 L334.2,490.7 L334.2,491 L334.8,491 L334.8,491.6 L335.4,491.6 L335.4,491.9 L336,491.9 L336,492.2 L336.6,492.2 L336.6,492.3 L337.2,492.3 L337.2,492.3 L337.8,492.3 L337.8,492.4 L338.4,492.4 L338.4,492.5 L339,492.5 L339,492.5 L339.6,492.5 L339.6,492.6 L340,492.6 L340,493 Z" fill="#000"/>
<path d="M327.6,455.3 L328.2,455.3 L328.2,457 L328.8,457 L328.8,457.7 L329.4,457.7 L329.4,459.6 L330,459.6 L330,464.2 L330.6,464.2 L330.6,469.2 L331.2,469.2 L331.2,474.7 L331.8,474.7 L331.8,479.5 L332.4,479.5 L332.4,483.1 L333,483.1 L333,485.7 L333.6,485.7 L333.6,488.1 L334.2,488.1 L334.2,489 L334.8,489 L334.8,489.5 L335.4,489.5 L335.4,490.2 L336,490.2 L336,490.7 L336.6,490.7 L336.6,491.2 L337.2,491.2 L337.2,491.4 L337.8,491.4 L337.8,491.9 L338.4,491.9 L338.4,492.2 L339,492.2 L339,492.2 L339.6,492.2 L339.6,492.2 L340.2,492.2 L340.2,492.3 L340.8,492.3 L340.8,492.3 L341.4,492.3 L341.4,492.3 L342,492.3 L342,492.3 L342.6,492.3 L342.6,492.3 L343.2,492.3 L343.2,492.3 L343.8,492.3 L343.8,492.4 L344.4,492.4 L344.4,492.4 L345,492.4 L345,492.4 L345.6,492.4 L345.6,492.4 L346.2,492.4 L346.2,492.4 L346.8,492.4 L346.8,492.5 L347.4,492.5 L347.4,492.5 L348,492.5 L348,492.5 L348.6,492.5 L348.6,492.5 L349.2,492.5 L349.2,492.5 L349.8,492.5 L349.8,492.5 L350.4,492.5 L350.4,492.6 L351,492.6 L351,492.6 L351.6,492.6 L351.6,492.6 L352.2,492.6 L352.2,492.6 L352.8,492.6 L352.8,492.6 L353.4,492.6 L353.4,492.6 L354,492.6 L354,492.6 L354.6,492.6 L354.6,492.6 L355.2,492.6 L355.2,492.6 L355.8,492.6 L355.8,492.6 L356.4,492.6 L356.4,492.6 L357,492.6 L357,492.6 L357.6,492.6 L357.6,492.6 L358.2,492.6 L358.2,492.6 L358.8,492.6 L358.8,492.6 L359.4,492.6 L359.4,492.6 L360,492.6 L360,492.6 L360.6,492.6 L360.6,492.6 L361.2,492.6 L361.2,492.6 L361.8,492.6 L361.8,492.6 L362.4,492.6 L362.4,492.6 L363,492.6 L363,492.6 L363.6,492.6 L363.6,492.6 L364.2,492.6 L364.2,492.6 L364.8,492.6 L364.8,492.6 L365.4,492.6 L365.4,492.6 L366,492.6 L366,492.6 L366.6,492.6 L366.6,492.6 L367.2,492.6 L367.2,492.6 L367.8,492.6 L367.8,492.6 L368.4,492.6 L368.4,492.6 L369,492.6 L369,492.6 L369.6,492.6 L369.6,492.6 L370.2,492.6 L370.2,492.6 L370.8,492.6 L370.8,492.6 L371.4,492.6 L371.4,492.6 L372,492.6 L372,492.6 L372.6,492.6 L372.6,492.6 L373.2,492.6 L373.2,492.6 L373.8,492.6 L373.8,492.6 L374.4,492.6 L374.4,492.6 L375,492.6 L375,492.6 L375.6,492.6 L375.6,492.6 L376.2,492.6 L376.2,492.6 L376.8,492.6 L376.8,492.6 L377.4,492.6 L377.4,492.6 L378,492.6 L378,492.6 L378.6,492.6 L378.6,492.6 L379.2,492.6 L379.2,492.6 L379.8,492.6 L379.8,492.6 L380.4,492.6 L380.4,492.6 L381,492.6 L381,492.6 L381.6,492.6 L381.6,492.6 L382.2,492.6 L382.2,492.6 L382.8,492.6 L382.8,492.6 L383.4,492.6 L383.4,492.6 L384,492.6 L384,492.6 L384.6,492.6 L384.6,492.6 L385.2,492.6 L385.2,492.6 L385.8,492.6 L385.8,492.6 L386.4,492.6 L386.4,492.6 L387,492.6 L387,492.6 L387.6,492.6 L387.6,492.6 L388.2,492.6 L388.2,492.6 L388.8,492.6 L388.8,492.6 L389.4,492.6 L389.4,492.6 L390,492.6 L390,492.6 L390.6,492.6 L390.6,492.6 L391.2,492.6 L391.2,492.6 L391.8,492.6 L391.8,492.6 L392.4,492.6 L392.4,492.6 L393,492.6 L393,492.6 L393.6,492.6 L393.6,492.6 L394.2,492.6 L394.2,492.6 L394.8,492.6 L394.8,492.6 L395.4,492.6 L395.4,492.6 L396,492.6 L396,492.6 L396.6,492.6 L396.6,492.6 L397.2,492.6 L397.2,492.6 L397.8,492.6 L397.8,492.6 L398.4,492.6 L398.4,492.6 L399,492.6 L399,492.6 L399.6,492.6 L399.6,492.6 L400.2,492.6 L400.2,492.6 L400.8,492.6 L400.8,492.6 L401.4,492.6 L401.4,492.6 L402,492.6" fill="none" stroke="#000" stroke-width="0.9" stroke-linejoin="round"/>
<line x1="317.0" y1="423" x2="317.0" y2="493" stroke="#000" stroke-width="1.4"/>
<rect x="316.6" y="423" width="85.4" height="70" fill="none" stroke="#111" stroke-width="1.1"/>
<line x1="315.1" y1="493" x2="316.6" y2="493" stroke="#000" stroke-width="0.6"/>
<text x="314.8" y="494.4" font-size="4.2" text-anchor="end" stroke="#000" stroke-width="0.1">0</text>
<line x1="315.1" y1="479" x2="316.6" y2="479" stroke="#000" stroke-width="0.6"/>
<text x="314.8" y="480.4" font-size="4.2" text-anchor="end" stroke="#000" stroke-width="0.1">20</text>
<line x1="315.1" y1="465" x2="316.6" y2="465" stroke="#000" stroke-width="0.6"/>
<text x="314.8" y="466.4" font-size="4.2" text-anchor="end" stroke="#000" stroke-width="0.1">40</text>
<line x1="315.1" y1="451" x2="316.6" y2="451" stroke="#000" stroke-width="0.6"/>
<text x="314.8" y="452.4" font-size="4.2" text-anchor="end" stroke="#000" stroke-width="0.1">60</text>
<line x1="315.1" y1="437" x2="316.6" y2="437" stroke="#000" stroke-width="0.6"/>
<text x="314.8" y="438.4" font-size="4.2" text-anchor="end" stroke="#000" stroke-width="0.1">80</text>
<line x1="315.1" y1="423" x2="316.6" y2="423" stroke="#000" stroke-width="0.6"/>
<text x="314.8" y="424.4" font-size="4.2" text-anchor="end" stroke="#000" stroke-width="0.1">100</text>
<text x="306.4" y="459" transform="rotate(-90 306.4 459)" font-size="6" text-anchor="middle" stroke="#000" stroke-width="0.15">Counts</text>
<line x1="316.6" y1="493" x2="316.6" y2="494.5" stroke="#000" stroke-width="0.6"/>
<text x="317.1" y="498.6" font-size="4" text-anchor="middle" stroke="#000" stroke-width="0.1">10<tspan font-size="3" dy="-1.4">0</tspan></text>
<line x1="338" y1="493" x2="338" y2="494.5" stroke="#000" stroke-width="0.6"/>
<text x="338.5" y="498.6" font-size="4" text-anchor="middle" stroke="#000" stroke-width="0.1">10<tspan font-size="3" dy="-1.4">1</tspan></text>
<line x1="359.3" y1="493" x2="359.3" y2="494.5" stroke="#000" stroke-width="0.6"/>
<text x="359.8" y="498.6" font-size="4" text-anchor="middle" stroke="#000" stroke-width="0.1">10<tspan font-size="3" dy="-1.4">2</tspan></text>
<line x1="380.6" y1="493" x2="380.6" y2="494.5" stroke="#000" stroke-width="0.6"/>
<text x="381.1" y="498.6" font-size="4" text-anchor="middle" stroke="#000" stroke-width="0.1">10<tspan font-size="3" dy="-1.4">3</tspan></text>
<line x1="402" y1="493" x2="402" y2="494.5" stroke="#000" stroke-width="0.6"/>
<text x="402.5" y="498.6" font-size="4" text-anchor="middle" stroke="#000" stroke-width="0.1">10<tspan font-size="3" dy="-1.4">4</tspan></text>
<path d="M430.2,493.6 L430.2,480.3 L430.8,480.3 L430.8,478.8 L431.4,478.8 L431.4,478.3 L432,478.3 L432,476.7 L432.6,476.7 L432.6,475.7 L433.2,475.7 L433.2,473.9 L433.8,473.9 L433.8,472.9 L434.4,472.9 L434.4,471 L435,471 L435,469.9 L435.6,469.9 L435.6,468.4 L436.2,468.4 L436.2,467.3 L436.8,467.3 L436.8,465.7 L437.4,465.7 L437.4,463.1 L438,463.1 L438,460.8 L438.6,460.8 L438.6,458.8 L439.2,458.8 L439.2,455.8 L439.8,455.8 L439.8,454.2 L440.4,454.2 L440.4,451.9 L441,451.9 L441,450 L441.6,450 L441.6,448.2 L442.2,448.2 L442.2,447 L442.8,447 L442.8,444.9 L443.4,444.9 L443.4,442 L444,442 L444,439.4 L444.6,439.4 L444.6,435.6 L445.2,435.6 L445.2,432.8 L445.8,432.8 L445.8,429.4 L446.4,429.4 L446.4,432.2 L447,432.2 L447,438.7 L447.6,438.7 L447.6,439.2 L448.2,439.2 L448.2,438.7 L448.8,438.7 L448.8,441.9 L449.4,441.9 L449.4,445.3 L450,445.3 L450,451.7 L450.6,451.7 L450.6,457.2 L451.2,457.2 L451.2,462.2 L451.8,462.2 L451.8,467.6 L452.4,467.6 L452.4,471.9 L453,471.9 L453,476.8 L453.6,476.8 L453.6,480.4 L454.2,480.4 L454.2,484.7 L454.8,484.7 L454.8,486.9 L455.4,486.9 L455.4,489.5 L456,489.5 L456,490.8 L456.6,490.8 L456.6,491.8 L457.2,491.8 L457.2,492.3 L457.8,492.3 L457.8,492.6 L458.4,492.6 L458.4,492.8 L459,492.8 L459,493 L459.6,493 L459.6,493.2 L460,493.2 L460,493.6 Z" fill="#000"/>
<path d="M454.9,479.3 L455.5,479.3 L455.5,476.2 L456.1,476.2 L456.1,473.5 L456.7,473.5 L456.7,469 L457.3,469 L457.3,464.8 L457.9,464.8 L457.9,456.9 L458.5,456.9 L458.5,450.2 L459.1,450.2 L459.1,447.2 L459.7,447.2 L459.7,444.5 L460.3,444.5 L460.3,442.3 L460.9,442.3 L460.9,439.8 L461.5,439.8 L461.5,438 L462.1,438 L462.1,434.1 L462.7,434.1 L462.7,430.1 L463.3,430.1 L463.3,427.4 L463.9,427.4 L463.9,431.2 L464.5,431.2 L464.5,435.2 L465.1,435.2 L465.1,439.7 L465.7,439.7 L465.7,443.7 L466.3,443.7 L466.3,447.9 L466.9,447.9 L466.9,452 L467.5,452 L467.5,456.9 L468.1,456.9 L468.1,461.4 L468.7,461.4 L468.7,465.6 L469.3,465.6 L469.3,470.7 L469.9,470.7 L469.9,475.4 L470.5,475.4 L470.5,479.1 L471.1,479.1 L471.1,482.9 L471.7,482.9 L471.7,485.2 L472.3,485.2 L472.3,487 L472.9,487 L472.9,488.2 L473.5,488.2 L473.5,489.3 L474.1,489.3 L474.1,490 L474.7,490 L474.7,490.8 L475.3,490.8 L475.3,491.1 L475.9,491.1 L475.9,491.2 L476.5,491.2 L476.5,491.6 L477.1,491.6 L477.1,491.7 L477.7,491.7 L477.7,491.9 L478.3,491.9 L478.3,491.9 L478.9,491.9 L478.9,492 L479.5,492 L479.5,492 L480.1,492 L480.1,492.1 L480.7,492.1 L480.7,492 L481.3,492 L481.3,492.2 L481.9,492.2 L481.9,492.1 L482.5,492.1 L482.5,492.1 L483.1,492.1 L483.1,492.2 L483.7,492.2 L483.7,492.2 L484.3,492.2 L484.3,492.3 L484.9,492.3 L484.9,492.4 L485.5,492.4 L485.5,492.4 L486.1,492.4 L486.1,492.4 L486.7,492.4 L486.7,492.4 L487.3,492.4 L487.3,492.5 L487.9,492.5 L487.9,492.4 L488.5,492.4 L488.5,492.5 L489.1,492.5 L489.1,492.5 L489.7,492.5 L489.7,492.6 L490.3,492.6 L490.3,492.5 L490.9,492.5 L490.9,492.6 L491.5,492.6 L491.5,492.6 L492.1,492.6 L492.1,492.6 L492.7,492.6 L492.7,492.6 L493.3,492.6 L493.3,492.7 L493.9,492.7 L493.9,492.6 L494.5,492.6 L494.5,492.6 L495.1,492.6 L495.1,492.6 L495.7,492.6 L495.7,492.6 L496.3,492.6 L496.3,492.7 L496.9,492.7 L496.9,492.7 L497.5,492.7 L497.5,492.7 L498.1,492.7 L498.1,492.7 L498.7,492.7 L498.7,492.7 L499.3,492.7 L499.3,492.7 L499.9,492.7 L499.9,492.7 L500.5,492.7 L500.5,492.7 L501.1,492.7 L501.1,492.8 L501.7,492.8 L501.7,492.8 L502.3,492.8 L502.3,492.8 L502.9,492.8 L502.9,492.8 L503.5,492.8 L503.5,492.8 L504.1,492.8 L504.1,492.8 L504.7,492.8 L504.7,492.8 L505.3,492.8 L505.3,492.8 L505.9,492.8 L505.9,492.9 L506.5,492.9 L506.5,492.9 L507.1,492.9 L507.1,492.9 L507.7,492.9 L507.7,492.9 L508.3,492.9 L508.3,492.9 L508.9,492.9 L508.9,492.9 L509.5,492.9 L509.5,492.9 L510.1,492.9 L510.1,492.9 L510.7,492.9 L510.7,493 L511.3,493 L511.3,493 L511.9,493 L511.9,493 L512.5,493 L512.5,493 L513,493" fill="none" stroke="#000" stroke-width="0.9" stroke-linejoin="round"/>
<rect x="429.6" y="423" width="84" height="70.6" fill="none" stroke="#111" stroke-width="1.1"/>
<line x1="428.1" y1="493.6" x2="429.6" y2="493.6" stroke="#000" stroke-width="0.6"/>
<text x="427.8" y="495" font-size="4.2" text-anchor="end" stroke="#000" stroke-width="0.1">0</text>
<line x1="428.1" y1="479.5" x2="429.6" y2="479.5" stroke="#000" stroke-width="0.6"/>
<text x="427.8" y="480.9" font-size="4.2" text-anchor="end" stroke="#000" stroke-width="0.1">20</text>
<line x1="428.1" y1="465.4" x2="429.6" y2="465.4" stroke="#000" stroke-width="0.6"/>
<text x="427.8" y="466.8" font-size="4.2" text-anchor="end" stroke="#000" stroke-width="0.1">40</text>
<line x1="428.1" y1="451.2" x2="429.6" y2="451.2" stroke="#000" stroke-width="0.6"/>
<text x="427.8" y="452.6" font-size="4.2" text-anchor="end" stroke="#000" stroke-width="0.1">60</text>
<line x1="428.1" y1="437.1" x2="429.6" y2="437.1" stroke="#000" stroke-width="0.6"/>
<text x="427.8" y="438.5" font-size="4.2" text-anchor="end" stroke="#000" stroke-width="0.1">80</text>
<line x1="428.1" y1="423" x2="429.6" y2="423" stroke="#000" stroke-width="0.6"/>
<text x="427.8" y="424.4" font-size="4.2" text-anchor="end" stroke="#000" stroke-width="0.1">100</text>
<text x="419.4" y="459.3" transform="rotate(-90 419.4 459.3)" font-size="6" text-anchor="middle" stroke="#000" stroke-width="0.15">Counts</text>
<line x1="429.6" y1="493.6" x2="429.6" y2="495.1" stroke="#000" stroke-width="0.6"/>
<text x="430.1" y="499.2" font-size="4" text-anchor="middle" stroke="#000" stroke-width="0.1">10<tspan font-size="3" dy="-1.4">0</tspan></text>
<line x1="450.6" y1="493.6" x2="450.6" y2="495.1" stroke="#000" stroke-width="0.6"/>
<text x="451.1" y="499.2" font-size="4" text-anchor="middle" stroke="#000" stroke-width="0.1">10<tspan font-size="3" dy="-1.4">1</tspan></text>
<line x1="471.6" y1="493.6" x2="471.6" y2="495.1" stroke="#000" stroke-width="0.6"/>
<text x="472.1" y="499.2" font-size="4" text-anchor="middle" stroke="#000" stroke-width="0.1">10<tspan font-size="3" dy="-1.4">2</tspan></text>
<line x1="492.6" y1="493.6" x2="492.6" y2="495.1" stroke="#000" stroke-width="0.6"/>
<text x="493.1" y="499.2" font-size="4" text-anchor="middle" stroke="#000" stroke-width="0.1">10<tspan font-size="3" dy="-1.4">3</tspan></text>
<line x1="513.6" y1="493.6" x2="513.6" y2="495.1" stroke="#000" stroke-width="0.6"/>
<text x="514.1" y="499.2" font-size="4" text-anchor="middle" stroke="#000" stroke-width="0.1">10<tspan font-size="3" dy="-1.4">4</tspan></text>
<rect x="413.5" y="11.5" width="107.5" height="82.0" fill="none" stroke="#e0e0e0" stroke-width="0.9"/>
<line x1="62.2" y1="95" x2="62.2" y2="168" stroke="#e0e0e0" stroke-width="0.9"/>
<line x1="62.2" y1="95" x2="172" y2="95" stroke="#e0e0e0" stroke-width="0.9"/>
<line x1="66.9" y1="170" x2="66.9" y2="250" stroke="#e0e0e0" stroke-width="0.9"/>
<line x1="66.9" y1="170" x2="178" y2="170" stroke="#e0e0e0" stroke-width="0.9"/>
<line x1="296.5" y1="171.5" x2="296.5" y2="250" stroke="#e0e0e0" stroke-width="0.9"/>
<line x1="296.5" y1="171.5" x2="405" y2="171.5" stroke="#e0e0e0" stroke-width="0.9"/>
<line x1="62.2" y1="252.6" x2="62.2" y2="328" stroke="#e0e0e0" stroke-width="0.9"/>
<line x1="64" y1="334" x2="64" y2="418" stroke="#e0e0e0" stroke-width="0.9"/>
<line x1="64" y1="334" x2="175.6" y2="334" stroke="#e0e0e0" stroke-width="0.9"/>
<line x1="175.6" y1="334" x2="175.6" y2="418" stroke="#e0e0e0" stroke-width="0.9"/>
<line x1="414" y1="252.8" x2="414" y2="330" stroke="#e0e0e0" stroke-width="0.9"/>
<line x1="414" y1="252.8" x2="521" y2="252.8" stroke="#e0e0e0" stroke-width="0.9"/>
<text x="124.6" y="8.6" font-size="11.3" font-weight="bold" text-anchor="middle" stroke="#000" stroke-width="0.35">HLA-ABC</text>
<text x="240.7" y="8.6" font-size="11.3" font-weight="bold" text-anchor="middle" stroke="#000" stroke-width="0.35">HLA-DR</text>
<text x="354.3" y="8.6" font-size="11.3" font-weight="bold" text-anchor="middle" stroke="#000" stroke-width="0.35">HLA-G</text>
<text x="466.7" y="8.6" font-size="11.3" font-weight="bold" text-anchor="middle" stroke="#000" stroke-width="0.35">HLA-E</text>
<text x="-0.6" y="62.3" font-size="11.2" font-weight="bold" stroke="#000" stroke-width="0.3">Fibroblasts</text>
<text x="-0.6" y="143.3" font-size="11.2" font-weight="bold" stroke="#000" stroke-width="0.3">iPS cells</text>
<text x="-0.6" y="212.8" font-size="11.2" font-weight="bold" stroke="#000" stroke-width="0.3">iPS-</text>
<text x="-0.6" y="226" font-size="11.2" font-weight="bold" stroke="#000" stroke-width="0.3">HPCs</text>
<text x="-0.6" y="292.1" font-size="11.2" font-weight="bold" stroke="#000" stroke-width="0.3">ES cells</text>
<text x="-0.6" y="366.6" font-size="11.2" font-weight="bold" stroke="#000" stroke-width="0.3">hES-</text>
<text x="-0.6" y="381" font-size="11.2" font-weight="bold" stroke="#000" stroke-width="0.3">HPCs</text>
<text x="-0.6" y="455.4" font-size="11.2" font-weight="bold" stroke="#000" stroke-width="0.3">UCB-</text>
<text x="-0.6" y="468.8" font-size="11.2" font-weight="bold" stroke="#000" stroke-width="0.3">HPCs</text>
</svg></body></html>
